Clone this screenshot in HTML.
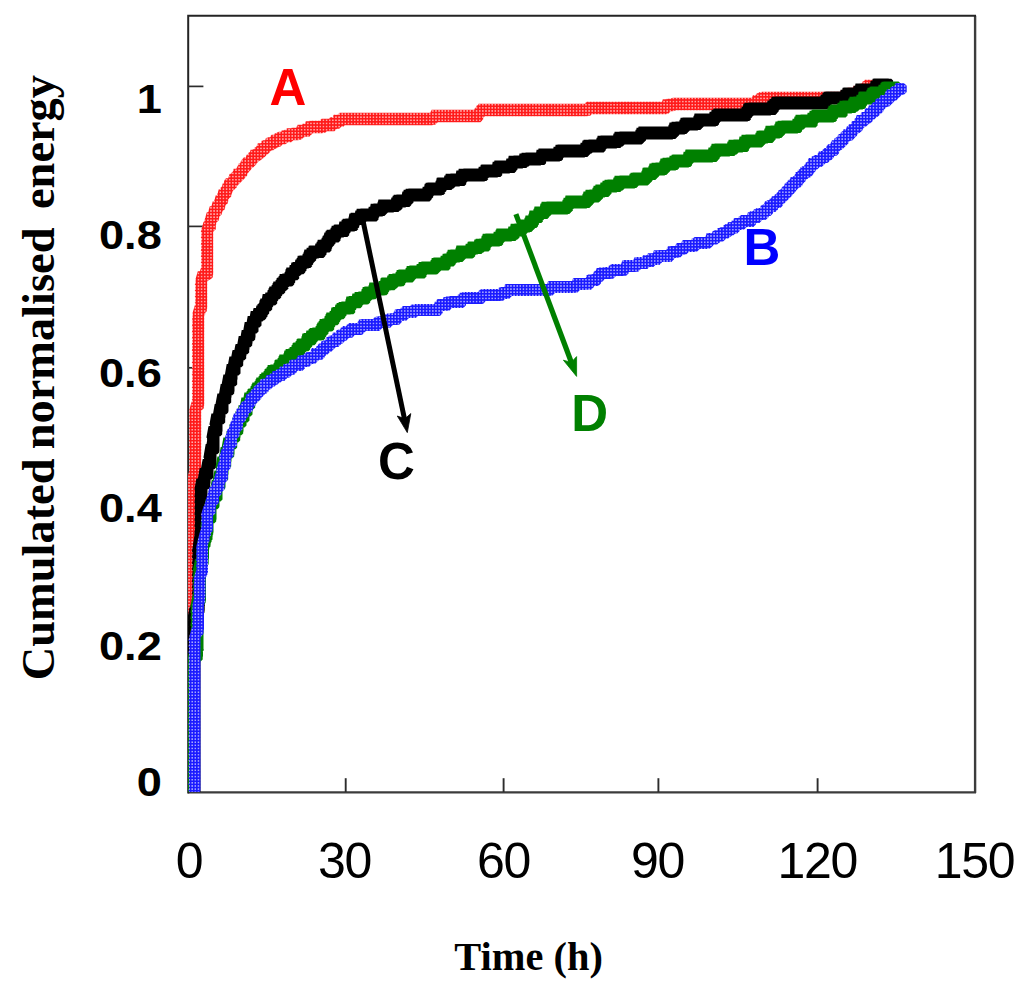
<!DOCTYPE html>
<html><head><meta charset="utf-8">
<style>
html,body{margin:0;padding:0;background:#fff;}
body{width:1024px;height:998px;overflow:hidden;position:relative;font-family:"Liberation Sans",sans-serif;}
svg{position:absolute;left:0;top:0;}
text{font-family:"Liberation Sans",sans-serif;}
.yl{font-weight:bold;font-size:40px;fill:#000;text-anchor:end;}
.xl{font-size:50px;fill:#000;text-anchor:middle;letter-spacing:-1.3px;}
.ser{font-weight:bold;font-size:51px;}
.ttl{font-family:"Liberation Serif",serif;font-weight:bold;fill:#000;}
</style></head>
<body>
<svg width="1024" height="998" viewBox="0 0 1024 998">
<defs>
<clipPath id="plot"><rect x="188" y="15" width="787" height="777"/></clipPath>
<pattern id="pr" width="3.125" height="3.125" patternUnits="userSpaceOnUse"><rect width="3.125" height="3.125" fill="#ff1a1a"/><rect x="0.85" y="0.85" width="1.5" height="1.5" fill="#ffb0b0"/></pattern>
<pattern id="pb" width="3.125" height="3.125" patternUnits="userSpaceOnUse"><rect width="3.125" height="3.125" fill="#1a1aff"/><rect x="0.85" y="0.85" width="1.5" height="1.5" fill="#acacff"/></pattern>
</defs>
<rect width="1024" height="998" fill="#fff"/>
<!-- frame -->
<path d="M975.1 15.7V792.4H188.2" fill="none" stroke="#3c3c3c" stroke-width="2.4" stroke-linejoin="round"/>
<path d="M188.2 793.5V15.7H976" fill="none" stroke="#242424" stroke-width="2"/>
<!-- ticks -->
<g stroke="#2c2c2c" stroke-width="1.7">
<line x1="188" y1="86.4" x2="203.4" y2="86.4"/>
<line x1="188" y1="226.4" x2="203.4" y2="226.4"/>
<line x1="188" y1="367.8" x2="203.4" y2="367.8"/>
<line x1="188" y1="509" x2="203.4" y2="509"/>
<line x1="188" y1="649.8" x2="203.4" y2="649.8"/>
</g>
<g stroke="#2c2c2c" stroke-width="1.9">
<line x1="345.7" y1="778.2" x2="345.7" y2="792"/>
<line x1="503.6" y1="778.2" x2="503.6" y2="792"/>
<line x1="658.4" y1="778.2" x2="658.4" y2="792"/>
<line x1="817.6" y1="778.2" x2="817.6" y2="792"/>
</g>
<!-- series -->
<g clip-path="url(#plot)">
<path fill="url(#pr)" d="M185.8 786.2h6.4l2.6 2.6v6.4l-2.6 2.6h-6.4l-2.6-2.6zM185.8 784.2h6.4l2.6 2.6v6.4l-2.6 2.6h-6.4l-2.6-2.6zM185.8 783.2h6.4l2.6 2.6v6.4l-2.6 2.6h-6.4l-2.6-2.6zM185.6 780.8h6.8l2.8 2.8v6.8l-2.8 2.8h-6.8l-2.8-2.8zM185.8 780.2h6.4l2.6 2.6v6.4l-2.6 2.6h-6.4l-2.6-2.6zM185.8 778.2h6.4l2.6 2.6v6.4l-2.6 2.6h-6.4l-2.6-2.6zM185.8 777.2h6.4l2.6 2.6v6.4l-2.6 2.6h-6.4l-2.6-2.6zM185.6 774.8h6.8l2.8 2.8v6.8l-2.8 2.8h-6.8l-2.8-2.8zM185.8 774.2h6.4l2.6 2.6v6.4l-2.6 2.6h-6.4l-2.6-2.6zM185.8 772.2h6.4l2.6 2.6v6.4l-2.6 2.6h-6.4l-2.6-2.6zM185.8 771.2h6.4l2.6 2.6v6.4l-2.6 2.6h-6.4l-2.6-2.6zM185.6 768.8h6.8l2.8 2.8v6.8l-2.8 2.8h-6.8l-2.8-2.8zM185.8 768.2h6.4l2.6 2.6v6.4l-2.6 2.6h-6.4l-2.6-2.6zM185.8 766.2h6.4l2.6 2.6v6.4l-2.6 2.6h-6.4l-2.6-2.6zM185.8 765.2h6.4l2.6 2.6v6.4l-2.6 2.6h-6.4l-2.6-2.6zM185.6 762.8h6.8l2.8 2.8v6.8l-2.8 2.8h-6.8l-2.8-2.8zM185.8 762.2h6.4l2.6 2.6v6.4l-2.6 2.6h-6.4l-2.6-2.6zM185.8 760.2h6.4l2.6 2.6v6.4l-2.6 2.6h-6.4l-2.6-2.6zM185.8 759.2h6.4l2.6 2.6v6.4l-2.6 2.6h-6.4l-2.6-2.6zM185.6 756.8h6.8l2.8 2.8v6.8l-2.8 2.8h-6.8l-2.8-2.8zM185.8 756.2h6.4l2.6 2.6v6.4l-2.6 2.6h-6.4l-2.6-2.6zM185.8 754.2h6.4l2.6 2.6v6.4l-2.6 2.6h-6.4l-2.6-2.6zM185.8 753.2h6.4l2.6 2.6v6.4l-2.6 2.6h-6.4l-2.6-2.6zM185.6 750.8h6.8l2.8 2.8v6.8l-2.8 2.8h-6.8l-2.8-2.8zM185.8 750.2h6.4l2.6 2.6v6.4l-2.6 2.6h-6.4l-2.6-2.6zM185.8 748.2h6.4l2.6 2.6v6.4l-2.6 2.6h-6.4l-2.6-2.6zM185.8 747.2h6.4l2.6 2.6v6.4l-2.6 2.6h-6.4l-2.6-2.6zM185.6 744.8h6.8l2.8 2.8v6.8l-2.8 2.8h-6.8l-2.8-2.8zM185.8 744.2h6.4l2.6 2.6v6.4l-2.6 2.6h-6.4l-2.6-2.6zM185.8 742.2h6.4l2.6 2.6v6.4l-2.6 2.6h-6.4l-2.6-2.6zM185.8 741.2h6.4l2.6 2.6v6.4l-2.6 2.6h-6.4l-2.6-2.6zM185.6 738.8h6.8l2.8 2.8v6.8l-2.8 2.8h-6.8l-2.8-2.8zM185.8 738.2h6.4l2.6 2.6v6.4l-2.6 2.6h-6.4l-2.6-2.6zM185.8 736.2h6.4l2.6 2.6v6.4l-2.6 2.6h-6.4l-2.6-2.6zM185.8 735.2h6.4l2.6 2.6v6.4l-2.6 2.6h-6.4l-2.6-2.6zM185.6 732.8h6.8l2.8 2.8v6.8l-2.8 2.8h-6.8l-2.8-2.8zM185.8 732.2h6.4l2.6 2.6v6.4l-2.6 2.6h-6.4l-2.6-2.6zM185.8 730.2h6.4l2.6 2.6v6.4l-2.6 2.6h-6.4l-2.6-2.6zM185.8 729.2h6.4l2.6 2.6v6.4l-2.6 2.6h-6.4l-2.6-2.6zM185.6 726.8h6.8l2.8 2.8v6.8l-2.8 2.8h-6.8l-2.8-2.8zM185.8 726.2h6.4l2.6 2.6v6.4l-2.6 2.6h-6.4l-2.6-2.6zM185.8 724.2h6.4l2.6 2.6v6.4l-2.6 2.6h-6.4l-2.6-2.6zM185.8 723.2h6.4l2.6 2.6v6.4l-2.6 2.6h-6.4l-2.6-2.6zM185.6 720.8h6.8l2.8 2.8v6.8l-2.8 2.8h-6.8l-2.8-2.8zM185.8 720.2h6.4l2.6 2.6v6.4l-2.6 2.6h-6.4l-2.6-2.6zM185.8 718.2h6.4l2.6 2.6v6.4l-2.6 2.6h-6.4l-2.6-2.6zM185.8 717.2h6.4l2.6 2.6v6.4l-2.6 2.6h-6.4l-2.6-2.6zM185.6 714.8h6.8l2.8 2.8v6.8l-2.8 2.8h-6.8l-2.8-2.8zM185.8 714.2h6.4l2.6 2.6v6.4l-2.6 2.6h-6.4l-2.6-2.6zM185.8 712.2h6.4l2.6 2.6v6.4l-2.6 2.6h-6.4l-2.6-2.6zM185.8 711.2h6.4l2.6 2.6v6.4l-2.6 2.6h-6.4l-2.6-2.6zM185.6 708.8h6.8l2.8 2.8v6.8l-2.8 2.8h-6.8l-2.8-2.8zM185.8 708.2h6.4l2.6 2.6v6.4l-2.6 2.6h-6.4l-2.6-2.6zM185.8 706.2h6.4l2.6 2.6v6.4l-2.6 2.6h-6.4l-2.6-2.6zM185.8 705.2h6.4l2.6 2.6v6.4l-2.6 2.6h-6.4l-2.6-2.6zM185.6 702.8h6.8l2.8 2.8v6.8l-2.8 2.8h-6.8l-2.8-2.8zM185.8 702.2h6.4l2.6 2.6v6.4l-2.6 2.6h-6.4l-2.6-2.6zM185.8 700.2h6.4l2.6 2.6v6.4l-2.6 2.6h-6.4l-2.6-2.6zM185.8 699.2h6.4l2.6 2.6v6.4l-2.6 2.6h-6.4l-2.6-2.6zM185.6 696.8h6.8l2.8 2.8v6.8l-2.8 2.8h-6.8l-2.8-2.8zM185.8 696.2h6.4l2.6 2.6v6.4l-2.6 2.6h-6.4l-2.6-2.6zM185.8 694.2h6.4l2.6 2.6v6.4l-2.6 2.6h-6.4l-2.6-2.6zM185.8 693.2h6.4l2.6 2.6v6.4l-2.6 2.6h-6.4l-2.6-2.6zM185.6 690.8h6.8l2.8 2.8v6.8l-2.8 2.8h-6.8l-2.8-2.8zM185.8 690.2h6.4l2.6 2.6v6.4l-2.6 2.6h-6.4l-2.6-2.6zM185.8 688.2h6.4l2.6 2.6v6.4l-2.6 2.6h-6.4l-2.6-2.6zM185.8 687.2h6.4l2.6 2.6v6.4l-2.6 2.6h-6.4l-2.6-2.6zM185.6 684.8h6.8l2.8 2.8v6.8l-2.8 2.8h-6.8l-2.8-2.8zM185.8 684.2h6.4l2.6 2.6v6.4l-2.6 2.6h-6.4l-2.6-2.6zM185.8 682.2h6.4l2.6 2.6v6.4l-2.6 2.6h-6.4l-2.6-2.6zM185.8 681.2h6.4l2.6 2.6v6.4l-2.6 2.6h-6.4l-2.6-2.6zM185.6 678.8h6.8l2.8 2.8v6.8l-2.8 2.8h-6.8l-2.8-2.8zM185.8 678.2h6.4l2.6 2.6v6.4l-2.6 2.6h-6.4l-2.6-2.6zM185.8 676.2h6.4l2.6 2.6v6.4l-2.6 2.6h-6.4l-2.6-2.6zM185.8 675.2h6.4l2.6 2.6v6.4l-2.6 2.6h-6.4l-2.6-2.6zM185.6 672.8h6.8l2.8 2.8v6.8l-2.8 2.8h-6.8l-2.8-2.8zM185.8 672.2h6.4l2.6 2.6v6.4l-2.6 2.6h-6.4l-2.6-2.6zM185.8 670.2h6.4l2.6 2.6v6.4l-2.6 2.6h-6.4l-2.6-2.6zM185.8 669.2h6.4l2.6 2.6v6.4l-2.6 2.6h-6.4l-2.6-2.6zM185.6 666.8h6.8l2.8 2.8v6.8l-2.8 2.8h-6.8l-2.8-2.8zM185.8 666.2h6.4l2.6 2.6v6.4l-2.6 2.6h-6.4l-2.6-2.6zM185.8 664.2h6.4l2.6 2.6v6.4l-2.6 2.6h-6.4l-2.6-2.6zM185.8 663.2h6.4l2.6 2.6v6.4l-2.6 2.6h-6.4l-2.6-2.6zM185.6 660.8h6.8l2.8 2.8v6.8l-2.8 2.8h-6.8l-2.8-2.8zM185.8 660.2h6.4l2.6 2.6v6.4l-2.6 2.6h-6.4l-2.6-2.6zM185.8 658.2h6.4l2.6 2.6v6.4l-2.6 2.6h-6.4l-2.6-2.6zM185.8 657.2h6.4l2.6 2.6v6.4l-2.6 2.6h-6.4l-2.6-2.6zM185.6 654.8h6.8l2.8 2.8v6.8l-2.8 2.8h-6.8l-2.8-2.8zM185.8 654.2h6.4l2.6 2.6v6.4l-2.6 2.6h-6.4l-2.6-2.6zM185.8 652.2h6.4l2.6 2.6v6.4l-2.6 2.6h-6.4l-2.6-2.6zM185.8 651.2h6.4l2.6 2.6v6.4l-2.6 2.6h-6.4l-2.6-2.6zM185.6 648.8h6.8l2.8 2.8v6.8l-2.8 2.8h-6.8l-2.8-2.8zM185.8 648.2h6.4l2.6 2.6v6.4l-2.6 2.6h-6.4l-2.6-2.6zM185.8 646.2h6.4l2.6 2.6v6.4l-2.6 2.6h-6.4l-2.6-2.6zM185.8 645.2h6.4l2.6 2.6v6.4l-2.6 2.6h-6.4l-2.6-2.6zM185.6 642.8h6.8l2.8 2.8v6.8l-2.8 2.8h-6.8l-2.8-2.8zM185.8 642.2h6.4l2.6 2.6v6.4l-2.6 2.6h-6.4l-2.6-2.6zM185.8 640.2h6.4l2.6 2.6v6.4l-2.6 2.6h-6.4l-2.6-2.6zM185.8 639.2h6.4l2.6 2.6v6.4l-2.6 2.6h-6.4l-2.6-2.6zM185.6 636.8h6.8l2.8 2.8v6.8l-2.8 2.8h-6.8l-2.8-2.8zM185.8 636.2h6.4l2.6 2.6v6.4l-2.6 2.6h-6.4l-2.6-2.6zM185.8 634.2h6.4l2.6 2.6v6.4l-2.6 2.6h-6.4l-2.6-2.6zM185.8 633.2h6.4l2.6 2.6v6.4l-2.6 2.6h-6.4l-2.6-2.6zM185.6 630.8h6.8l2.8 2.8v6.8l-2.8 2.8h-6.8l-2.8-2.8zM185.8 630.2h6.4l2.6 2.6v6.4l-2.6 2.6h-6.4l-2.6-2.6zM185.8 628.2h6.4l2.6 2.6v6.4l-2.6 2.6h-6.4l-2.6-2.6zM185.8 627.2h6.4l2.6 2.6v6.4l-2.6 2.6h-6.4l-2.6-2.6zM185.6 624.8h6.8l2.8 2.8v6.8l-2.8 2.8h-6.8l-2.8-2.8zM185.8 624.2h6.4l2.6 2.6v6.4l-2.6 2.6h-6.4l-2.6-2.6zM185.8 622.2h6.4l2.6 2.6v6.4l-2.6 2.6h-6.4l-2.6-2.6zM185.8 621.2h6.4l2.6 2.6v6.4l-2.6 2.6h-6.4l-2.6-2.6zM185.6 618.8h6.8l2.8 2.8v6.8l-2.8 2.8h-6.8l-2.8-2.8zM185.8 618.2h6.4l2.6 2.6v6.4l-2.6 2.6h-6.4l-2.6-2.6zM185.8 616.2h6.4l2.6 2.6v6.4l-2.6 2.6h-6.4l-2.6-2.6zM185.8 615.2h6.4l2.6 2.6v6.4l-2.6 2.6h-6.4l-2.6-2.6zM185.6 612.8h6.8l2.8 2.8v6.8l-2.8 2.8h-6.8l-2.8-2.8zM185.8 612.2h6.4l2.6 2.6v6.4l-2.6 2.6h-6.4l-2.6-2.6zM185.8 610.2h6.4l2.6 2.6v6.4l-2.6 2.6h-6.4l-2.6-2.6zM185.8 609.2h6.4l2.6 2.6v6.4l-2.6 2.6h-6.4l-2.6-2.6zM185.6 606.8h6.8l2.8 2.8v6.8l-2.8 2.8h-6.8l-2.8-2.8zM185.8 606.2h6.4l2.6 2.6v6.4l-2.6 2.6h-6.4l-2.6-2.6zM185.8 604.2h6.4l2.6 2.6v6.4l-2.6 2.6h-6.4l-2.6-2.6zM185.8 603.2h6.4l2.6 2.6v6.4l-2.6 2.6h-6.4l-2.6-2.6zM185.6 600.8h6.8l2.8 2.8v6.8l-2.8 2.8h-6.8l-2.8-2.8zM185.8 600.2h6.4l2.6 2.6v6.4l-2.6 2.6h-6.4l-2.6-2.6zM185.8 598.2h6.4l2.6 2.6v6.4l-2.6 2.6h-6.4l-2.6-2.6zM185.8 597.2h6.4l2.6 2.6v6.4l-2.6 2.6h-6.4l-2.6-2.6zM185.6 594.8h6.8l2.8 2.8v6.8l-2.8 2.8h-6.8l-2.8-2.8zM185.8 594.2h6.4l2.6 2.6v6.4l-2.6 2.6h-6.4l-2.6-2.6zM185.8 592.2h6.4l2.6 2.6v6.4l-2.6 2.6h-6.4l-2.6-2.6zM185.8 591.2h6.4l2.6 2.6v6.4l-2.6 2.6h-6.4l-2.6-2.6zM185.6 588.8h6.8l2.8 2.8v6.8l-2.8 2.8h-6.8l-2.8-2.8zM185.8 588.2h6.4l2.6 2.6v6.4l-2.6 2.6h-6.4l-2.6-2.6zM185.8 586.2h6.4l2.6 2.6v6.4l-2.6 2.6h-6.4l-2.6-2.6zM185.8 585.2h6.4l2.6 2.6v6.4l-2.6 2.6h-6.4l-2.6-2.6zM185.6 582.8h6.8l2.8 2.8v6.8l-2.8 2.8h-6.8l-2.8-2.8zM185.8 582.2h6.4l2.6 2.6v6.4l-2.6 2.6h-6.4l-2.6-2.6zM185.8 580.2h6.4l2.6 2.6v6.4l-2.6 2.6h-6.4l-2.6-2.6zM185.8 579.2h6.4l2.6 2.6v6.4l-2.6 2.6h-6.4l-2.6-2.6zM185.6 576.8h6.8l2.8 2.8v6.8l-2.8 2.8h-6.8l-2.8-2.8zM185.8 576.2h6.4l2.6 2.6v6.4l-2.6 2.6h-6.4l-2.6-2.6zM185.8 574.2h6.4l2.6 2.6v6.4l-2.6 2.6h-6.4l-2.6-2.6zM185.8 573.2h6.4l2.6 2.6v6.4l-2.6 2.6h-6.4l-2.6-2.6zM185.6 570.8h6.8l2.8 2.8v6.8l-2.8 2.8h-6.8l-2.8-2.8zM185.8 570.2h6.4l2.6 2.6v6.4l-2.6 2.6h-6.4l-2.6-2.6zM185.8 568.2h6.4l2.6 2.6v6.4l-2.6 2.6h-6.4l-2.6-2.6zM185.8 567.2h6.4l2.6 2.6v6.4l-2.6 2.6h-6.4l-2.6-2.6zM185.6 564.8h6.8l2.8 2.8v6.8l-2.8 2.8h-6.8l-2.8-2.8zM185.8 564.2h6.4l2.6 2.6v6.4l-2.6 2.6h-6.4l-2.6-2.6zM185.8 562.2h6.4l2.6 2.6v6.4l-2.6 2.6h-6.4l-2.6-2.6zM185.8 561.2h6.4l2.6 2.6v6.4l-2.6 2.6h-6.4l-2.6-2.6zM185.6 558.8h6.8l2.8 2.8v6.8l-2.8 2.8h-6.8l-2.8-2.8zM185.8 558.2h6.4l2.6 2.6v6.4l-2.6 2.6h-6.4l-2.6-2.6zM185.8 556.2h6.4l2.6 2.6v6.4l-2.6 2.6h-6.4l-2.6-2.6zM185.8 555.2h6.4l2.6 2.6v6.4l-2.6 2.6h-6.4l-2.6-2.6zM185.6 552.8h6.8l2.8 2.8v6.8l-2.8 2.8h-6.8l-2.8-2.8zM185.8 552.2h6.4l2.6 2.6v6.4l-2.6 2.6h-6.4l-2.6-2.6zM185.8 550.2h6.4l2.6 2.6v6.4l-2.6 2.6h-6.4l-2.6-2.6zM185.8 549.2h6.4l2.6 2.6v6.4l-2.6 2.6h-6.4l-2.6-2.6zM185.6 546.8h6.8l2.8 2.8v6.8l-2.8 2.8h-6.8l-2.8-2.8zM185.8 546.2h6.4l2.6 2.6v6.4l-2.6 2.6h-6.4l-2.6-2.6zM185.8 544.2h6.4l2.6 2.6v6.4l-2.6 2.6h-6.4l-2.6-2.6zM185.8 543.2h6.4l2.6 2.6v6.4l-2.6 2.6h-6.4l-2.6-2.6zM185.6 540.8h6.8l2.8 2.8v6.8l-2.8 2.8h-6.8l-2.8-2.8zM185.8 540.2h6.4l2.6 2.6v6.4l-2.6 2.6h-6.4l-2.6-2.6zM185.8 538.2h6.4l2.6 2.6v6.4l-2.6 2.6h-6.4l-2.6-2.6zM185.8 537.2h6.4l2.6 2.6v6.4l-2.6 2.6h-6.4l-2.6-2.6zM185.6 534.8h6.8l2.8 2.8v6.8l-2.8 2.8h-6.8l-2.8-2.8zM185.8 534.2h6.4l2.6 2.6v6.4l-2.6 2.6h-6.4l-2.6-2.6zM185.8 532.2h6.4l2.6 2.6v6.4l-2.6 2.6h-6.4l-2.6-2.6zM185.8 531.2h6.4l2.6 2.6v6.4l-2.6 2.6h-6.4l-2.6-2.6zM185.6 528.8h6.8l2.8 2.8v6.8l-2.8 2.8h-6.8l-2.8-2.8zM185.8 528.2h6.4l2.6 2.6v6.4l-2.6 2.6h-6.4l-2.6-2.6zM185.8 526.2h6.4l2.6 2.6v6.4l-2.6 2.6h-6.4l-2.6-2.6zM185.8 525.2h6.4l2.6 2.6v6.4l-2.6 2.6h-6.4l-2.6-2.6zM185.6 522.8h6.8l2.8 2.8v6.8l-2.8 2.8h-6.8l-2.8-2.8zM185.8 522.2h6.4l2.6 2.6v6.4l-2.6 2.6h-6.4l-2.6-2.6zM185.8 520.2h6.4l2.6 2.6v6.4l-2.6 2.6h-6.4l-2.6-2.6zM185.8 519.2h6.4l2.6 2.6v6.4l-2.6 2.6h-6.4l-2.6-2.6zM185.6 516.8h6.8l2.8 2.8v6.8l-2.8 2.8h-6.8l-2.8-2.8zM185.8 516.2h6.4l2.6 2.6v6.4l-2.6 2.6h-6.4l-2.6-2.6zM185.8 514.2h6.4l2.6 2.6v6.4l-2.6 2.6h-6.4l-2.6-2.6zM185.8 512.2h6.4l2.6 2.6v6.4l-2.6 2.6h-6.4l-2.6-2.6zM185.6 510.8h6.8l2.8 2.8v6.8l-2.8 2.8h-6.8l-2.8-2.8zM185.8 509.2h6.4l2.6 2.6v6.4l-2.6 2.6h-6.4l-2.6-2.6zM185.8 508.2h6.4l2.6 2.6v6.4l-2.6 2.6h-6.4l-2.6-2.6zM185.8 506.2h6.4l2.6 2.6v6.4l-2.6 2.6h-6.4l-2.6-2.6zM185.6 504.8h6.8l2.8 2.8v6.8l-2.8 2.8h-6.8l-2.8-2.8zM185.8 503.2h6.4l2.6 2.6v6.4l-2.6 2.6h-6.4l-2.6-2.6zM185.8 502.2h6.4l2.6 2.6v6.4l-2.6 2.6h-6.4l-2.6-2.6zM185.8 500.2h6.4l2.6 2.6v6.4l-2.6 2.6h-6.4l-2.6-2.6zM185.6 498.8h6.8l2.8 2.8v6.8l-2.8 2.8h-6.8l-2.8-2.8zM185.8 497.2h6.4l2.6 2.6v6.4l-2.6 2.6h-6.4l-2.6-2.6zM185.8 496.2h6.4l2.6 2.6v6.4l-2.6 2.6h-6.4l-2.6-2.6zM188.8 494.2h6.4l2.6 2.6v6.4l-2.6 2.6h-6.4l-2.6-2.6zM188.6 491.8h6.8l2.8 2.8v6.8l-2.8 2.8h-6.8l-2.8-2.8zM188.8 491.2h6.4l2.6 2.6v6.4l-2.6 2.6h-6.4l-2.6-2.6zM188.8 490.2h6.4l2.6 2.6v6.4l-2.6 2.6h-6.4l-2.6-2.6zM188.8 488.2h6.4l2.6 2.6v6.4l-2.6 2.6h-6.4l-2.6-2.6zM188.6 485.8h6.8l2.8 2.8v6.8l-2.8 2.8h-6.8l-2.8-2.8zM188.8 485.2h6.4l2.6 2.6v6.4l-2.6 2.6h-6.4l-2.6-2.6zM188.8 484.2h6.4l2.6 2.6v6.4l-2.6 2.6h-6.4l-2.6-2.6zM188.8 482.2h6.4l2.6 2.6v6.4l-2.6 2.6h-6.4l-2.6-2.6zM188.6 479.8h6.8l2.8 2.8v6.8l-2.8 2.8h-6.8l-2.8-2.8zM188.8 479.2h6.4l2.6 2.6v6.4l-2.6 2.6h-6.4l-2.6-2.6zM188.8 478.2h6.4l2.6 2.6v6.4l-2.6 2.6h-6.4l-2.6-2.6zM188.8 476.2h6.4l2.6 2.6v6.4l-2.6 2.6h-6.4l-2.6-2.6zM188.6 473.8h6.8l2.8 2.8v6.8l-2.8 2.8h-6.8l-2.8-2.8zM188.8 473.2h6.4l2.6 2.6v6.4l-2.6 2.6h-6.4l-2.6-2.6zM188.8 472.2h6.4l2.6 2.6v6.4l-2.6 2.6h-6.4l-2.6-2.6zM191.8 470.2h6.4l2.6 2.6v6.4l-2.6 2.6h-6.4l-2.6-2.6zM191.6 467.8h6.8l2.8 2.8v6.8l-2.8 2.8h-6.8l-2.8-2.8zM191.8 467.2h6.4l2.6 2.6v6.4l-2.6 2.6h-6.4l-2.6-2.6zM191.8 466.2h6.4l2.6 2.6v6.4l-2.6 2.6h-6.4l-2.6-2.6zM191.8 464.2h6.4l2.6 2.6v6.4l-2.6 2.6h-6.4l-2.6-2.6zM191.6 461.8h6.8l2.8 2.8v6.8l-2.8 2.8h-6.8l-2.8-2.8zM191.8 461.2h6.4l2.6 2.6v6.4l-2.6 2.6h-6.4l-2.6-2.6zM191.8 460.2h6.4l2.6 2.6v6.4l-2.6 2.6h-6.4l-2.6-2.6zM191.8 458.2h6.4l2.6 2.6v6.4l-2.6 2.6h-6.4l-2.6-2.6zM191.6 455.8h6.8l2.8 2.8v6.8l-2.8 2.8h-6.8l-2.8-2.8zM191.8 455.2h6.4l2.6 2.6v6.4l-2.6 2.6h-6.4l-2.6-2.6zM191.8 454.2h6.4l2.6 2.6v6.4l-2.6 2.6h-6.4l-2.6-2.6zM191.8 452.2h6.4l2.6 2.6v6.4l-2.6 2.6h-6.4l-2.6-2.6zM191.6 449.8h6.8l2.8 2.8v6.8l-2.8 2.8h-6.8l-2.8-2.8zM191.8 449.2h6.4l2.6 2.6v6.4l-2.6 2.6h-6.4l-2.6-2.6zM191.8 448.2h6.4l2.6 2.6v6.4l-2.6 2.6h-6.4l-2.6-2.6zM191.8 446.2h6.4l2.6 2.6v6.4l-2.6 2.6h-6.4l-2.6-2.6zM191.6 443.8h6.8l2.8 2.8v6.8l-2.8 2.8h-6.8l-2.8-2.8zM191.8 443.2h6.4l2.6 2.6v6.4l-2.6 2.6h-6.4l-2.6-2.6zM191.8 442.2h6.4l2.6 2.6v6.4l-2.6 2.6h-6.4l-2.6-2.6zM191.8 440.2h6.4l2.6 2.6v6.4l-2.6 2.6h-6.4l-2.6-2.6zM191.6 437.8h6.8l2.8 2.8v6.8l-2.8 2.8h-6.8l-2.8-2.8zM191.8 437.2h6.4l2.6 2.6v6.4l-2.6 2.6h-6.4l-2.6-2.6zM191.8 436.2h6.4l2.6 2.6v6.4l-2.6 2.6h-6.4l-2.6-2.6zM191.8 434.2h6.4l2.6 2.6v6.4l-2.6 2.6h-6.4l-2.6-2.6zM191.6 431.8h6.8l2.8 2.8v6.8l-2.8 2.8h-6.8l-2.8-2.8zM191.8 431.2h6.4l2.6 2.6v6.4l-2.6 2.6h-6.4l-2.6-2.6zM191.8 430.2h6.4l2.6 2.6v6.4l-2.6 2.6h-6.4l-2.6-2.6zM191.8 428.2h6.4l2.6 2.6v6.4l-2.6 2.6h-6.4l-2.6-2.6zM191.6 425.8h6.8l2.8 2.8v6.8l-2.8 2.8h-6.8l-2.8-2.8zM191.8 425.2h6.4l2.6 2.6v6.4l-2.6 2.6h-6.4l-2.6-2.6zM191.8 424.2h6.4l2.6 2.6v6.4l-2.6 2.6h-6.4l-2.6-2.6zM191.8 422.2h6.4l2.6 2.6v6.4l-2.6 2.6h-6.4l-2.6-2.6zM191.6 419.8h6.8l2.8 2.8v6.8l-2.8 2.8h-6.8l-2.8-2.8zM191.8 419.2h6.4l2.6 2.6v6.4l-2.6 2.6h-6.4l-2.6-2.6zM191.8 418.2h6.4l2.6 2.6v6.4l-2.6 2.6h-6.4l-2.6-2.6zM191.8 416.2h6.4l2.6 2.6v6.4l-2.6 2.6h-6.4l-2.6-2.6zM191.6 413.8h6.8l2.8 2.8v6.8l-2.8 2.8h-6.8l-2.8-2.8zM191.8 413.2h6.4l2.6 2.6v6.4l-2.6 2.6h-6.4l-2.6-2.6zM191.8 412.2h6.4l2.6 2.6v6.4l-2.6 2.6h-6.4l-2.6-2.6zM191.8 410.2h6.4l2.6 2.6v6.4l-2.6 2.6h-6.4l-2.6-2.6zM191.6 407.8h6.8l2.8 2.8v6.8l-2.8 2.8h-6.8l-2.8-2.8zM191.8 407.2h6.4l2.6 2.6v6.4l-2.6 2.6h-6.4l-2.6-2.6zM191.8 406.2h6.4l2.6 2.6v6.4l-2.6 2.6h-6.4l-2.6-2.6zM191.8 404.2h6.4l2.6 2.6v6.4l-2.6 2.6h-6.4l-2.6-2.6zM191.6 401.8h6.8l2.8 2.8v6.8l-2.8 2.8h-6.8l-2.8-2.8zM191.8 401.2h6.4l2.6 2.6v6.4l-2.6 2.6h-6.4l-2.6-2.6zM194.8 399.2h6.4l2.6 2.6v6.4l-2.6 2.6h-6.4l-2.6-2.6zM194.8 398.2h6.4l2.6 2.6v6.4l-2.6 2.6h-6.4l-2.6-2.6zM194.6 395.8h6.8l2.8 2.8v6.8l-2.8 2.8h-6.8l-2.8-2.8zM194.8 394.2h6.4l2.6 2.6v6.4l-2.6 2.6h-6.4l-2.6-2.6zM194.8 393.2h6.4l2.6 2.6v6.4l-2.6 2.6h-6.4l-2.6-2.6zM194.8 391.2h6.4l2.6 2.6v6.4l-2.6 2.6h-6.4l-2.6-2.6zM194.6 389.8h6.8l2.8 2.8v6.8l-2.8 2.8h-6.8l-2.8-2.8zM194.8 388.2h6.4l2.6 2.6v6.4l-2.6 2.6h-6.4l-2.6-2.6zM194.8 387.2h6.4l2.6 2.6v6.4l-2.6 2.6h-6.4l-2.6-2.6zM194.8 385.2h6.4l2.6 2.6v6.4l-2.6 2.6h-6.4l-2.6-2.6zM194.6 383.8h6.8l2.8 2.8v6.8l-2.8 2.8h-6.8l-2.8-2.8zM194.8 382.2h6.4l2.6 2.6v6.4l-2.6 2.6h-6.4l-2.6-2.6zM194.8 381.2h6.4l2.6 2.6v6.4l-2.6 2.6h-6.4l-2.6-2.6zM194.8 379.2h6.4l2.6 2.6v6.4l-2.6 2.6h-6.4l-2.6-2.6zM194.6 377.8h6.8l2.8 2.8v6.8l-2.8 2.8h-6.8l-2.8-2.8zM194.8 376.2h6.4l2.6 2.6v6.4l-2.6 2.6h-6.4l-2.6-2.6zM194.8 375.2h6.4l2.6 2.6v6.4l-2.6 2.6h-6.4l-2.6-2.6zM194.8 373.2h6.4l2.6 2.6v6.4l-2.6 2.6h-6.4l-2.6-2.6zM194.6 371.8h6.8l2.8 2.8v6.8l-2.8 2.8h-6.8l-2.8-2.8zM194.8 370.2h6.4l2.6 2.6v6.4l-2.6 2.6h-6.4l-2.6-2.6zM194.8 368.2h6.4l2.6 2.6v6.4l-2.6 2.6h-6.4l-2.6-2.6zM194.8 367.2h6.4l2.6 2.6v6.4l-2.6 2.6h-6.4l-2.6-2.6zM194.6 364.8h6.8l2.8 2.8v6.8l-2.8 2.8h-6.8l-2.8-2.8zM194.8 364.2h6.4l2.6 2.6v6.4l-2.6 2.6h-6.4l-2.6-2.6zM194.8 362.2h6.4l2.6 2.6v6.4l-2.6 2.6h-6.4l-2.6-2.6zM194.8 361.2h6.4l2.6 2.6v6.4l-2.6 2.6h-6.4l-2.6-2.6zM194.6 358.8h6.8l2.8 2.8v6.8l-2.8 2.8h-6.8l-2.8-2.8zM194.8 358.2h6.4l2.6 2.6v6.4l-2.6 2.6h-6.4l-2.6-2.6zM194.8 356.2h6.4l2.6 2.6v6.4l-2.6 2.6h-6.4l-2.6-2.6zM194.8 355.2h6.4l2.6 2.6v6.4l-2.6 2.6h-6.4l-2.6-2.6zM194.6 352.8h6.8l2.8 2.8v6.8l-2.8 2.8h-6.8l-2.8-2.8zM194.8 352.2h6.4l2.6 2.6v6.4l-2.6 2.6h-6.4l-2.6-2.6zM194.8 350.2h6.4l2.6 2.6v6.4l-2.6 2.6h-6.4l-2.6-2.6zM194.8 349.2h6.4l2.6 2.6v6.4l-2.6 2.6h-6.4l-2.6-2.6zM194.6 346.8h6.8l2.8 2.8v6.8l-2.8 2.8h-6.8l-2.8-2.8zM194.8 346.2h6.4l2.6 2.6v6.4l-2.6 2.6h-6.4l-2.6-2.6zM194.8 344.2h6.4l2.6 2.6v6.4l-2.6 2.6h-6.4l-2.6-2.6zM194.8 342.2h6.4l2.6 2.6v6.4l-2.6 2.6h-6.4l-2.6-2.6zM194.6 340.8h6.8l2.8 2.8v6.8l-2.8 2.8h-6.8l-2.8-2.8zM194.8 339.2h6.4l2.6 2.6v6.4l-2.6 2.6h-6.4l-2.6-2.6zM194.8 338.2h6.4l2.6 2.6v6.4l-2.6 2.6h-6.4l-2.6-2.6zM194.8 336.2h6.4l2.6 2.6v6.4l-2.6 2.6h-6.4l-2.6-2.6zM194.6 334.8h6.8l2.8 2.8v6.8l-2.8 2.8h-6.8l-2.8-2.8zM194.8 333.2h6.4l2.6 2.6v6.4l-2.6 2.6h-6.4l-2.6-2.6zM194.8 332.2h6.4l2.6 2.6v6.4l-2.6 2.6h-6.4l-2.6-2.6zM194.8 330.2h6.4l2.6 2.6v6.4l-2.6 2.6h-6.4l-2.6-2.6zM194.6 328.8h6.8l2.8 2.8v6.8l-2.8 2.8h-6.8l-2.8-2.8zM194.8 327.2h6.4l2.6 2.6v6.4l-2.6 2.6h-6.4l-2.6-2.6zM194.8 326.2h6.4l2.6 2.6v6.4l-2.6 2.6h-6.4l-2.6-2.6zM194.8 324.2h6.4l2.6 2.6v6.4l-2.6 2.6h-6.4l-2.6-2.6zM194.6 322.8h6.8l2.8 2.8v6.8l-2.8 2.8h-6.8l-2.8-2.8zM194.8 321.2h6.4l2.6 2.6v6.4l-2.6 2.6h-6.4l-2.6-2.6zM194.8 320.2h6.4l2.6 2.6v6.4l-2.6 2.6h-6.4l-2.6-2.6zM194.8 318.2h6.4l2.6 2.6v6.4l-2.6 2.6h-6.4l-2.6-2.6zM194.6 316.8h6.8l2.8 2.8v6.8l-2.8 2.8h-6.8l-2.8-2.8zM194.8 315.2h6.4l2.6 2.6v6.4l-2.6 2.6h-6.4l-2.6-2.6zM194.8 314.2h6.4l2.6 2.6v6.4l-2.6 2.6h-6.4l-2.6-2.6zM194.8 312.2h6.4l2.6 2.6v6.4l-2.6 2.6h-6.4l-2.6-2.6zM194.6 310.8h6.8l2.8 2.8v6.8l-2.8 2.8h-6.8l-2.8-2.8zM194.8 309.2h6.4l2.6 2.6v6.4l-2.6 2.6h-6.4l-2.6-2.6zM194.8 308.2h6.4l2.6 2.6v6.4l-2.6 2.6h-6.4l-2.6-2.6zM194.8 305.2h6.4l2.6 2.6v6.4l-2.6 2.6h-6.4l-2.6-2.6zM195.6 304.8h6.8l2.8 2.8v6.8l-2.8 2.8h-6.8l-2.8-2.8zM196.8 303.2h6.4l2.6 2.6v6.4l-2.6 2.6h-6.4l-2.6-2.6zM197.8 302.2h6.4l2.6 2.6v6.4l-2.6 2.6h-6.4l-2.6-2.6zM197.8 300.2h6.4l2.6 2.6v6.4l-2.6 2.6h-6.4l-2.6-2.6zM197.6 298.8h6.8l2.8 2.8v6.8l-2.8 2.8h-6.8l-2.8-2.8zM197.8 298.2h6.4l2.6 2.6v6.4l-2.6 2.6h-6.4l-2.6-2.6zM197.8 296.2h6.4l2.6 2.6v6.4l-2.6 2.6h-6.4l-2.6-2.6zM197.8 294.2h6.4l2.6 2.6v6.4l-2.6 2.6h-6.4l-2.6-2.6zM197.6 292.8h6.8l2.8 2.8v6.8l-2.8 2.8h-6.8l-2.8-2.8zM197.8 292.2h6.4l2.6 2.6v6.4l-2.6 2.6h-6.4l-2.6-2.6zM197.8 290.2h6.4l2.6 2.6v6.4l-2.6 2.6h-6.4l-2.6-2.6zM197.8 288.2h6.4l2.6 2.6v6.4l-2.6 2.6h-6.4l-2.6-2.6zM197.6 286.8h6.8l2.8 2.8v6.8l-2.8 2.8h-6.8l-2.8-2.8zM197.8 286.2h6.4l2.6 2.6v6.4l-2.6 2.6h-6.4l-2.6-2.6zM197.8 284.2h6.4l2.6 2.6v6.4l-2.6 2.6h-6.4l-2.6-2.6zM197.8 282.2h6.4l2.6 2.6v6.4l-2.6 2.6h-6.4l-2.6-2.6zM197.6 280.8h6.8l2.8 2.8v6.8l-2.8 2.8h-6.8l-2.8-2.8zM197.8 280.2h6.4l2.6 2.6v6.4l-2.6 2.6h-6.4l-2.6-2.6zM197.8 278.2h6.4l2.6 2.6v6.4l-2.6 2.6h-6.4l-2.6-2.6zM197.8 276.2h6.4l2.6 2.6v6.4l-2.6 2.6h-6.4l-2.6-2.6zM197.6 274.8h6.8l2.8 2.8v6.8l-2.8 2.8h-6.8l-2.8-2.8zM197.8 274.2h6.4l2.6 2.6v6.4l-2.6 2.6h-6.4l-2.6-2.6zM197.8 271.2h6.4l2.6 2.6v6.4l-2.6 2.6h-6.4l-2.6-2.6zM198.8 271.2h6.4l2.6 2.6v6.4l-2.6 2.6h-6.4l-2.6-2.6zM200.6 268.8h6.8l2.8 2.8v6.8l-2.8 2.8h-6.8l-2.8-2.8zM201.8 269.2h6.4l2.6 2.6v6.4l-2.6 2.6h-6.4l-2.6-2.6zM203.8 268.2h6.4l2.6 2.6v6.4l-2.6 2.6h-6.4l-2.6-2.6zM203.8 266.2h6.4l2.6 2.6v6.4l-2.6 2.6h-6.4l-2.6-2.6zM203.6 264.8h6.8l2.8 2.8v6.8l-2.8 2.8h-6.8l-2.8-2.8zM203.8 263.2h6.4l2.6 2.6v6.4l-2.6 2.6h-6.4l-2.6-2.6zM203.8 262.2h6.4l2.6 2.6v6.4l-2.6 2.6h-6.4l-2.6-2.6zM203.8 260.2h6.4l2.6 2.6v6.4l-2.6 2.6h-6.4l-2.6-2.6zM203.6 258.8h6.8l2.8 2.8v6.8l-2.8 2.8h-6.8l-2.8-2.8zM203.8 257.2h6.4l2.6 2.6v6.4l-2.6 2.6h-6.4l-2.6-2.6zM203.8 256.2h6.4l2.6 2.6v6.4l-2.6 2.6h-6.4l-2.6-2.6zM203.8 254.2h6.4l2.6 2.6v6.4l-2.6 2.6h-6.4l-2.6-2.6zM203.6 252.8h6.8l2.8 2.8v6.8l-2.8 2.8h-6.8l-2.8-2.8zM203.8 251.2h6.4l2.6 2.6v6.4l-2.6 2.6h-6.4l-2.6-2.6zM203.8 250.2h6.4l2.6 2.6v6.4l-2.6 2.6h-6.4l-2.6-2.6zM203.8 248.2h6.4l2.6 2.6v6.4l-2.6 2.6h-6.4l-2.6-2.6zM203.6 246.8h6.8l2.8 2.8v6.8l-2.8 2.8h-6.8l-2.8-2.8zM203.8 245.2h6.4l2.6 2.6v6.4l-2.6 2.6h-6.4l-2.6-2.6zM203.8 244.2h6.4l2.6 2.6v6.4l-2.6 2.6h-6.4l-2.6-2.6zM203.8 242.2h6.4l2.6 2.6v6.4l-2.6 2.6h-6.4l-2.6-2.6zM203.6 240.8h6.8l2.8 2.8v6.8l-2.8 2.8h-6.8l-2.8-2.8zM203.8 239.2h6.4l2.6 2.6v6.4l-2.6 2.6h-6.4l-2.6-2.6zM203.8 238.2h6.4l2.6 2.6v6.4l-2.6 2.6h-6.4l-2.6-2.6zM203.8 236.2h6.4l2.6 2.6v6.4l-2.6 2.6h-6.4l-2.6-2.6zM203.6 234.8h6.8l2.8 2.8v6.8l-2.8 2.8h-6.8l-2.8-2.8zM203.8 233.2h6.4l2.6 2.6v6.4l-2.6 2.6h-6.4l-2.6-2.6zM203.8 232.2h6.4l2.6 2.6v6.4l-2.6 2.6h-6.4l-2.6-2.6zM203.8 230.2h6.4l2.6 2.6v6.4l-2.6 2.6h-6.4l-2.6-2.6zM203.6 227.8h6.8l2.8 2.8v6.8l-2.8 2.8h-6.8l-2.8-2.8zM203.8 226.2h6.4l2.6 2.6v6.4l-2.6 2.6h-6.4l-2.6-2.6zM203.8 224.2h6.4l2.6 2.6v6.4l-2.6 2.6h-6.4l-2.6-2.6zM203.8 223.2h6.4l2.6 2.6v6.4l-2.6 2.6h-6.4l-2.6-2.6zM203.6 221.8h6.8l2.8 2.8v6.8l-2.8 2.8h-6.8l-2.8-2.8zM206.8 220.2h6.4l2.6 2.6v6.4l-2.6 2.6h-6.4l-2.6-2.6zM206.8 218.2h6.4l2.6 2.6v6.4l-2.6 2.6h-6.4l-2.6-2.6zM206.8 217.2h6.4l2.6 2.6v6.4l-2.6 2.6h-6.4l-2.6-2.6zM206.6 214.8h6.8l2.8 2.8v6.8l-2.8 2.8h-6.8l-2.8-2.8zM206.8 214.2h6.4l2.6 2.6v6.4l-2.6 2.6h-6.4l-2.6-2.6zM206.8 212.2h6.4l2.6 2.6v6.4l-2.6 2.6h-6.4l-2.6-2.6zM209.8 211.2h6.4l2.6 2.6v6.4l-2.6 2.6h-6.4l-2.6-2.6zM209.6 208.8h6.8l2.8 2.8v6.8l-2.8 2.8h-6.8l-2.8-2.8zM209.8 208.2h6.4l2.6 2.6v6.4l-2.6 2.6h-6.4l-2.6-2.6zM209.8 206.2h6.4l2.6 2.6v6.4l-2.6 2.6h-6.4l-2.6-2.6zM212.8 205.2h6.4l2.6 2.6v6.4l-2.6 2.6h-6.4l-2.6-2.6zM212.6 202.8h6.8l2.8 2.8v6.8l-2.8 2.8h-6.8l-2.8-2.8zM212.8 202.2h6.4l2.6 2.6v6.4l-2.6 2.6h-6.4l-2.6-2.6zM212.8 201.2h6.4l2.6 2.6v6.4l-2.6 2.6h-6.4l-2.6-2.6zM215.8 200.2h6.4l2.6 2.6v6.4l-2.6 2.6h-6.4l-2.6-2.6zM215.6 197.8h6.8l2.8 2.8v6.8l-2.8 2.8h-6.8l-2.8-2.8zM215.8 197.2h6.4l2.6 2.6v6.4l-2.6 2.6h-6.4l-2.6-2.6zM215.8 195.2h6.4l2.6 2.6v6.4l-2.6 2.6h-6.4l-2.6-2.6zM218.8 194.2h6.4l2.6 2.6v6.4l-2.6 2.6h-6.4l-2.6-2.6zM218.6 191.8h6.8l2.8 2.8v6.8l-2.8 2.8h-6.8l-2.8-2.8zM218.8 191.2h6.4l2.6 2.6v6.4l-2.6 2.6h-6.4l-2.6-2.6zM218.8 189.2h6.4l2.6 2.6v6.4l-2.6 2.6h-6.4l-2.6-2.6zM220.8 187.2h6.4l2.6 2.6v6.4l-2.6 2.6h-6.4l-2.6-2.6zM221.6 186.8h6.8l2.8 2.8v6.8l-2.8 2.8h-6.8l-2.8-2.8zM222.8 185.2h6.4l2.6 2.6v6.4l-2.6 2.6h-6.4l-2.6-2.6zM222.8 183.2h6.4l2.6 2.6v6.4l-2.6 2.6h-6.4l-2.6-2.6zM223.8 183.2h6.4l2.6 2.6v6.4l-2.6 2.6h-6.4l-2.6-2.6zM224.6 179.8h6.8l2.8 2.8v6.8l-2.8 2.8h-6.8l-2.8-2.8zM225.8 178.2h6.4l2.6 2.6v6.4l-2.6 2.6h-6.4l-2.6-2.6zM227.8 178.2h6.4l2.6 2.6v6.4l-2.6 2.6h-6.4l-2.6-2.6zM228.8 176.2h6.4l2.6 2.6v6.4l-2.6 2.6h-6.4l-2.6-2.6zM229.6 173.8h6.8l2.8 2.8v6.8l-2.8 2.8h-6.8l-2.8-2.8zM230.8 174.2h6.4l2.6 2.6v6.4l-2.6 2.6h-6.4l-2.6-2.6zM231.8 172.2h6.4l2.6 2.6v6.4l-2.6 2.6h-6.4l-2.6-2.6zM232.8 172.2h6.4l2.6 2.6v6.4l-2.6 2.6h-6.4l-2.6-2.6zM233.6 168.8h6.8l2.8 2.8v6.8l-2.8 2.8h-6.8l-2.8-2.8zM234.8 169.2h6.4l2.6 2.6v6.4l-2.6 2.6h-6.4l-2.6-2.6zM235.8 169.2h6.4l2.6 2.6v6.4l-2.6 2.6h-6.4l-2.6-2.6zM236.8 167.2h6.4l2.6 2.6v6.4l-2.6 2.6h-6.4l-2.6-2.6zM237.6 165.8h6.8l2.8 2.8v6.8l-2.8 2.8h-6.8l-2.8-2.8zM238.8 163.2h6.4l2.6 2.6v6.4l-2.6 2.6h-6.4l-2.6-2.6zM239.8 163.2h6.4l2.6 2.6v6.4l-2.6 2.6h-6.4l-2.6-2.6zM240.8 161.2h6.4l2.6 2.6v6.4l-2.6 2.6h-6.4l-2.6-2.6zM241.6 159.8h6.8l2.8 2.8v6.8l-2.8 2.8h-6.8l-2.8-2.8zM242.8 158.2h6.4l2.6 2.6v6.4l-2.6 2.6h-6.4l-2.6-2.6zM243.8 157.2h6.4l2.6 2.6v6.4l-2.6 2.6h-6.4l-2.6-2.6zM244.8 157.2h6.4l2.6 2.6v6.4l-2.6 2.6h-6.4l-2.6-2.6zM246.6 154.8h6.8l2.8 2.8v6.8l-2.8 2.8h-6.8l-2.8-2.8zM247.8 154.2h6.4l2.6 2.6v6.4l-2.6 2.6h-6.4l-2.6-2.6zM248.8 152.2h6.4l2.6 2.6v6.4l-2.6 2.6h-6.4l-2.6-2.6zM249.8 152.2h6.4l2.6 2.6v6.4l-2.6 2.6h-6.4l-2.6-2.6zM250.6 149.8h6.8l2.8 2.8v6.8l-2.8 2.8h-6.8l-2.8-2.8zM252.8 149.2h6.4l2.6 2.6v6.4l-2.6 2.6h-6.4l-2.6-2.6zM253.8 149.2h6.4l2.6 2.6v6.4l-2.6 2.6h-6.4l-2.6-2.6zM254.8 147.2h6.4l2.6 2.6v6.4l-2.6 2.6h-6.4l-2.6-2.6zM256.6 145.8h6.8l2.8 2.8v6.8l-2.8 2.8h-6.8l-2.8-2.8zM257.8 143.2h6.4l2.6 2.6v6.4l-2.6 2.6h-6.4l-2.6-2.6zM258.8 143.2h6.4l2.6 2.6v6.4l-2.6 2.6h-6.4l-2.6-2.6zM260.8 143.2h6.4l2.6 2.6v6.4l-2.6 2.6h-6.4l-2.6-2.6zM261.6 140.8h6.8l2.8 2.8v6.8l-2.8 2.8h-6.8l-2.8-2.8zM262.8 140.2h6.4l2.6 2.6v6.4l-2.6 2.6h-6.4l-2.6-2.6zM263.8 140.2h6.4l2.6 2.6v6.4l-2.6 2.6h-6.4l-2.6-2.6zM265.8 138.2h6.4l2.6 2.6v6.4l-2.6 2.6h-6.4l-2.6-2.6zM266.6 137.8h6.8l2.8 2.8v6.8l-2.8 2.8h-6.8l-2.8-2.8zM267.8 137.2h6.4l2.6 2.6v6.4l-2.6 2.6h-6.4l-2.6-2.6zM269.8 137.2h6.4l2.6 2.6v6.4l-2.6 2.6h-6.4l-2.6-2.6zM270.8 135.2h6.4l2.6 2.6v6.4l-2.6 2.6h-6.4l-2.6-2.6zM271.6 134.8h6.8l2.8 2.8v6.8l-2.8 2.8h-6.8l-2.8-2.8zM273.8 135.2h6.4l2.6 2.6v6.4l-2.6 2.6h-6.4l-2.6-2.6zM274.8 133.2h6.4l2.6 2.6v6.4l-2.6 2.6h-6.4l-2.6-2.6zM276.8 132.2h6.4l2.6 2.6v6.4l-2.6 2.6h-6.4l-2.6-2.6zM278.6 131.8h6.8l2.8 2.8v6.8l-2.8 2.8h-6.8l-2.8-2.8zM279.8 132.2h6.4l2.6 2.6v6.4l-2.6 2.6h-6.4l-2.6-2.6zM281.8 130.2h6.4l2.6 2.6v6.4l-2.6 2.6h-6.4l-2.6-2.6zM283.8 130.2h6.4l2.6 2.6v6.4l-2.6 2.6h-6.4l-2.6-2.6zM284.6 129.8h6.8l2.8 2.8v6.8l-2.8 2.8h-6.8l-2.8-2.8zM286.8 128.2h6.4l2.6 2.6v6.4l-2.6 2.6h-6.4l-2.6-2.6zM287.8 128.2h6.4l2.6 2.6v6.4l-2.6 2.6h-6.4l-2.6-2.6zM289.8 128.2h6.4l2.6 2.6v6.4l-2.6 2.6h-6.4l-2.6-2.6zM291.6 127.8h6.8l2.8 2.8v6.8l-2.8 2.8h-6.8l-2.8-2.8zM292.8 128.2h6.4l2.6 2.6v6.4l-2.6 2.6h-6.4l-2.6-2.6zM294.8 128.2h6.4l2.6 2.6v6.4l-2.6 2.6h-6.4l-2.6-2.6zM296.8 126.2h6.4l2.6 2.6v6.4l-2.6 2.6h-6.4l-2.6-2.6zM297.6 124.8h6.8l2.8 2.8v6.8l-2.8 2.8h-6.8l-2.8-2.8zM299.8 125.2h6.4l2.6 2.6v6.4l-2.6 2.6h-6.4l-2.6-2.6zM301.8 125.2h6.4l2.6 2.6v6.4l-2.6 2.6h-6.4l-2.6-2.6zM302.8 125.2h6.4l2.6 2.6v6.4l-2.6 2.6h-6.4l-2.6-2.6zM302.6 123.8h6.8l2.8 2.8v6.8l-2.8 2.8h-6.8l-2.8-2.8zM305.8 122.2h6.4l2.6 2.6v6.4l-2.6 2.6h-6.4l-2.6-2.6zM305.8 121.2h6.4l2.6 2.6v6.4l-2.6 2.6h-6.4l-2.6-2.6zM307.8 121.2h6.4l2.6 2.6v6.4l-2.6 2.6h-6.4l-2.6-2.6zM309.6 120.8h6.8l2.8 2.8v6.8l-2.8 2.8h-6.8l-2.8-2.8zM310.8 121.2h6.4l2.6 2.6v6.4l-2.6 2.6h-6.4l-2.6-2.6zM312.8 121.2h6.4l2.6 2.6v6.4l-2.6 2.6h-6.4l-2.6-2.6zM314.8 121.2h6.4l2.6 2.6v6.4l-2.6 2.6h-6.4l-2.6-2.6zM315.6 120.8h6.8l2.8 2.8v6.8l-2.8 2.8h-6.8l-2.8-2.8zM316.8 121.2h6.4l2.6 2.6v6.4l-2.6 2.6h-6.4l-2.6-2.6zM318.8 121.2h6.4l2.6 2.6v6.4l-2.6 2.6h-6.4l-2.6-2.6zM320.8 119.2h6.4l2.6 2.6v6.4l-2.6 2.6h-6.4l-2.6-2.6zM321.6 118.8h6.8l2.8 2.8v6.8l-2.8 2.8h-6.8l-2.8-2.8zM323.8 119.2h6.4l2.6 2.6v6.4l-2.6 2.6h-6.4l-2.6-2.6zM324.8 119.2h6.4l2.6 2.6v6.4l-2.6 2.6h-6.4l-2.6-2.6zM326.8 119.2h6.4l2.6 2.6v6.4l-2.6 2.6h-6.4l-2.6-2.6zM327.6 118.8h6.8l2.8 2.8v6.8l-2.8 2.8h-6.8l-2.8-2.8zM329.8 117.2h6.4l2.6 2.6v6.4l-2.6 2.6h-6.4l-2.6-2.6zM330.8 117.2h6.4l2.6 2.6v6.4l-2.6 2.6h-6.4l-2.6-2.6zM332.8 117.2h6.4l2.6 2.6v6.4l-2.6 2.6h-6.4l-2.6-2.6zM333.6 114.8h6.8l2.8 2.8v6.8l-2.8 2.8h-6.8l-2.8-2.8zM335.8 115.2h6.4l2.6 2.6v6.4l-2.6 2.6h-6.4l-2.6-2.6zM336.8 115.2h6.4l2.6 2.6v6.4l-2.6 2.6h-6.4l-2.6-2.6zM338.8 113.2h6.4l2.6 2.6v6.4l-2.6 2.6h-6.4l-2.6-2.6zM339.6 112.8h6.8l2.8 2.8v6.8l-2.8 2.8h-6.8l-2.8-2.8zM341.8 113.2h6.4l2.6 2.6v6.4l-2.6 2.6h-6.4l-2.6-2.6zM343.8 113.2h6.4l2.6 2.6v6.4l-2.6 2.6h-6.4l-2.6-2.6zM344.8 113.2h6.4l2.6 2.6v6.4l-2.6 2.6h-6.4l-2.6-2.6zM346.6 112.8h6.8l2.8 2.8v6.8l-2.8 2.8h-6.8l-2.8-2.8zM348.8 113.2h6.4l2.6 2.6v6.4l-2.6 2.6h-6.4l-2.6-2.6zM349.8 113.2h6.4l2.6 2.6v6.4l-2.6 2.6h-6.4l-2.6-2.6zM351.8 113.2h6.4l2.6 2.6v6.4l-2.6 2.6h-6.4l-2.6-2.6zM352.6 112.8h6.8l2.8 2.8v6.8l-2.8 2.8h-6.8l-2.8-2.8zM354.8 113.2h6.4l2.6 2.6v6.4l-2.6 2.6h-6.4l-2.6-2.6zM355.8 113.2h6.4l2.6 2.6v6.4l-2.6 2.6h-6.4l-2.6-2.6zM357.8 113.2h6.4l2.6 2.6v6.4l-2.6 2.6h-6.4l-2.6-2.6zM358.6 112.8h6.8l2.8 2.8v6.8l-2.8 2.8h-6.8l-2.8-2.8zM360.8 113.2h6.4l2.6 2.6v6.4l-2.6 2.6h-6.4l-2.6-2.6zM361.8 113.2h6.4l2.6 2.6v6.4l-2.6 2.6h-6.4l-2.6-2.6zM363.8 113.2h6.4l2.6 2.6v6.4l-2.6 2.6h-6.4l-2.6-2.6zM364.6 112.8h6.8l2.8 2.8v6.8l-2.8 2.8h-6.8l-2.8-2.8zM366.8 113.2h6.4l2.6 2.6v6.4l-2.6 2.6h-6.4l-2.6-2.6zM367.8 113.2h6.4l2.6 2.6v6.4l-2.6 2.6h-6.4l-2.6-2.6zM369.8 113.2h6.4l2.6 2.6v6.4l-2.6 2.6h-6.4l-2.6-2.6zM370.6 112.8h6.8l2.8 2.8v6.8l-2.8 2.8h-6.8l-2.8-2.8zM372.8 113.2h6.4l2.6 2.6v6.4l-2.6 2.6h-6.4l-2.6-2.6zM374.8 113.2h6.4l2.6 2.6v6.4l-2.6 2.6h-6.4l-2.6-2.6zM375.8 113.2h6.4l2.6 2.6v6.4l-2.6 2.6h-6.4l-2.6-2.6zM377.6 112.8h6.8l2.8 2.8v6.8l-2.8 2.8h-6.8l-2.8-2.8zM378.8 113.2h6.4l2.6 2.6v6.4l-2.6 2.6h-6.4l-2.6-2.6zM380.8 113.2h6.4l2.6 2.6v6.4l-2.6 2.6h-6.4l-2.6-2.6zM381.8 113.2h6.4l2.6 2.6v6.4l-2.6 2.6h-6.4l-2.6-2.6zM383.6 112.8h6.8l2.8 2.8v6.8l-2.8 2.8h-6.8l-2.8-2.8zM384.8 113.2h6.4l2.6 2.6v6.4l-2.6 2.6h-6.4l-2.6-2.6zM386.8 113.2h6.4l2.6 2.6v6.4l-2.6 2.6h-6.4l-2.6-2.6zM387.8 113.2h6.4l2.6 2.6v6.4l-2.6 2.6h-6.4l-2.6-2.6zM389.6 112.8h6.8l2.8 2.8v6.8l-2.8 2.8h-6.8l-2.8-2.8zM390.8 113.2h6.4l2.6 2.6v6.4l-2.6 2.6h-6.4l-2.6-2.6zM392.8 113.2h6.4l2.6 2.6v6.4l-2.6 2.6h-6.4l-2.6-2.6zM393.8 113.2h6.4l2.6 2.6v6.4l-2.6 2.6h-6.4l-2.6-2.6zM395.6 112.8h6.8l2.8 2.8v6.8l-2.8 2.8h-6.8l-2.8-2.8zM396.8 113.2h6.4l2.6 2.6v6.4l-2.6 2.6h-6.4l-2.6-2.6zM398.8 113.2h6.4l2.6 2.6v6.4l-2.6 2.6h-6.4l-2.6-2.6zM399.8 113.2h6.4l2.6 2.6v6.4l-2.6 2.6h-6.4l-2.6-2.6zM401.6 112.8h6.8l2.8 2.8v6.8l-2.8 2.8h-6.8l-2.8-2.8zM402.8 113.2h6.4l2.6 2.6v6.4l-2.6 2.6h-6.4l-2.6-2.6zM404.8 113.2h6.4l2.6 2.6v6.4l-2.6 2.6h-6.4l-2.6-2.6zM405.8 113.2h6.4l2.6 2.6v6.4l-2.6 2.6h-6.4l-2.6-2.6zM407.6 112.8h6.8l2.8 2.8v6.8l-2.8 2.8h-6.8l-2.8-2.8zM408.8 113.2h6.4l2.6 2.6v6.4l-2.6 2.6h-6.4l-2.6-2.6zM410.8 113.2h6.4l2.6 2.6v6.4l-2.6 2.6h-6.4l-2.6-2.6zM411.8 113.2h6.4l2.6 2.6v6.4l-2.6 2.6h-6.4l-2.6-2.6zM413.6 112.8h6.8l2.8 2.8v6.8l-2.8 2.8h-6.8l-2.8-2.8zM414.8 113.2h6.4l2.6 2.6v6.4l-2.6 2.6h-6.4l-2.6-2.6zM416.8 113.2h6.4l2.6 2.6v6.4l-2.6 2.6h-6.4l-2.6-2.6zM417.8 113.2h6.4l2.6 2.6v6.4l-2.6 2.6h-6.4l-2.6-2.6zM419.6 112.8h6.8l2.8 2.8v6.8l-2.8 2.8h-6.8l-2.8-2.8zM420.8 113.2h6.4l2.6 2.6v6.4l-2.6 2.6h-6.4l-2.6-2.6zM422.8 113.2h6.4l2.6 2.6v6.4l-2.6 2.6h-6.4l-2.6-2.6zM423.8 113.2h6.4l2.6 2.6v6.4l-2.6 2.6h-6.4l-2.6-2.6zM425.6 112.8h6.8l2.8 2.8v6.8l-2.8 2.8h-6.8l-2.8-2.8zM426.8 113.2h6.4l2.6 2.6v6.4l-2.6 2.6h-6.4l-2.6-2.6zM428.8 113.2h6.4l2.6 2.6v6.4l-2.6 2.6h-6.4l-2.6-2.6zM430.8 111.2h6.4l2.6 2.6v6.4l-2.6 2.6h-6.4l-2.6-2.6zM431.6 109.8h6.8l2.8 2.8v6.8l-2.8 2.8h-6.8l-2.8-2.8zM432.8 110.2h6.4l2.6 2.6v6.4l-2.6 2.6h-6.4l-2.6-2.6zM434.8 110.2h6.4l2.6 2.6v6.4l-2.6 2.6h-6.4l-2.6-2.6zM436.8 110.2h6.4l2.6 2.6v6.4l-2.6 2.6h-6.4l-2.6-2.6zM437.6 109.8h6.8l2.8 2.8v6.8l-2.8 2.8h-6.8l-2.8-2.8zM438.8 110.2h6.4l2.6 2.6v6.4l-2.6 2.6h-6.4l-2.6-2.6zM440.8 110.2h6.4l2.6 2.6v6.4l-2.6 2.6h-6.4l-2.6-2.6zM442.8 110.2h6.4l2.6 2.6v6.4l-2.6 2.6h-6.4l-2.6-2.6zM443.6 109.8h6.8l2.8 2.8v6.8l-2.8 2.8h-6.8l-2.8-2.8zM444.8 110.2h6.4l2.6 2.6v6.4l-2.6 2.6h-6.4l-2.6-2.6zM446.8 110.2h6.4l2.6 2.6v6.4l-2.6 2.6h-6.4l-2.6-2.6zM448.8 110.2h6.4l2.6 2.6v6.4l-2.6 2.6h-6.4l-2.6-2.6zM449.6 109.8h6.8l2.8 2.8v6.8l-2.8 2.8h-6.8l-2.8-2.8zM450.8 110.2h6.4l2.6 2.6v6.4l-2.6 2.6h-6.4l-2.6-2.6zM452.8 110.2h6.4l2.6 2.6v6.4l-2.6 2.6h-6.4l-2.6-2.6zM454.8 110.2h6.4l2.6 2.6v6.4l-2.6 2.6h-6.4l-2.6-2.6zM455.6 109.8h6.8l2.8 2.8v6.8l-2.8 2.8h-6.8l-2.8-2.8zM456.8 110.2h6.4l2.6 2.6v6.4l-2.6 2.6h-6.4l-2.6-2.6zM458.8 110.2h6.4l2.6 2.6v6.4l-2.6 2.6h-6.4l-2.6-2.6zM460.8 110.2h6.4l2.6 2.6v6.4l-2.6 2.6h-6.4l-2.6-2.6zM461.6 109.8h6.8l2.8 2.8v6.8l-2.8 2.8h-6.8l-2.8-2.8zM462.8 110.2h6.4l2.6 2.6v6.4l-2.6 2.6h-6.4l-2.6-2.6zM464.8 110.2h6.4l2.6 2.6v6.4l-2.6 2.6h-6.4l-2.6-2.6zM466.8 110.2h6.4l2.6 2.6v6.4l-2.6 2.6h-6.4l-2.6-2.6zM467.6 109.8h6.8l2.8 2.8v6.8l-2.8 2.8h-6.8l-2.8-2.8zM468.8 110.2h6.4l2.6 2.6v6.4l-2.6 2.6h-6.4l-2.6-2.6zM470.8 110.2h6.4l2.6 2.6v6.4l-2.6 2.6h-6.4l-2.6-2.6zM472.8 110.2h6.4l2.6 2.6v6.4l-2.6 2.6h-6.4l-2.6-2.6zM473.6 109.8h6.8l2.8 2.8v6.8l-2.8 2.8h-6.8l-2.8-2.8zM474.8 108.2h6.4l2.6 2.6v6.4l-2.6 2.6h-6.4l-2.6-2.6zM475.8 107.2h6.4l2.6 2.6v6.4l-2.6 2.6h-6.4l-2.6-2.6zM476.8 105.2h6.4l2.6 2.6v6.4l-2.6 2.6h-6.4l-2.6-2.6zM478.6 103.8h6.8l2.8 2.8v6.8l-2.8 2.8h-6.8l-2.8-2.8zM479.8 104.2h6.4l2.6 2.6v6.4l-2.6 2.6h-6.4l-2.6-2.6zM481.8 104.2h6.4l2.6 2.6v6.4l-2.6 2.6h-6.4l-2.6-2.6zM482.8 104.2h6.4l2.6 2.6v6.4l-2.6 2.6h-6.4l-2.6-2.6zM484.6 103.8h6.8l2.8 2.8v6.8l-2.8 2.8h-6.8l-2.8-2.8zM485.8 104.2h6.4l2.6 2.6v6.4l-2.6 2.6h-6.4l-2.6-2.6zM487.8 104.2h6.4l2.6 2.6v6.4l-2.6 2.6h-6.4l-2.6-2.6zM488.8 104.2h6.4l2.6 2.6v6.4l-2.6 2.6h-6.4l-2.6-2.6zM490.6 103.8h6.8l2.8 2.8v6.8l-2.8 2.8h-6.8l-2.8-2.8zM491.8 104.2h6.4l2.6 2.6v6.4l-2.6 2.6h-6.4l-2.6-2.6zM493.8 104.2h6.4l2.6 2.6v6.4l-2.6 2.6h-6.4l-2.6-2.6zM494.8 104.2h6.4l2.6 2.6v6.4l-2.6 2.6h-6.4l-2.6-2.6zM496.6 103.8h6.8l2.8 2.8v6.8l-2.8 2.8h-6.8l-2.8-2.8zM497.8 104.2h6.4l2.6 2.6v6.4l-2.6 2.6h-6.4l-2.6-2.6zM499.8 104.2h6.4l2.6 2.6v6.4l-2.6 2.6h-6.4l-2.6-2.6zM500.8 104.2h6.4l2.6 2.6v6.4l-2.6 2.6h-6.4l-2.6-2.6zM502.6 103.8h6.8l2.8 2.8v6.8l-2.8 2.8h-6.8l-2.8-2.8zM503.8 104.2h6.4l2.6 2.6v6.4l-2.6 2.6h-6.4l-2.6-2.6zM505.8 104.2h6.4l2.6 2.6v6.4l-2.6 2.6h-6.4l-2.6-2.6zM506.8 104.2h6.4l2.6 2.6v6.4l-2.6 2.6h-6.4l-2.6-2.6zM508.6 103.8h6.8l2.8 2.8v6.8l-2.8 2.8h-6.8l-2.8-2.8zM509.8 104.2h6.4l2.6 2.6v6.4l-2.6 2.6h-6.4l-2.6-2.6zM511.8 104.2h6.4l2.6 2.6v6.4l-2.6 2.6h-6.4l-2.6-2.6zM513.8 104.2h6.4l2.6 2.6v6.4l-2.6 2.6h-6.4l-2.6-2.6zM514.6 103.8h6.8l2.8 2.8v6.8l-2.8 2.8h-6.8l-2.8-2.8zM516.8 104.2h6.4l2.6 2.6v6.4l-2.6 2.6h-6.4l-2.6-2.6zM517.8 104.2h6.4l2.6 2.6v6.4l-2.6 2.6h-6.4l-2.6-2.6zM519.8 104.2h6.4l2.6 2.6v6.4l-2.6 2.6h-6.4l-2.6-2.6zM520.6 103.8h6.8l2.8 2.8v6.8l-2.8 2.8h-6.8l-2.8-2.8zM522.8 104.2h6.4l2.6 2.6v6.4l-2.6 2.6h-6.4l-2.6-2.6zM523.8 104.2h6.4l2.6 2.6v6.4l-2.6 2.6h-6.4l-2.6-2.6zM525.8 104.2h6.4l2.6 2.6v6.4l-2.6 2.6h-6.4l-2.6-2.6zM526.6 103.8h6.8l2.8 2.8v6.8l-2.8 2.8h-6.8l-2.8-2.8zM528.8 104.2h6.4l2.6 2.6v6.4l-2.6 2.6h-6.4l-2.6-2.6zM529.8 104.2h6.4l2.6 2.6v6.4l-2.6 2.6h-6.4l-2.6-2.6zM531.8 104.2h6.4l2.6 2.6v6.4l-2.6 2.6h-6.4l-2.6-2.6zM532.6 103.8h6.8l2.8 2.8v6.8l-2.8 2.8h-6.8l-2.8-2.8zM534.8 104.2h6.4l2.6 2.6v6.4l-2.6 2.6h-6.4l-2.6-2.6zM535.8 104.2h6.4l2.6 2.6v6.4l-2.6 2.6h-6.4l-2.6-2.6zM537.8 104.2h6.4l2.6 2.6v6.4l-2.6 2.6h-6.4l-2.6-2.6zM538.6 103.8h6.8l2.8 2.8v6.8l-2.8 2.8h-6.8l-2.8-2.8zM540.8 104.2h6.4l2.6 2.6v6.4l-2.6 2.6h-6.4l-2.6-2.6zM541.8 104.2h6.4l2.6 2.6v6.4l-2.6 2.6h-6.4l-2.6-2.6zM543.8 104.2h6.4l2.6 2.6v6.4l-2.6 2.6h-6.4l-2.6-2.6zM544.6 103.8h6.8l2.8 2.8v6.8l-2.8 2.8h-6.8l-2.8-2.8zM546.8 104.2h6.4l2.6 2.6v6.4l-2.6 2.6h-6.4l-2.6-2.6zM547.8 104.2h6.4l2.6 2.6v6.4l-2.6 2.6h-6.4l-2.6-2.6zM549.8 104.2h6.4l2.6 2.6v6.4l-2.6 2.6h-6.4l-2.6-2.6zM550.6 103.8h6.8l2.8 2.8v6.8l-2.8 2.8h-6.8l-2.8-2.8zM552.8 104.2h6.4l2.6 2.6v6.4l-2.6 2.6h-6.4l-2.6-2.6zM553.8 104.2h6.4l2.6 2.6v6.4l-2.6 2.6h-6.4l-2.6-2.6zM555.8 104.2h6.4l2.6 2.6v6.4l-2.6 2.6h-6.4l-2.6-2.6zM556.6 103.8h6.8l2.8 2.8v6.8l-2.8 2.8h-6.8l-2.8-2.8zM558.8 104.2h6.4l2.6 2.6v6.4l-2.6 2.6h-6.4l-2.6-2.6zM559.8 104.2h6.4l2.6 2.6v6.4l-2.6 2.6h-6.4l-2.6-2.6zM561.8 104.2h6.4l2.6 2.6v6.4l-2.6 2.6h-6.4l-2.6-2.6zM562.6 103.8h6.8l2.8 2.8v6.8l-2.8 2.8h-6.8l-2.8-2.8zM564.8 104.2h6.4l2.6 2.6v6.4l-2.6 2.6h-6.4l-2.6-2.6zM565.8 104.2h6.4l2.6 2.6v6.4l-2.6 2.6h-6.4l-2.6-2.6zM567.8 104.2h6.4l2.6 2.6v6.4l-2.6 2.6h-6.4l-2.6-2.6zM568.6 103.8h6.8l2.8 2.8v6.8l-2.8 2.8h-6.8l-2.8-2.8zM570.8 104.2h6.4l2.6 2.6v6.4l-2.6 2.6h-6.4l-2.6-2.6zM571.8 104.2h6.4l2.6 2.6v6.4l-2.6 2.6h-6.4l-2.6-2.6zM573.8 104.2h6.4l2.6 2.6v6.4l-2.6 2.6h-6.4l-2.6-2.6zM574.6 103.8h6.8l2.8 2.8v6.8l-2.8 2.8h-6.8l-2.8-2.8zM576.8 104.2h6.4l2.6 2.6v6.4l-2.6 2.6h-6.4l-2.6-2.6zM577.8 104.2h6.4l2.6 2.6v6.4l-2.6 2.6h-6.4l-2.6-2.6zM579.8 104.2h6.4l2.6 2.6v6.4l-2.6 2.6h-6.4l-2.6-2.6zM580.6 103.8h6.8l2.8 2.8v6.8l-2.8 2.8h-6.8l-2.8-2.8zM582.8 104.2h6.4l2.6 2.6v6.4l-2.6 2.6h-6.4l-2.6-2.6zM583.8 104.2h6.4l2.6 2.6v6.4l-2.6 2.6h-6.4l-2.6-2.6zM585.8 102.2h6.4l2.6 2.6v6.4l-2.6 2.6h-6.4l-2.6-2.6zM586.6 101.8h6.8l2.8 2.8v6.8l-2.8 2.8h-6.8l-2.8-2.8zM588.8 102.2h6.4l2.6 2.6v6.4l-2.6 2.6h-6.4l-2.6-2.6zM589.8 102.2h6.4l2.6 2.6v6.4l-2.6 2.6h-6.4l-2.6-2.6zM591.8 102.2h6.4l2.6 2.6v6.4l-2.6 2.6h-6.4l-2.6-2.6zM592.6 101.8h6.8l2.8 2.8v6.8l-2.8 2.8h-6.8l-2.8-2.8zM594.8 102.2h6.4l2.6 2.6v6.4l-2.6 2.6h-6.4l-2.6-2.6zM595.8 102.2h6.4l2.6 2.6v6.4l-2.6 2.6h-6.4l-2.6-2.6zM597.8 102.2h6.4l2.6 2.6v6.4l-2.6 2.6h-6.4l-2.6-2.6zM598.6 101.8h6.8l2.8 2.8v6.8l-2.8 2.8h-6.8l-2.8-2.8zM600.8 102.2h6.4l2.6 2.6v6.4l-2.6 2.6h-6.4l-2.6-2.6zM602.8 102.2h6.4l2.6 2.6v6.4l-2.6 2.6h-6.4l-2.6-2.6zM603.8 102.2h6.4l2.6 2.6v6.4l-2.6 2.6h-6.4l-2.6-2.6zM605.6 101.8h6.8l2.8 2.8v6.8l-2.8 2.8h-6.8l-2.8-2.8zM606.8 102.2h6.4l2.6 2.6v6.4l-2.6 2.6h-6.4l-2.6-2.6zM608.8 102.2h6.4l2.6 2.6v6.4l-2.6 2.6h-6.4l-2.6-2.6zM609.8 102.2h6.4l2.6 2.6v6.4l-2.6 2.6h-6.4l-2.6-2.6zM611.6 101.8h6.8l2.8 2.8v6.8l-2.8 2.8h-6.8l-2.8-2.8zM612.8 102.2h6.4l2.6 2.6v6.4l-2.6 2.6h-6.4l-2.6-2.6zM614.8 102.2h6.4l2.6 2.6v6.4l-2.6 2.6h-6.4l-2.6-2.6zM616.8 102.2h6.4l2.6 2.6v6.4l-2.6 2.6h-6.4l-2.6-2.6zM617.6 101.8h6.8l2.8 2.8v6.8l-2.8 2.8h-6.8l-2.8-2.8zM619.8 102.2h6.4l2.6 2.6v6.4l-2.6 2.6h-6.4l-2.6-2.6zM620.8 102.2h6.4l2.6 2.6v6.4l-2.6 2.6h-6.4l-2.6-2.6zM622.8 102.2h6.4l2.6 2.6v6.4l-2.6 2.6h-6.4l-2.6-2.6zM623.6 101.8h6.8l2.8 2.8v6.8l-2.8 2.8h-6.8l-2.8-2.8zM625.8 102.2h6.4l2.6 2.6v6.4l-2.6 2.6h-6.4l-2.6-2.6zM626.8 102.2h6.4l2.6 2.6v6.4l-2.6 2.6h-6.4l-2.6-2.6zM628.8 102.2h6.4l2.6 2.6v6.4l-2.6 2.6h-6.4l-2.6-2.6zM629.6 101.8h6.8l2.8 2.8v6.8l-2.8 2.8h-6.8l-2.8-2.8zM631.8 102.2h6.4l2.6 2.6v6.4l-2.6 2.6h-6.4l-2.6-2.6zM632.8 102.2h6.4l2.6 2.6v6.4l-2.6 2.6h-6.4l-2.6-2.6zM634.8 102.2h6.4l2.6 2.6v6.4l-2.6 2.6h-6.4l-2.6-2.6zM635.6 101.8h6.8l2.8 2.8v6.8l-2.8 2.8h-6.8l-2.8-2.8zM637.8 102.2h6.4l2.6 2.6v6.4l-2.6 2.6h-6.4l-2.6-2.6zM638.8 102.2h6.4l2.6 2.6v6.4l-2.6 2.6h-6.4l-2.6-2.6zM640.8 102.2h6.4l2.6 2.6v6.4l-2.6 2.6h-6.4l-2.6-2.6zM641.6 101.8h6.8l2.8 2.8v6.8l-2.8 2.8h-6.8l-2.8-2.8zM643.8 102.2h6.4l2.6 2.6v6.4l-2.6 2.6h-6.4l-2.6-2.6zM644.8 102.2h6.4l2.6 2.6v6.4l-2.6 2.6h-6.4l-2.6-2.6zM646.8 102.2h6.4l2.6 2.6v6.4l-2.6 2.6h-6.4l-2.6-2.6zM647.6 101.8h6.8l2.8 2.8v6.8l-2.8 2.8h-6.8l-2.8-2.8zM649.8 102.2h6.4l2.6 2.6v6.4l-2.6 2.6h-6.4l-2.6-2.6zM650.8 102.2h6.4l2.6 2.6v6.4l-2.6 2.6h-6.4l-2.6-2.6zM652.8 102.2h6.4l2.6 2.6v6.4l-2.6 2.6h-6.4l-2.6-2.6zM653.6 101.8h6.8l2.8 2.8v6.8l-2.8 2.8h-6.8l-2.8-2.8zM655.8 102.2h6.4l2.6 2.6v6.4l-2.6 2.6h-6.4l-2.6-2.6zM656.8 102.2h6.4l2.6 2.6v6.4l-2.6 2.6h-6.4l-2.6-2.6zM658.8 102.2h6.4l2.6 2.6v6.4l-2.6 2.6h-6.4l-2.6-2.6zM659.6 101.8h6.8l2.8 2.8v6.8l-2.8 2.8h-6.8l-2.8-2.8zM661.8 102.2h6.4l2.6 2.6v6.4l-2.6 2.6h-6.4l-2.6-2.6zM662.8 99.2h6.4l2.6 2.6v6.4l-2.6 2.6h-6.4l-2.6-2.6zM664.8 99.2h6.4l2.6 2.6v6.4l-2.6 2.6h-6.4l-2.6-2.6zM666.6 98.8h6.8l2.8 2.8v6.8l-2.8 2.8h-6.8l-2.8-2.8zM667.8 99.2h6.4l2.6 2.6v6.4l-2.6 2.6h-6.4l-2.6-2.6zM668.8 99.2h6.4l2.6 2.6v6.4l-2.6 2.6h-6.4l-2.6-2.6zM670.8 98.2h6.4l2.6 2.6v6.4l-2.6 2.6h-6.4l-2.6-2.6zM672.6 97.8h6.8l2.8 2.8v6.8l-2.8 2.8h-6.8l-2.8-2.8zM673.8 98.2h6.4l2.6 2.6v6.4l-2.6 2.6h-6.4l-2.6-2.6zM675.8 98.2h6.4l2.6 2.6v6.4l-2.6 2.6h-6.4l-2.6-2.6zM676.8 98.2h6.4l2.6 2.6v6.4l-2.6 2.6h-6.4l-2.6-2.6zM678.6 97.8h6.8l2.8 2.8v6.8l-2.8 2.8h-6.8l-2.8-2.8zM679.8 98.2h6.4l2.6 2.6v6.4l-2.6 2.6h-6.4l-2.6-2.6zM681.8 98.2h6.4l2.6 2.6v6.4l-2.6 2.6h-6.4l-2.6-2.6zM682.8 98.2h6.4l2.6 2.6v6.4l-2.6 2.6h-6.4l-2.6-2.6zM684.6 97.8h6.8l2.8 2.8v6.8l-2.8 2.8h-6.8l-2.8-2.8zM685.8 98.2h6.4l2.6 2.6v6.4l-2.6 2.6h-6.4l-2.6-2.6zM687.8 98.2h6.4l2.6 2.6v6.4l-2.6 2.6h-6.4l-2.6-2.6zM688.8 98.2h6.4l2.6 2.6v6.4l-2.6 2.6h-6.4l-2.6-2.6zM690.6 97.8h6.8l2.8 2.8v6.8l-2.8 2.8h-6.8l-2.8-2.8zM691.8 98.2h6.4l2.6 2.6v6.4l-2.6 2.6h-6.4l-2.6-2.6zM693.8 98.2h6.4l2.6 2.6v6.4l-2.6 2.6h-6.4l-2.6-2.6zM694.8 98.2h6.4l2.6 2.6v6.4l-2.6 2.6h-6.4l-2.6-2.6zM696.6 97.8h6.8l2.8 2.8v6.8l-2.8 2.8h-6.8l-2.8-2.8zM697.8 98.2h6.4l2.6 2.6v6.4l-2.6 2.6h-6.4l-2.6-2.6zM699.8 98.2h6.4l2.6 2.6v6.4l-2.6 2.6h-6.4l-2.6-2.6zM700.8 98.2h6.4l2.6 2.6v6.4l-2.6 2.6h-6.4l-2.6-2.6zM702.6 97.8h6.8l2.8 2.8v6.8l-2.8 2.8h-6.8l-2.8-2.8zM703.8 98.2h6.4l2.6 2.6v6.4l-2.6 2.6h-6.4l-2.6-2.6zM705.8 98.2h6.4l2.6 2.6v6.4l-2.6 2.6h-6.4l-2.6-2.6zM706.8 98.2h6.4l2.6 2.6v6.4l-2.6 2.6h-6.4l-2.6-2.6zM708.6 97.8h6.8l2.8 2.8v6.8l-2.8 2.8h-6.8l-2.8-2.8zM709.8 98.2h6.4l2.6 2.6v6.4l-2.6 2.6h-6.4l-2.6-2.6zM711.8 98.2h6.4l2.6 2.6v6.4l-2.6 2.6h-6.4l-2.6-2.6zM712.8 98.2h6.4l2.6 2.6v6.4l-2.6 2.6h-6.4l-2.6-2.6zM714.6 97.8h6.8l2.8 2.8v6.8l-2.8 2.8h-6.8l-2.8-2.8zM715.8 98.2h6.4l2.6 2.6v6.4l-2.6 2.6h-6.4l-2.6-2.6zM717.8 98.2h6.4l2.6 2.6v6.4l-2.6 2.6h-6.4l-2.6-2.6zM718.8 98.2h6.4l2.6 2.6v6.4l-2.6 2.6h-6.4l-2.6-2.6zM720.6 97.8h6.8l2.8 2.8v6.8l-2.8 2.8h-6.8l-2.8-2.8zM721.8 98.2h6.4l2.6 2.6v6.4l-2.6 2.6h-6.4l-2.6-2.6zM723.8 98.2h6.4l2.6 2.6v6.4l-2.6 2.6h-6.4l-2.6-2.6zM724.8 98.2h6.4l2.6 2.6v6.4l-2.6 2.6h-6.4l-2.6-2.6zM726.6 97.8h6.8l2.8 2.8v6.8l-2.8 2.8h-6.8l-2.8-2.8zM727.8 98.2h6.4l2.6 2.6v6.4l-2.6 2.6h-6.4l-2.6-2.6zM729.8 98.2h6.4l2.6 2.6v6.4l-2.6 2.6h-6.4l-2.6-2.6zM730.8 98.2h6.4l2.6 2.6v6.4l-2.6 2.6h-6.4l-2.6-2.6zM732.6 97.8h6.8l2.8 2.8v6.8l-2.8 2.8h-6.8l-2.8-2.8zM733.8 98.2h6.4l2.6 2.6v6.4l-2.6 2.6h-6.4l-2.6-2.6zM735.8 98.2h6.4l2.6 2.6v6.4l-2.6 2.6h-6.4l-2.6-2.6zM736.8 98.2h6.4l2.6 2.6v6.4l-2.6 2.6h-6.4l-2.6-2.6zM738.6 97.8h6.8l2.8 2.8v6.8l-2.8 2.8h-6.8l-2.8-2.8zM739.8 98.2h6.4l2.6 2.6v6.4l-2.6 2.6h-6.4l-2.6-2.6zM741.8 98.2h6.4l2.6 2.6v6.4l-2.6 2.6h-6.4l-2.6-2.6zM742.8 98.2h6.4l2.6 2.6v6.4l-2.6 2.6h-6.4l-2.6-2.6zM744.6 97.8h6.8l2.8 2.8v6.8l-2.8 2.8h-6.8l-2.8-2.8zM745.8 98.2h6.4l2.6 2.6v6.4l-2.6 2.6h-6.4l-2.6-2.6zM747.8 98.2h6.4l2.6 2.6v6.4l-2.6 2.6h-6.4l-2.6-2.6zM748.8 98.2h6.4l2.6 2.6v6.4l-2.6 2.6h-6.4l-2.6-2.6zM750.6 97.8h6.8l2.8 2.8v6.8l-2.8 2.8h-6.8l-2.8-2.8zM751.8 98.2h6.4l2.6 2.6v6.4l-2.6 2.6h-6.4l-2.6-2.6zM752.8 95.2h6.4l2.6 2.6v6.4l-2.6 2.6h-6.4l-2.6-2.6zM754.8 95.2h6.4l2.6 2.6v6.4l-2.6 2.6h-6.4l-2.6-2.6zM755.6 94.8h6.8l2.8 2.8v6.8l-2.8 2.8h-6.8l-2.8-2.8zM756.8 93.2h6.4l2.6 2.6v6.4l-2.6 2.6h-6.4l-2.6-2.6zM758.8 92.2h6.4l2.6 2.6v6.4l-2.6 2.6h-6.4l-2.6-2.6zM759.8 92.2h6.4l2.6 2.6v6.4l-2.6 2.6h-6.4l-2.6-2.6zM761.6 91.8h6.8l2.8 2.8v6.8l-2.8 2.8h-6.8l-2.8-2.8zM762.8 92.2h6.4l2.6 2.6v6.4l-2.6 2.6h-6.4l-2.6-2.6zM764.8 92.2h6.4l2.6 2.6v6.4l-2.6 2.6h-6.4l-2.6-2.6zM765.8 92.2h6.4l2.6 2.6v6.4l-2.6 2.6h-6.4l-2.6-2.6zM767.6 91.8h6.8l2.8 2.8v6.8l-2.8 2.8h-6.8l-2.8-2.8zM768.8 92.2h6.4l2.6 2.6v6.4l-2.6 2.6h-6.4l-2.6-2.6zM770.8 92.2h6.4l2.6 2.6v6.4l-2.6 2.6h-6.4l-2.6-2.6zM772.8 92.2h6.4l2.6 2.6v6.4l-2.6 2.6h-6.4l-2.6-2.6zM773.6 91.8h6.8l2.8 2.8v6.8l-2.8 2.8h-6.8l-2.8-2.8zM775.8 92.2h6.4l2.6 2.6v6.4l-2.6 2.6h-6.4l-2.6-2.6zM776.8 92.2h6.4l2.6 2.6v6.4l-2.6 2.6h-6.4l-2.6-2.6zM778.8 92.2h6.4l2.6 2.6v6.4l-2.6 2.6h-6.4l-2.6-2.6zM779.6 91.8h6.8l2.8 2.8v6.8l-2.8 2.8h-6.8l-2.8-2.8zM781.8 92.2h6.4l2.6 2.6v6.4l-2.6 2.6h-6.4l-2.6-2.6zM782.8 92.2h6.4l2.6 2.6v6.4l-2.6 2.6h-6.4l-2.6-2.6zM784.8 92.2h6.4l2.6 2.6v6.4l-2.6 2.6h-6.4l-2.6-2.6zM785.6 91.8h6.8l2.8 2.8v6.8l-2.8 2.8h-6.8l-2.8-2.8zM787.8 92.2h6.4l2.6 2.6v6.4l-2.6 2.6h-6.4l-2.6-2.6zM788.8 92.2h6.4l2.6 2.6v6.4l-2.6 2.6h-6.4l-2.6-2.6zM790.8 92.2h6.4l2.6 2.6v6.4l-2.6 2.6h-6.4l-2.6-2.6zM791.6 91.8h6.8l2.8 2.8v6.8l-2.8 2.8h-6.8l-2.8-2.8zM793.8 92.2h6.4l2.6 2.6v6.4l-2.6 2.6h-6.4l-2.6-2.6zM794.8 92.2h6.4l2.6 2.6v6.4l-2.6 2.6h-6.4l-2.6-2.6zM796.8 92.2h6.4l2.6 2.6v6.4l-2.6 2.6h-6.4l-2.6-2.6zM798.6 91.8h6.8l2.8 2.8v6.8l-2.8 2.8h-6.8l-2.8-2.8zM799.8 92.2h6.4l2.6 2.6v6.4l-2.6 2.6h-6.4l-2.6-2.6zM801.8 92.2h6.4l2.6 2.6v6.4l-2.6 2.6h-6.4l-2.6-2.6zM802.8 92.2h6.4l2.6 2.6v6.4l-2.6 2.6h-6.4l-2.6-2.6zM804.6 91.8h6.8l2.8 2.8v6.8l-2.8 2.8h-6.8l-2.8-2.8zM805.8 92.2h6.4l2.6 2.6v6.4l-2.6 2.6h-6.4l-2.6-2.6zM807.8 92.2h6.4l2.6 2.6v6.4l-2.6 2.6h-6.4l-2.6-2.6zM808.8 92.2h6.4l2.6 2.6v6.4l-2.6 2.6h-6.4l-2.6-2.6zM810.6 91.8h6.8l2.8 2.8v6.8l-2.8 2.8h-6.8l-2.8-2.8zM812.8 92.2h6.4l2.6 2.6v6.4l-2.6 2.6h-6.4l-2.6-2.6zM813.8 92.2h6.4l2.6 2.6v6.4l-2.6 2.6h-6.4l-2.6-2.6zM815.8 92.2h6.4l2.6 2.6v6.4l-2.6 2.6h-6.4l-2.6-2.6zM816.6 91.8h6.8l2.8 2.8v6.8l-2.8 2.8h-6.8l-2.8-2.8zM818.8 92.2h6.4l2.6 2.6v6.4l-2.6 2.6h-6.4l-2.6-2.6zM819.8 92.2h6.4l2.6 2.6v6.4l-2.6 2.6h-6.4l-2.6-2.6zM821.8 92.2h6.4l2.6 2.6v6.4l-2.6 2.6h-6.4l-2.6-2.6zM822.6 91.8h6.8l2.8 2.8v6.8l-2.8 2.8h-6.8l-2.8-2.8zM824.8 92.2h6.4l2.6 2.6v6.4l-2.6 2.6h-6.4l-2.6-2.6zM826.8 92.2h6.4l2.6 2.6v6.4l-2.6 2.6h-6.4l-2.6-2.6zM827.8 92.2h6.4l2.6 2.6v6.4l-2.6 2.6h-6.4l-2.6-2.6zM829.6 91.8h6.8l2.8 2.8v6.8l-2.8 2.8h-6.8l-2.8-2.8zM830.8 92.2h6.4l2.6 2.6v6.4l-2.6 2.6h-6.4l-2.6-2.6zM832.8 92.2h6.4l2.6 2.6v6.4l-2.6 2.6h-6.4l-2.6-2.6zM834.8 92.2h6.4l2.6 2.6v6.4l-2.6 2.6h-6.4l-2.6-2.6zM835.6 91.8h6.8l2.8 2.8v6.8l-2.8 2.8h-6.8l-2.8-2.8zM837.8 92.2h6.4l2.6 2.6v6.4l-2.6 2.6h-6.4l-2.6-2.6zM838.8 92.2h6.4l2.6 2.6v6.4l-2.6 2.6h-6.4l-2.6-2.6zM840.8 90.2h6.4l2.6 2.6v6.4l-2.6 2.6h-6.4l-2.6-2.6zM841.6 89.8h6.8l2.8 2.8v6.8l-2.8 2.8h-6.8l-2.8-2.8zM843.8 90.2h6.4l2.6 2.6v6.4l-2.6 2.6h-6.4l-2.6-2.6zM844.8 90.2h6.4l2.6 2.6v6.4l-2.6 2.6h-6.4l-2.6-2.6zM846.8 90.2h6.4l2.6 2.6v6.4l-2.6 2.6h-6.4l-2.6-2.6zM847.6 87.8h6.8l2.8 2.8v6.8l-2.8 2.8h-6.8l-2.8-2.8zM849.8 88.2h6.4l2.6 2.6v6.4l-2.6 2.6h-6.4l-2.6-2.6zM850.8 88.2h6.4l2.6 2.6v6.4l-2.6 2.6h-6.4l-2.6-2.6zM852.8 88.2h6.4l2.6 2.6v6.4l-2.6 2.6h-6.4l-2.6-2.6zM853.6 85.8h6.8l2.8 2.8v6.8l-2.8 2.8h-6.8l-2.8-2.8zM854.8 86.2h6.4l2.6 2.6v6.4l-2.6 2.6h-6.4l-2.6-2.6zM856.8 86.2h6.4l2.6 2.6v6.4l-2.6 2.6h-6.4l-2.6-2.6zM857.8 86.2h6.4l2.6 2.6v6.4l-2.6 2.6h-6.4l-2.6-2.6zM859.6 83.8h6.8l2.8 2.8v6.8l-2.8 2.8h-6.8l-2.8-2.8zM860.8 83.2h6.4l2.6 2.6v6.4l-2.6 2.6h-6.4l-2.6-2.6zM861.8 83.2h6.4l2.6 2.6v6.4l-2.6 2.6h-6.4l-2.6-2.6zM862.8 81.2h6.4l2.6 2.6v6.4l-2.6 2.6h-6.4l-2.6-2.6zM864.6 79.8h6.8l2.8 2.8v6.8l-2.8 2.8h-6.8l-2.8-2.8zM866.8 80.2h6.4l2.6 2.6v6.4l-2.6 2.6h-6.4l-2.6-2.6z"/>
<path fill="#000" d="M189.7 785.9h8.7l1.8 1.8v8.7l-1.8 1.8h-8.7l-1.8-1.8zM189.7 783.9h8.7l1.8 1.8v8.7l-1.8 1.8h-8.7l-1.8-1.8zM189.7 782.9h8.7l1.8 1.8v8.7l-1.8 1.8h-8.7l-1.8-1.8zM189.4 781.5h9.1l2 2v9.1l-2 2h-9.1l-2-2zM189.7 779.9h8.7l1.8 1.8v8.7l-1.8 1.8h-8.7l-1.8-1.8zM189.7 777.9h8.7l1.8 1.8v8.7l-1.8 1.8h-8.7l-1.8-1.8zM189.7 776.9h8.7l1.8 1.8v8.7l-1.8 1.8h-8.7l-1.8-1.8zM189.4 775.5h9.1l2 2v9.1l-2 2h-9.1l-2-2zM189.7 773.9h8.7l1.8 1.8v8.7l-1.8 1.8h-8.7l-1.8-1.8zM189.7 771.9h8.7l1.8 1.8v8.7l-1.8 1.8h-8.7l-1.8-1.8zM189.7 770.9h8.7l1.8 1.8v8.7l-1.8 1.8h-8.7l-1.8-1.8zM189.4 769.5h9.1l2 2v9.1l-2 2h-9.1l-2-2zM189.7 767.9h8.7l1.8 1.8v8.7l-1.8 1.8h-8.7l-1.8-1.8zM189.7 765.9h8.7l1.8 1.8v8.7l-1.8 1.8h-8.7l-1.8-1.8zM189.7 764.9h8.7l1.8 1.8v8.7l-1.8 1.8h-8.7l-1.8-1.8zM189.4 763.5h9.1l2 2v9.1l-2 2h-9.1l-2-2zM189.7 761.9h8.7l1.8 1.8v8.7l-1.8 1.8h-8.7l-1.8-1.8zM189.7 759.9h8.7l1.8 1.8v8.7l-1.8 1.8h-8.7l-1.8-1.8zM189.7 758.9h8.7l1.8 1.8v8.7l-1.8 1.8h-8.7l-1.8-1.8zM189.4 757.5h9.1l2 2v9.1l-2 2h-9.1l-2-2zM189.7 755.9h8.7l1.8 1.8v8.7l-1.8 1.8h-8.7l-1.8-1.8zM189.7 753.9h8.7l1.8 1.8v8.7l-1.8 1.8h-8.7l-1.8-1.8zM189.7 752.9h8.7l1.8 1.8v8.7l-1.8 1.8h-8.7l-1.8-1.8zM189.4 751.5h9.1l2 2v9.1l-2 2h-9.1l-2-2zM189.7 749.9h8.7l1.8 1.8v8.7l-1.8 1.8h-8.7l-1.8-1.8zM189.7 747.9h8.7l1.8 1.8v8.7l-1.8 1.8h-8.7l-1.8-1.8zM189.7 746.9h8.7l1.8 1.8v8.7l-1.8 1.8h-8.7l-1.8-1.8zM189.4 745.5h9.1l2 2v9.1l-2 2h-9.1l-2-2zM189.7 743.9h8.7l1.8 1.8v8.7l-1.8 1.8h-8.7l-1.8-1.8zM189.7 741.9h8.7l1.8 1.8v8.7l-1.8 1.8h-8.7l-1.8-1.8zM189.7 740.9h8.7l1.8 1.8v8.7l-1.8 1.8h-8.7l-1.8-1.8zM189.4 739.5h9.1l2 2v9.1l-2 2h-9.1l-2-2zM189.7 737.9h8.7l1.8 1.8v8.7l-1.8 1.8h-8.7l-1.8-1.8zM189.7 735.9h8.7l1.8 1.8v8.7l-1.8 1.8h-8.7l-1.8-1.8zM189.7 734.9h8.7l1.8 1.8v8.7l-1.8 1.8h-8.7l-1.8-1.8zM189.4 733.5h9.1l2 2v9.1l-2 2h-9.1l-2-2zM189.7 731.9h8.7l1.8 1.8v8.7l-1.8 1.8h-8.7l-1.8-1.8zM189.7 729.9h8.7l1.8 1.8v8.7l-1.8 1.8h-8.7l-1.8-1.8zM189.7 728.9h8.7l1.8 1.8v8.7l-1.8 1.8h-8.7l-1.8-1.8zM189.4 727.5h9.1l2 2v9.1l-2 2h-9.1l-2-2zM189.7 725.9h8.7l1.8 1.8v8.7l-1.8 1.8h-8.7l-1.8-1.8zM189.7 723.9h8.7l1.8 1.8v8.7l-1.8 1.8h-8.7l-1.8-1.8zM189.7 722.9h8.7l1.8 1.8v8.7l-1.8 1.8h-8.7l-1.8-1.8zM189.4 721.5h9.1l2 2v9.1l-2 2h-9.1l-2-2zM189.7 719.9h8.7l1.8 1.8v8.7l-1.8 1.8h-8.7l-1.8-1.8zM189.7 717.9h8.7l1.8 1.8v8.7l-1.8 1.8h-8.7l-1.8-1.8zM189.7 716.9h8.7l1.8 1.8v8.7l-1.8 1.8h-8.7l-1.8-1.8zM189.4 715.5h9.1l2 2v9.1l-2 2h-9.1l-2-2zM189.7 713.9h8.7l1.8 1.8v8.7l-1.8 1.8h-8.7l-1.8-1.8zM189.7 711.9h8.7l1.8 1.8v8.7l-1.8 1.8h-8.7l-1.8-1.8zM189.7 710.9h8.7l1.8 1.8v8.7l-1.8 1.8h-8.7l-1.8-1.8zM189.4 709.5h9.1l2 2v9.1l-2 2h-9.1l-2-2zM189.7 707.9h8.7l1.8 1.8v8.7l-1.8 1.8h-8.7l-1.8-1.8zM189.7 705.9h8.7l1.8 1.8v8.7l-1.8 1.8h-8.7l-1.8-1.8zM189.7 704.9h8.7l1.8 1.8v8.7l-1.8 1.8h-8.7l-1.8-1.8zM189.4 703.5h9.1l2 2v9.1l-2 2h-9.1l-2-2zM189.7 701.9h8.7l1.8 1.8v8.7l-1.8 1.8h-8.7l-1.8-1.8zM189.7 699.9h8.7l1.8 1.8v8.7l-1.8 1.8h-8.7l-1.8-1.8zM189.7 698.9h8.7l1.8 1.8v8.7l-1.8 1.8h-8.7l-1.8-1.8zM189.4 697.5h9.1l2 2v9.1l-2 2h-9.1l-2-2zM189.7 695.9h8.7l1.8 1.8v8.7l-1.8 1.8h-8.7l-1.8-1.8zM189.7 693.9h8.7l1.8 1.8v8.7l-1.8 1.8h-8.7l-1.8-1.8zM189.7 692.9h8.7l1.8 1.8v8.7l-1.8 1.8h-8.7l-1.8-1.8zM189.4 691.5h9.1l2 2v9.1l-2 2h-9.1l-2-2zM189.7 689.9h8.7l1.8 1.8v8.7l-1.8 1.8h-8.7l-1.8-1.8zM189.7 687.9h8.7l1.8 1.8v8.7l-1.8 1.8h-8.7l-1.8-1.8zM189.7 686.9h8.7l1.8 1.8v8.7l-1.8 1.8h-8.7l-1.8-1.8zM189.4 685.5h9.1l2 2v9.1l-2 2h-9.1l-2-2zM189.7 683.9h8.7l1.8 1.8v8.7l-1.8 1.8h-8.7l-1.8-1.8zM189.7 681.9h8.7l1.8 1.8v8.7l-1.8 1.8h-8.7l-1.8-1.8zM189.7 680.9h8.7l1.8 1.8v8.7l-1.8 1.8h-8.7l-1.8-1.8zM189.4 679.5h9.1l2 2v9.1l-2 2h-9.1l-2-2zM189.7 677.9h8.7l1.8 1.8v8.7l-1.8 1.8h-8.7l-1.8-1.8zM189.7 675.9h8.7l1.8 1.8v8.7l-1.8 1.8h-8.7l-1.8-1.8zM189.7 674.9h8.7l1.8 1.8v8.7l-1.8 1.8h-8.7l-1.8-1.8zM189.4 673.5h9.1l2 2v9.1l-2 2h-9.1l-2-2zM189.7 671.9h8.7l1.8 1.8v8.7l-1.8 1.8h-8.7l-1.8-1.8zM189.7 669.9h8.7l1.8 1.8v8.7l-1.8 1.8h-8.7l-1.8-1.8zM189.7 668.9h8.7l1.8 1.8v8.7l-1.8 1.8h-8.7l-1.8-1.8zM189.4 667.5h9.1l2 2v9.1l-2 2h-9.1l-2-2zM189.7 665.9h8.7l1.8 1.8v8.7l-1.8 1.8h-8.7l-1.8-1.8zM189.7 663.9h8.7l1.8 1.8v8.7l-1.8 1.8h-8.7l-1.8-1.8zM189.7 662.9h8.7l1.8 1.8v8.7l-1.8 1.8h-8.7l-1.8-1.8zM189.4 661.5h9.1l2 2v9.1l-2 2h-9.1l-2-2zM189.7 659.9h8.7l1.8 1.8v8.7l-1.8 1.8h-8.7l-1.8-1.8zM189.7 657.9h8.7l1.8 1.8v8.7l-1.8 1.8h-8.7l-1.8-1.8zM189.7 656.9h8.7l1.8 1.8v8.7l-1.8 1.8h-8.7l-1.8-1.8zM189.4 655.5h9.1l2 2v9.1l-2 2h-9.1l-2-2zM189.7 653.9h8.7l1.8 1.8v8.7l-1.8 1.8h-8.7l-1.8-1.8zM189.7 651.9h8.7l1.8 1.8v8.7l-1.8 1.8h-8.7l-1.8-1.8zM189.7 650.9h8.7l1.8 1.8v8.7l-1.8 1.8h-8.7l-1.8-1.8zM189.4 649.5h9.1l2 2v9.1l-2 2h-9.1l-2-2zM189.7 647.9h8.7l1.8 1.8v8.7l-1.8 1.8h-8.7l-1.8-1.8zM189.7 645.9h8.7l1.8 1.8v8.7l-1.8 1.8h-8.7l-1.8-1.8zM189.7 644.9h8.7l1.8 1.8v8.7l-1.8 1.8h-8.7l-1.8-1.8zM189.4 643.5h9.1l2 2v9.1l-2 2h-9.1l-2-2zM189.7 641.9h8.7l1.8 1.8v8.7l-1.8 1.8h-8.7l-1.8-1.8zM189.7 639.9h8.7l1.8 1.8v8.7l-1.8 1.8h-8.7l-1.8-1.8zM189.7 638.9h8.7l1.8 1.8v8.7l-1.8 1.8h-8.7l-1.8-1.8zM189.4 637.5h9.1l2 2v9.1l-2 2h-9.1l-2-2zM189.7 635.9h8.7l1.8 1.8v8.7l-1.8 1.8h-8.7l-1.8-1.8zM189.7 633.9h8.7l1.8 1.8v8.7l-1.8 1.8h-8.7l-1.8-1.8zM189.7 632.9h8.7l1.8 1.8v8.7l-1.8 1.8h-8.7l-1.8-1.8zM189.4 631.5h9.1l2 2v9.1l-2 2h-9.1l-2-2zM189.7 629.9h8.7l1.8 1.8v8.7l-1.8 1.8h-8.7l-1.8-1.8zM189.7 627.9h8.7l1.8 1.8v8.7l-1.8 1.8h-8.7l-1.8-1.8zM189.7 626.9h8.7l1.8 1.8v8.7l-1.8 1.8h-8.7l-1.8-1.8zM189.4 625.5h9.1l2 2v9.1l-2 2h-9.1l-2-2zM189.7 623.9h8.7l1.8 1.8v8.7l-1.8 1.8h-8.7l-1.8-1.8zM189.7 621.9h8.7l1.8 1.8v8.7l-1.8 1.8h-8.7l-1.8-1.8zM189.7 620.9h8.7l1.8 1.8v8.7l-1.8 1.8h-8.7l-1.8-1.8zM189.4 619.5h9.1l2 2v9.1l-2 2h-9.1l-2-2zM189.7 617.9h8.7l1.8 1.8v8.7l-1.8 1.8h-8.7l-1.8-1.8zM189.7 615.9h8.7l1.8 1.8v8.7l-1.8 1.8h-8.7l-1.8-1.8zM189.7 614.9h8.7l1.8 1.8v8.7l-1.8 1.8h-8.7l-1.8-1.8zM189.4 613.5h9.1l2 2v9.1l-2 2h-9.1l-2-2zM189.7 611.9h8.7l1.8 1.8v8.7l-1.8 1.8h-8.7l-1.8-1.8zM189.7 609.9h8.7l1.8 1.8v8.7l-1.8 1.8h-8.7l-1.8-1.8zM189.7 608.9h8.7l1.8 1.8v8.7l-1.8 1.8h-8.7l-1.8-1.8zM189.4 607.5h9.1l2 2v9.1l-2 2h-9.1l-2-2zM190.7 604.9h8.7l1.8 1.8v8.7l-1.8 1.8h-8.7l-1.8-1.8zM191.7 602.9h8.7l1.8 1.8v8.7l-1.8 1.8h-8.7l-1.8-1.8zM192.7 601.9h8.7l1.8 1.8v8.7l-1.8 1.8h-8.7l-1.8-1.8zM193.4 601.5h9.1l2 2v9.1l-2 2h-9.1l-2-2zM194.2 599.9h8.7l1.8 1.8v8.7l-1.8 1.8h-8.7l-1.8-1.8zM194.2 597.9h8.7l1.8 1.8v8.7l-1.8 1.8h-8.7l-1.8-1.8zM194.2 596.9h8.7l1.8 1.8v8.7l-1.8 1.8h-8.7l-1.8-1.8zM193.9 594.5h9.1l2 2v9.1l-2 2h-9.1l-2-2zM194.2 593.9h8.7l1.8 1.8v8.7l-1.8 1.8h-8.7l-1.8-1.8zM194.2 591.9h8.7l1.8 1.8v8.7l-1.8 1.8h-8.7l-1.8-1.8zM194.2 590.9h8.7l1.8 1.8v8.7l-1.8 1.8h-8.7l-1.8-1.8zM193.9 588.5h9.1l2 2v9.1l-2 2h-9.1l-2-2zM194.2 587.9h8.7l1.8 1.8v8.7l-1.8 1.8h-8.7l-1.8-1.8zM194.2 585.9h8.7l1.8 1.8v8.7l-1.8 1.8h-8.7l-1.8-1.8zM194.2 584.9h8.7l1.8 1.8v8.7l-1.8 1.8h-8.7l-1.8-1.8zM193.9 582.5h9.1l2 2v9.1l-2 2h-9.1l-2-2zM194.2 581.9h8.7l1.8 1.8v8.7l-1.8 1.8h-8.7l-1.8-1.8zM194.2 579.9h8.7l1.8 1.8v8.7l-1.8 1.8h-8.7l-1.8-1.8zM194.2 578.9h8.7l1.8 1.8v8.7l-1.8 1.8h-8.7l-1.8-1.8zM193.9 576.5h9.1l2 2v9.1l-2 2h-9.1l-2-2zM194.2 575.9h8.7l1.8 1.8v8.7l-1.8 1.8h-8.7l-1.8-1.8zM194.2 573.9h8.7l1.8 1.8v8.7l-1.8 1.8h-8.7l-1.8-1.8zM194.2 572.9h8.7l1.8 1.8v8.7l-1.8 1.8h-8.7l-1.8-1.8zM193.9 570.5h9.1l2 2v9.1l-2 2h-9.1l-2-2zM194.2 569.9h8.7l1.8 1.8v8.7l-1.8 1.8h-8.7l-1.8-1.8zM194.2 567.9h8.7l1.8 1.8v8.7l-1.8 1.8h-8.7l-1.8-1.8zM194.2 565.9h8.7l1.8 1.8v8.7l-1.8 1.8h-8.7l-1.8-1.8zM193.9 564.5h9.1l2 2v9.1l-2 2h-9.1l-2-2zM194.2 562.9h8.7l1.8 1.8v8.7l-1.8 1.8h-8.7l-1.8-1.8zM194.2 561.9h8.7l1.8 1.8v8.7l-1.8 1.8h-8.7l-1.8-1.8zM194.2 559.9h8.7l1.8 1.8v8.7l-1.8 1.8h-8.7l-1.8-1.8zM193.9 558.5h9.1l2 2v9.1l-2 2h-9.1l-2-2zM194.2 556.9h8.7l1.8 1.8v8.7l-1.8 1.8h-8.7l-1.8-1.8zM194.2 555.9h8.7l1.8 1.8v8.7l-1.8 1.8h-8.7l-1.8-1.8zM194.2 553.9h8.7l1.8 1.8v8.7l-1.8 1.8h-8.7l-1.8-1.8zM193.9 552.5h9.1l2 2v9.1l-2 2h-9.1l-2-2zM194.2 550.9h8.7l1.8 1.8v8.7l-1.8 1.8h-8.7l-1.8-1.8zM194.2 549.9h8.7l1.8 1.8v8.7l-1.8 1.8h-8.7l-1.8-1.8zM194.2 547.9h8.7l1.8 1.8v8.7l-1.8 1.8h-8.7l-1.8-1.8zM193.9 546.5h9.1l2 2v9.1l-2 2h-9.1l-2-2zM194.2 544.9h8.7l1.8 1.8v8.7l-1.8 1.8h-8.7l-1.8-1.8zM194.2 543.9h8.7l1.8 1.8v8.7l-1.8 1.8h-8.7l-1.8-1.8zM194.2 541.9h8.7l1.8 1.8v8.7l-1.8 1.8h-8.7l-1.8-1.8zM193.9 540.5h9.1l2 2v9.1l-2 2h-9.1l-2-2zM194.2 538.9h8.7l1.8 1.8v8.7l-1.8 1.8h-8.7l-1.8-1.8zM194.7 536.9h8.7l1.8 1.8v8.7l-1.8 1.8h-8.7l-1.8-1.8zM194.7 535.9h8.7l1.8 1.8v8.7l-1.8 1.8h-8.7l-1.8-1.8zM194.9 533.5h9.1l2 2v9.1l-2 2h-9.1l-2-2zM195.7 531.9h8.7l1.8 1.8v8.7l-1.8 1.8h-8.7l-1.8-1.8zM195.7 530.9h8.7l1.8 1.8v8.7l-1.8 1.8h-8.7l-1.8-1.8zM196.2 528.9h8.7l1.8 1.8v8.7l-1.8 1.8h-8.7l-1.8-1.8zM195.9 527.5h9.1l2 2v9.1l-2 2h-9.1l-2-2zM196.2 525.9h8.7l1.8 1.8v8.7l-1.8 1.8h-8.7l-1.8-1.8zM196.2 523.9h8.7l1.8 1.8v8.7l-1.8 1.8h-8.7l-1.8-1.8zM196.7 522.9h8.7l1.8 1.8v8.7l-1.8 1.8h-8.7l-1.8-1.8zM196.4 521.5h9.1l2 2v9.1l-2 2h-9.1l-2-2zM196.7 519.9h8.7l1.8 1.8v8.7l-1.8 1.8h-8.7l-1.8-1.8zM196.7 517.9h8.7l1.8 1.8v8.7l-1.8 1.8h-8.7l-1.8-1.8zM196.7 516.9h8.7l1.8 1.8v8.7l-1.8 1.8h-8.7l-1.8-1.8zM196.4 515.5h9.1l2 2v9.1l-2 2h-9.1l-2-2zM196.7 513.9h8.7l1.8 1.8v8.7l-1.8 1.8h-8.7l-1.8-1.8zM196.7 511.9h8.7l1.8 1.8v8.7l-1.8 1.8h-8.7l-1.8-1.8zM196.7 510.9h8.7l1.8 1.8v8.7l-1.8 1.8h-8.7l-1.8-1.8zM196.4 509.4h9.1l2 2v9.1l-2 2h-9.1l-2-2zM196.7 507.9h8.7l1.8 1.8v8.7l-1.8 1.8h-8.7l-1.8-1.8zM196.7 505.9h8.7l1.8 1.8v8.7l-1.8 1.8h-8.7l-1.8-1.8zM196.7 504.9h8.7l1.8 1.8v8.7l-1.8 1.8h-8.7l-1.8-1.8zM196.4 503.4h9.1l2 2v9.1l-2 2h-9.1l-2-2zM196.7 501.9h8.7l1.8 1.8v8.7l-1.8 1.8h-8.7l-1.8-1.8zM196.7 499.9h8.7l1.8 1.8v8.7l-1.8 1.8h-8.7l-1.8-1.8zM196.7 498.9h8.7l1.8 1.8v8.7l-1.8 1.8h-8.7l-1.8-1.8zM196.4 497.4h9.1l2 2v9.1l-2 2h-9.1l-2-2zM196.7 495.9h8.7l1.8 1.8v8.7l-1.8 1.8h-8.7l-1.8-1.8zM196.7 493.9h8.7l1.8 1.8v8.7l-1.8 1.8h-8.7l-1.8-1.8zM196.7 492.9h8.7l1.8 1.8v8.7l-1.8 1.8h-8.7l-1.8-1.8zM196.4 491.4h9.1l2 2v9.1l-2 2h-9.1l-2-2zM196.7 489.9h8.7l1.8 1.8v8.7l-1.8 1.8h-8.7l-1.8-1.8zM196.7 487.9h8.7l1.8 1.8v8.7l-1.8 1.8h-8.7l-1.8-1.8zM196.7 486.9h8.7l1.8 1.8v8.7l-1.8 1.8h-8.7l-1.8-1.8zM196.4 485.4h9.1l2 2v9.1l-2 2h-9.1l-2-2zM196.7 483.9h8.7l1.8 1.8v8.7l-1.8 1.8h-8.7l-1.8-1.8zM196.7 481.9h8.7l1.8 1.8v8.7l-1.8 1.8h-8.7l-1.8-1.8zM196.7 480.9h8.7l1.8 1.8v8.7l-1.8 1.8h-8.7l-1.8-1.8zM196.4 478.4h9.1l2 2v9.1l-2 2h-9.1l-2-2zM199.7 476.9h8.7l1.8 1.8v8.7l-1.8 1.8h-8.7l-1.8-1.8zM199.7 475.9h8.7l1.8 1.8v8.7l-1.8 1.8h-8.7l-1.8-1.8zM199.7 473.9h8.7l1.8 1.8v8.7l-1.8 1.8h-8.7l-1.8-1.8zM199.4 472.4h9.1l2 2v9.1l-2 2h-9.1l-2-2zM199.7 470.9h8.7l1.8 1.8v8.7l-1.8 1.8h-8.7l-1.8-1.8zM199.7 469.9h8.7l1.8 1.8v8.7l-1.8 1.8h-8.7l-1.8-1.8zM199.7 467.9h8.7l1.8 1.8v8.7l-1.8 1.8h-8.7l-1.8-1.8zM202.4 466.4h9.1l2 2v9.1l-2 2h-9.1l-2-2zM202.7 464.9h8.7l1.8 1.8v8.7l-1.8 1.8h-8.7l-1.8-1.8zM202.7 463.9h8.7l1.8 1.8v8.7l-1.8 1.8h-8.7l-1.8-1.8zM202.7 461.9h8.7l1.8 1.8v8.7l-1.8 1.8h-8.7l-1.8-1.8zM202.4 460.4h9.1l2 2v9.1l-2 2h-9.1l-2-2zM202.7 458.9h8.7l1.8 1.8v8.7l-1.8 1.8h-8.7l-1.8-1.8zM205.7 456.9h8.7l1.8 1.8v8.7l-1.8 1.8h-8.7l-1.8-1.8zM205.7 455.9h8.7l1.8 1.8v8.7l-1.8 1.8h-8.7l-1.8-1.8zM205.4 453.4h9.1l2 2v9.1l-2 2h-9.1l-2-2zM205.7 451.9h8.7l1.8 1.8v8.7l-1.8 1.8h-8.7l-1.8-1.8zM205.7 450.9h8.7l1.8 1.8v8.7l-1.8 1.8h-8.7l-1.8-1.8zM205.7 448.9h8.7l1.8 1.8v8.7l-1.8 1.8h-8.7l-1.8-1.8zM205.4 446.4h9.1l2 2v9.1l-2 2h-9.1l-2-2zM205.7 445.9h8.7l1.8 1.8v8.7l-1.8 1.8h-8.7l-1.8-1.8zM205.7 443.9h8.7l1.8 1.8v8.7l-1.8 1.8h-8.7l-1.8-1.8zM208.7 441.9h8.7l1.8 1.8v8.7l-1.8 1.8h-8.7l-1.8-1.8zM208.4 440.4h9.1l2 2v9.1l-2 2h-9.1l-2-2zM208.7 438.9h8.7l1.8 1.8v8.7l-1.8 1.8h-8.7l-1.8-1.8zM208.7 436.9h8.7l1.8 1.8v8.7l-1.8 1.8h-8.7l-1.8-1.8zM208.7 435.9h8.7l1.8 1.8v8.7l-1.8 1.8h-8.7l-1.8-1.8zM208.4 433.4h9.1l2 2v9.1l-2 2h-9.1l-2-2zM208.7 431.9h8.7l1.8 1.8v8.7l-1.8 1.8h-8.7l-1.8-1.8zM208.7 430.9h8.7l1.8 1.8v8.7l-1.8 1.8h-8.7l-1.8-1.8zM208.7 428.9h8.7l1.8 1.8v8.7l-1.8 1.8h-8.7l-1.8-1.8zM208.4 426.4h9.1l2 2v9.1l-2 2h-9.1l-2-2zM208.7 425.9h8.7l1.8 1.8v8.7l-1.8 1.8h-8.7l-1.8-1.8zM211.7 423.9h8.7l1.8 1.8v8.7l-1.8 1.8h-8.7l-1.8-1.8zM211.7 421.9h8.7l1.8 1.8v8.7l-1.8 1.8h-8.7l-1.8-1.8zM211.4 420.4h9.1l2 2v9.1l-2 2h-9.1l-2-2zM211.7 418.9h8.7l1.8 1.8v8.7l-1.8 1.8h-8.7l-1.8-1.8zM211.7 416.9h8.7l1.8 1.8v8.7l-1.8 1.8h-8.7l-1.8-1.8zM211.7 415.9h8.7l1.8 1.8v8.7l-1.8 1.8h-8.7l-1.8-1.8zM211.4 413.4h9.1l2 2v9.1l-2 2h-9.1l-2-2zM214.7 411.9h8.7l1.8 1.8v8.7l-1.8 1.8h-8.7l-1.8-1.8zM214.7 410.9h8.7l1.8 1.8v8.7l-1.8 1.8h-8.7l-1.8-1.8zM214.7 408.9h8.7l1.8 1.8v8.7l-1.8 1.8h-8.7l-1.8-1.8zM214.4 406.4h9.1l2 2v9.1l-2 2h-9.1l-2-2zM214.7 405.9h8.7l1.8 1.8v8.7l-1.8 1.8h-8.7l-1.8-1.8zM214.7 403.9h8.7l1.8 1.8v8.7l-1.8 1.8h-8.7l-1.8-1.8zM217.7 401.9h8.7l1.8 1.8v8.7l-1.8 1.8h-8.7l-1.8-1.8zM217.4 400.4h9.1l2 2v9.1l-2 2h-9.1l-2-2zM217.7 398.9h8.7l1.8 1.8v8.7l-1.8 1.8h-8.7l-1.8-1.8zM217.7 396.9h8.7l1.8 1.8v8.7l-1.8 1.8h-8.7l-1.8-1.8zM217.7 395.9h8.7l1.8 1.8v8.7l-1.8 1.8h-8.7l-1.8-1.8zM217.4 393.4h9.1l2 2v9.1l-2 2h-9.1l-2-2zM220.7 391.9h8.7l1.8 1.8v8.7l-1.8 1.8h-8.7l-1.8-1.8zM220.7 390.9h8.7l1.8 1.8v8.7l-1.8 1.8h-8.7l-1.8-1.8zM220.7 388.9h8.7l1.8 1.8v8.7l-1.8 1.8h-8.7l-1.8-1.8zM220.4 386.4h9.1l2 2v9.1l-2 2h-9.1l-2-2zM220.7 385.9h8.7l1.8 1.8v8.7l-1.8 1.8h-8.7l-1.8-1.8zM220.7 383.9h8.7l1.8 1.8v8.7l-1.8 1.8h-8.7l-1.8-1.8zM223.7 382.9h8.7l1.8 1.8v8.7l-1.8 1.8h-8.7l-1.8-1.8zM223.4 380.4h9.1l2 2v9.1l-2 2h-9.1l-2-2zM223.7 379.9h8.7l1.8 1.8v8.7l-1.8 1.8h-8.7l-1.8-1.8zM223.7 377.9h8.7l1.8 1.8v8.7l-1.8 1.8h-8.7l-1.8-1.8zM223.7 376.9h8.7l1.8 1.8v8.7l-1.8 1.8h-8.7l-1.8-1.8zM223.4 374.4h9.1l2 2v9.1l-2 2h-9.1l-2-2zM226.7 373.9h8.7l1.8 1.8v8.7l-1.8 1.8h-8.7l-1.8-1.8zM226.7 371.9h8.7l1.8 1.8v8.7l-1.8 1.8h-8.7l-1.8-1.8zM226.7 370.9h8.7l1.8 1.8v8.7l-1.8 1.8h-8.7l-1.8-1.8zM226.4 368.4h9.1l2 2v9.1l-2 2h-9.1l-2-2zM226.7 366.9h8.7l1.8 1.8v8.7l-1.8 1.8h-8.7l-1.8-1.8zM226.7 365.9h8.7l1.8 1.8v8.7l-1.8 1.8h-8.7l-1.8-1.8zM226.7 363.9h8.7l1.8 1.8v8.7l-1.8 1.8h-8.7l-1.8-1.8zM229.4 362.4h9.1l2 2v9.1l-2 2h-9.1l-2-2zM229.7 360.9h8.7l1.8 1.8v8.7l-1.8 1.8h-8.7l-1.8-1.8zM229.7 359.9h8.7l1.8 1.8v8.7l-1.8 1.8h-8.7l-1.8-1.8zM229.7 357.9h8.7l1.8 1.8v8.7l-1.8 1.8h-8.7l-1.8-1.8zM229.4 356.4h9.1l2 2v9.1l-2 2h-9.1l-2-2zM232.7 354.9h8.7l1.8 1.8v8.7l-1.8 1.8h-8.7l-1.8-1.8zM232.7 353.9h8.7l1.8 1.8v8.7l-1.8 1.8h-8.7l-1.8-1.8zM232.7 352.9h8.7l1.8 1.8v8.7l-1.8 1.8h-8.7l-1.8-1.8zM232.4 350.4h9.1l2 2v9.1l-2 2h-9.1l-2-2zM232.7 349.9h8.7l1.8 1.8v8.7l-1.8 1.8h-8.7l-1.8-1.8zM235.7 347.9h8.7l1.8 1.8v8.7l-1.8 1.8h-8.7l-1.8-1.8zM235.7 346.9h8.7l1.8 1.8v8.7l-1.8 1.8h-8.7l-1.8-1.8zM235.4 344.4h9.1l2 2v9.1l-2 2h-9.1l-2-2zM235.7 343.9h8.7l1.8 1.8v8.7l-1.8 1.8h-8.7l-1.8-1.8zM238.7 341.9h8.7l1.8 1.8v8.7l-1.8 1.8h-8.7l-1.8-1.8zM238.7 340.9h8.7l1.8 1.8v8.7l-1.8 1.8h-8.7l-1.8-1.8zM238.4 338.4h9.1l2 2v9.1l-2 2h-9.1l-2-2zM238.7 337.9h8.7l1.8 1.8v8.7l-1.8 1.8h-8.7l-1.8-1.8zM238.7 335.9h8.7l1.8 1.8v8.7l-1.8 1.8h-8.7l-1.8-1.8zM241.7 334.9h8.7l1.8 1.8v8.7l-1.8 1.8h-8.7l-1.8-1.8zM241.4 332.4h9.1l2 2v9.1l-2 2h-9.1l-2-2zM241.7 331.9h8.7l1.8 1.8v8.7l-1.8 1.8h-8.7l-1.8-1.8zM241.7 329.9h8.7l1.8 1.8v8.7l-1.8 1.8h-8.7l-1.8-1.8zM244.7 328.9h8.7l1.8 1.8v8.7l-1.8 1.8h-8.7l-1.8-1.8zM244.4 326.4h9.1l2 2v9.1l-2 2h-9.1l-2-2zM244.7 324.9h8.7l1.8 1.8v8.7l-1.8 1.8h-8.7l-1.8-1.8zM244.7 323.9h8.7l1.8 1.8v8.7l-1.8 1.8h-8.7l-1.8-1.8zM244.7 321.9h8.7l1.8 1.8v8.7l-1.8 1.8h-8.7l-1.8-1.8zM247.4 320.4h9.1l2 2v9.1l-2 2h-9.1l-2-2zM247.7 318.9h8.7l1.8 1.8v8.7l-1.8 1.8h-8.7l-1.8-1.8zM247.7 317.9h8.7l1.8 1.8v8.7l-1.8 1.8h-8.7l-1.8-1.8zM247.7 315.9h8.7l1.8 1.8v8.7l-1.8 1.8h-8.7l-1.8-1.8zM250.4 314.4h9.1l2 2v9.1l-2 2h-9.1l-2-2zM250.7 313.9h8.7l1.8 1.8v8.7l-1.8 1.8h-8.7l-1.8-1.8zM250.7 311.9h8.7l1.8 1.8v8.7l-1.8 1.8h-8.7l-1.8-1.8zM250.7 310.9h8.7l1.8 1.8v8.7l-1.8 1.8h-8.7l-1.8-1.8zM253.4 308.4h9.1l2 2v9.1l-2 2h-9.1l-2-2zM253.7 307.9h8.7l1.8 1.8v8.7l-1.8 1.8h-8.7l-1.8-1.8zM254.7 307.9h8.7l1.8 1.8v8.7l-1.8 1.8h-8.7l-1.8-1.8zM255.7 307.9h8.7l1.8 1.8v8.7l-1.8 1.8h-8.7l-1.8-1.8zM256.4 305.4h9.1l2 2v9.1l-2 2h-9.1l-2-2zM257.6 303.9h8.7l1.8 1.8v8.7l-1.8 1.8h-8.7l-1.8-1.8zM258.7 302.9h8.7l1.8 1.8v8.7l-1.8 1.8h-8.7l-1.8-1.8zM259.7 299.9h8.7l1.8 1.8v8.7l-1.8 1.8h-8.7l-1.8-1.8zM260.4 298.4h9.1l2 2v9.1l-2 2h-9.1l-2-2zM261.7 298.9h8.7l1.8 1.8v8.7l-1.8 1.8h-8.7l-1.8-1.8zM262.7 295.9h8.7l1.8 1.8v8.7l-1.8 1.8h-8.7l-1.8-1.8zM262.7 293.9h8.7l1.8 1.8v8.7l-1.8 1.8h-8.7l-1.8-1.8zM265.4 292.4h9.1l2 2v9.1l-2 2h-9.1l-2-2zM266.7 292.9h8.7l1.8 1.8v8.7l-1.8 1.8h-8.7l-1.8-1.8zM267.7 289.9h8.7l1.8 1.8v8.7l-1.8 1.8h-8.7l-1.8-1.8zM268.7 287.9h8.7l1.8 1.8v8.7l-1.8 1.8h-8.7l-1.8-1.8zM269.4 286.4h9.1l2 2v9.1l-2 2h-9.1l-2-2zM270.7 286.9h8.7l1.8 1.8v8.7l-1.8 1.8h-8.7l-1.8-1.8zM271.7 284.9h8.7l1.8 1.8v8.7l-1.8 1.8h-8.7l-1.8-1.8zM272.7 282.9h8.7l1.8 1.8v8.7l-1.8 1.8h-8.7l-1.8-1.8zM273.4 281.4h9.1l2 2v9.1l-2 2h-9.1l-2-2zM274.7 281.9h8.7l1.8 1.8v8.7l-1.8 1.8h-8.7l-1.8-1.8zM275.7 279.9h8.7l1.8 1.8v8.7l-1.8 1.8h-8.7l-1.8-1.8zM276.7 277.9h8.7l1.8 1.8v8.7l-1.8 1.8h-8.7l-1.8-1.8zM277.4 277.4h9.1l2 2v9.1l-2 2h-9.1l-2-2zM278.7 275.9h8.7l1.8 1.8v8.7l-1.8 1.8h-8.7l-1.8-1.8zM279.7 273.9h8.7l1.8 1.8v8.7l-1.8 1.8h-8.7l-1.8-1.8zM281.7 273.9h8.7l1.8 1.8v8.7l-1.8 1.8h-8.7l-1.8-1.8zM282.4 273.4h9.1l2 2v9.1l-2 2h-9.1l-2-2zM283.7 273.9h8.7l1.8 1.8v8.7l-1.8 1.8h-8.7l-1.8-1.8zM284.7 271.9h8.7l1.8 1.8v8.7l-1.8 1.8h-8.7l-1.8-1.8zM285.7 268.9h8.7l1.8 1.8v8.7l-1.8 1.8h-8.7l-1.8-1.8zM286.4 267.4h9.1l2 2v9.1l-2 2h-9.1l-2-2zM287.7 267.9h8.7l1.8 1.8v8.7l-1.8 1.8h-8.7l-1.8-1.8zM288.7 267.9h8.7l1.8 1.8v8.7l-1.8 1.8h-8.7l-1.8-1.8zM289.7 264.9h8.7l1.8 1.8v8.7l-1.8 1.8h-8.7l-1.8-1.8zM291.4 262.4h9.1l2 2v9.1l-2 2h-9.1l-2-2zM292.7 261.9h8.7l1.8 1.8v8.7l-1.8 1.8h-8.7l-1.8-1.8zM293.7 261.9h8.7l1.8 1.8v8.7l-1.8 1.8h-8.7l-1.8-1.8zM294.7 261.9h8.7l1.8 1.8v8.7l-1.8 1.8h-8.7l-1.8-1.8zM295.4 259.4h9.1l2 2v9.1l-2 2h-9.1l-2-2zM296.7 257.9h8.7l1.8 1.8v8.7l-1.8 1.8h-8.7l-1.8-1.8zM297.7 255.8h8.7l1.8 1.8v8.7l-1.8 1.8h-8.7l-1.8-1.8zM298.7 255.8h8.7l1.8 1.8v8.7l-1.8 1.8h-8.7l-1.8-1.8zM299.4 255.4h9.1l2 2v9.1l-2 2h-9.1l-2-2zM301.7 255.8h8.7l1.8 1.8v8.7l-1.8 1.8h-8.7l-1.8-1.8zM302.7 253.8h8.7l1.8 1.8v8.7l-1.8 1.8h-8.7l-1.8-1.8zM303.7 251.8h8.7l1.8 1.8v8.7l-1.8 1.8h-8.7l-1.8-1.8zM304.4 249.4h9.1l2 2v9.1l-2 2h-9.1l-2-2zM305.7 249.8h8.7l1.8 1.8v8.7l-1.8 1.8h-8.7l-1.8-1.8zM306.7 247.8h8.7l1.8 1.8v8.7l-1.8 1.8h-8.7l-1.8-1.8zM308.7 245.8h8.7l1.8 1.8v8.7l-1.8 1.8h-8.7l-1.8-1.8zM309.4 245.4h9.1l2 2v9.1l-2 2h-9.1l-2-2zM311.7 245.8h8.7l1.8 1.8v8.7l-1.8 1.8h-8.7l-1.8-1.8zM312.7 245.8h8.7l1.8 1.8v8.7l-1.8 1.8h-8.7l-1.8-1.8zM314.7 245.8h8.7l1.8 1.8v8.7l-1.8 1.8h-8.7l-1.8-1.8zM315.4 243.4h9.1l2 2v9.1l-2 2h-9.1l-2-2zM316.7 241.8h8.7l1.8 1.8v8.7l-1.8 1.8h-8.7l-1.8-1.8zM317.7 239.8h8.7l1.8 1.8v8.7l-1.8 1.8h-8.7l-1.8-1.8zM319.7 239.8h8.7l1.8 1.8v8.7l-1.8 1.8h-8.7l-1.8-1.8zM320.4 239.4h9.1l2 2v9.1l-2 2h-9.1l-2-2zM321.7 237.8h8.7l1.8 1.8v8.7l-1.8 1.8h-8.7l-1.8-1.8zM322.7 235.8h8.7l1.8 1.8v8.7l-1.8 1.8h-8.7l-1.8-1.8zM323.7 234.8h8.7l1.8 1.8v8.7l-1.8 1.8h-8.7l-1.8-1.8zM324.4 232.4h9.1l2 2v9.1l-2 2h-9.1l-2-2zM325.7 230.8h8.7l1.8 1.8v8.7l-1.8 1.8h-8.7l-1.8-1.8zM326.7 229.8h8.7l1.8 1.8v8.7l-1.8 1.8h-8.7l-1.8-1.8zM327.7 229.8h8.7l1.8 1.8v8.7l-1.8 1.8h-8.7l-1.8-1.8zM329.4 229.4h9.1l2 2v9.1l-2 2h-9.1l-2-2zM330.7 227.8h8.7l1.8 1.8v8.7l-1.8 1.8h-8.7l-1.8-1.8zM331.7 225.8h8.7l1.8 1.8v8.7l-1.8 1.8h-8.7l-1.8-1.8zM333.7 224.8h8.7l1.8 1.8v8.7l-1.8 1.8h-8.7l-1.8-1.8zM334.4 224.4h9.1l2 2v9.1l-2 2h-9.1l-2-2zM335.7 224.8h8.7l1.8 1.8v8.7l-1.8 1.8h-8.7l-1.8-1.8zM336.7 224.8h8.7l1.8 1.8v8.7l-1.8 1.8h-8.7l-1.8-1.8zM338.7 224.8h8.7l1.8 1.8v8.7l-1.8 1.8h-8.7l-1.8-1.8zM339.4 221.4h9.1l2 2v9.1l-2 2h-9.1l-2-2zM341.7 219.8h8.7l1.8 1.8v8.7l-1.8 1.8h-8.7l-1.8-1.8zM342.7 218.8h8.7l1.8 1.8v8.7l-1.8 1.8h-8.7l-1.8-1.8zM344.7 218.8h8.7l1.8 1.8v8.7l-1.8 1.8h-8.7l-1.8-1.8zM345.4 218.4h9.1l2 2v9.1l-2 2h-9.1l-2-2zM346.7 218.8h8.7l1.8 1.8v8.7l-1.8 1.8h-8.7l-1.8-1.8zM347.7 218.8h8.7l1.8 1.8v8.7l-1.8 1.8h-8.7l-1.8-1.8zM348.7 216.8h8.7l1.8 1.8v8.7l-1.8 1.8h-8.7l-1.8-1.8zM349.4 213.4h9.1l2 2v9.1l-2 2h-9.1l-2-2zM350.7 212.8h8.7l1.8 1.8v8.7l-1.8 1.8h-8.7l-1.8-1.8zM352.7 212.8h8.7l1.8 1.8v8.7l-1.8 1.8h-8.7l-1.8-1.8zM353.7 212.8h8.7l1.8 1.8v8.7l-1.8 1.8h-8.7l-1.8-1.8zM355.4 210.4h9.1l2 2v9.1l-2 2h-9.1l-2-2zM356.7 208.8h8.7l1.8 1.8v8.7l-1.8 1.8h-8.7l-1.8-1.8zM358.7 208.8h8.7l1.8 1.8v8.7l-1.8 1.8h-8.7l-1.8-1.8zM359.7 208.8h8.7l1.8 1.8v8.7l-1.8 1.8h-8.7l-1.8-1.8zM360.4 208.4h9.1l2 2v9.1l-2 2h-9.1l-2-2zM362.7 208.8h8.7l1.8 1.8v8.7l-1.8 1.8h-8.7l-1.8-1.8zM364.7 208.8h8.7l1.8 1.8v8.7l-1.8 1.8h-8.7l-1.8-1.8zM366.7 208.8h8.7l1.8 1.8v8.7l-1.8 1.8h-8.7l-1.8-1.8zM367.4 208.4h9.1l2 2v9.1l-2 2h-9.1l-2-2zM368.7 206.8h8.7l1.8 1.8v8.7l-1.8 1.8h-8.7l-1.8-1.8zM370.7 203.8h8.7l1.8 1.8v8.7l-1.8 1.8h-8.7l-1.8-1.8zM371.7 203.8h8.7l1.8 1.8v8.7l-1.8 1.8h-8.7l-1.8-1.8zM373.4 203.4h9.1l2 2v9.1l-2 2h-9.1l-2-2zM374.7 203.8h8.7l1.8 1.8v8.7l-1.8 1.8h-8.7l-1.8-1.8zM375.7 203.8h8.7l1.8 1.8v8.7l-1.8 1.8h-8.7l-1.8-1.8zM377.7 201.8h8.7l1.8 1.8v8.7l-1.8 1.8h-8.7l-1.8-1.8zM378.4 199.4h9.1l2 2v9.1l-2 2h-9.1l-2-2zM380.7 199.8h8.7l1.8 1.8v8.7l-1.8 1.8h-8.7l-1.8-1.8zM381.7 199.8h8.7l1.8 1.8v8.7l-1.8 1.8h-8.7l-1.8-1.8zM383.7 199.8h8.7l1.8 1.8v8.7l-1.8 1.8h-8.7l-1.8-1.8zM384.4 199.4h9.1l2 2v9.1l-2 2h-9.1l-2-2zM386.7 199.8h8.7l1.8 1.8v8.7l-1.8 1.8h-8.7l-1.8-1.8zM388.7 199.8h8.7l1.8 1.8v8.7l-1.8 1.8h-8.7l-1.8-1.8zM389.7 199.8h8.7l1.8 1.8v8.7l-1.8 1.8h-8.7l-1.8-1.8zM391.4 197.4h9.1l2 2v9.1l-2 2h-9.1l-2-2zM392.7 195.8h8.7l1.8 1.8v8.7l-1.8 1.8h-8.7l-1.8-1.8zM393.7 194.8h8.7l1.8 1.8v8.7l-1.8 1.8h-8.7l-1.8-1.8zM395.7 194.8h8.7l1.8 1.8v8.7l-1.8 1.8h-8.7l-1.8-1.8zM396.4 194.4h9.1l2 2v9.1l-2 2h-9.1l-2-2zM398.7 194.8h8.7l1.8 1.8v8.7l-1.8 1.8h-8.7l-1.8-1.8zM399.7 194.8h8.7l1.8 1.8v8.7l-1.8 1.8h-8.7l-1.8-1.8zM400.7 194.8h8.7l1.8 1.8v8.7l-1.8 1.8h-8.7l-1.8-1.8zM402.4 191.4h9.1l2 2v9.1l-2 2h-9.1l-2-2zM403.7 189.8h8.7l1.8 1.8v8.7l-1.8 1.8h-8.7l-1.8-1.8zM405.7 188.8h8.7l1.8 1.8v8.7l-1.8 1.8h-8.7l-1.8-1.8zM406.7 188.8h8.7l1.8 1.8v8.7l-1.8 1.8h-8.7l-1.8-1.8zM408.4 188.4h9.1l2 2v9.1l-2 2h-9.1l-2-2zM409.7 188.8h8.7l1.8 1.8v8.7l-1.8 1.8h-8.7l-1.8-1.8zM411.7 188.8h8.7l1.8 1.8v8.7l-1.8 1.8h-8.7l-1.8-1.8zM413.7 188.8h8.7l1.8 1.8v8.7l-1.8 1.8h-8.7l-1.8-1.8zM414.4 188.4h9.1l2 2v9.1l-2 2h-9.1l-2-2zM416.7 188.8h8.7l1.8 1.8v8.7l-1.8 1.8h-8.7l-1.8-1.8zM417.7 188.8h8.7l1.8 1.8v8.7l-1.8 1.8h-8.7l-1.8-1.8zM419.7 188.8h8.7l1.8 1.8v8.7l-1.8 1.8h-8.7l-1.8-1.8zM420.4 188.4h9.1l2 2v9.1l-2 2h-9.1l-2-2zM422.7 186.8h8.7l1.8 1.8v8.7l-1.8 1.8h-8.7l-1.8-1.8zM424.7 183.8h8.7l1.8 1.8v8.7l-1.8 1.8h-8.7l-1.8-1.8zM425.7 182.8h8.7l1.8 1.8v8.7l-1.8 1.8h-8.7l-1.8-1.8zM427.4 182.4h9.1l2 2v9.1l-2 2h-9.1l-2-2zM428.7 182.8h8.7l1.8 1.8v8.7l-1.8 1.8h-8.7l-1.8-1.8zM430.7 182.8h8.7l1.8 1.8v8.7l-1.8 1.8h-8.7l-1.8-1.8zM431.7 182.8h8.7l1.8 1.8v8.7l-1.8 1.8h-8.7l-1.8-1.8zM432.4 182.4h9.1l2 2v9.1l-2 2h-9.1l-2-2zM434.7 182.8h8.7l1.8 1.8v8.7l-1.8 1.8h-8.7l-1.8-1.8zM435.7 180.8h8.7l1.8 1.8v8.7l-1.8 1.8h-8.7l-1.8-1.8zM436.7 177.8h8.7l1.8 1.8v8.7l-1.8 1.8h-8.7l-1.8-1.8zM437.4 177.4h9.1l2 2v9.1l-2 2h-9.1l-2-2zM439.7 177.8h8.7l1.8 1.8v8.7l-1.8 1.8h-8.7l-1.8-1.8zM441.7 177.8h8.7l1.8 1.8v8.7l-1.8 1.8h-8.7l-1.8-1.8zM442.7 177.8h8.7l1.8 1.8v8.7l-1.8 1.8h-8.7l-1.8-1.8zM444.4 175.4h9.1l2 2v9.1l-2 2h-9.1l-2-2zM445.7 173.8h8.7l1.8 1.8v8.7l-1.8 1.8h-8.7l-1.8-1.8zM447.7 173.8h8.7l1.8 1.8v8.7l-1.8 1.8h-8.7l-1.8-1.8zM448.7 173.8h8.7l1.8 1.8v8.7l-1.8 1.8h-8.7l-1.8-1.8zM450.4 173.4h9.1l2 2v9.1l-2 2h-9.1l-2-2zM452.7 173.8h8.7l1.8 1.8v8.7l-1.8 1.8h-8.7l-1.8-1.8zM453.7 173.8h8.7l1.8 1.8v8.7l-1.8 1.8h-8.7l-1.8-1.8zM455.7 173.8h8.7l1.8 1.8v8.7l-1.8 1.8h-8.7l-1.8-1.8zM456.4 170.4h9.1l2 2v9.1l-2 2h-9.1l-2-2zM458.7 168.8h8.7l1.8 1.8v8.7l-1.8 1.8h-8.7l-1.8-1.8zM459.7 168.8h8.7l1.8 1.8v8.7l-1.8 1.8h-8.7l-1.8-1.8zM461.7 168.8h8.7l1.8 1.8v8.7l-1.8 1.8h-8.7l-1.8-1.8zM463.4 168.4h9.1l2 2v9.1l-2 2h-9.1l-2-2zM464.7 168.8h8.7l1.8 1.8v8.7l-1.8 1.8h-8.7l-1.8-1.8zM466.7 168.8h8.7l1.8 1.8v8.7l-1.8 1.8h-8.7l-1.8-1.8zM467.7 168.8h8.7l1.8 1.8v8.7l-1.8 1.8h-8.7l-1.8-1.8zM469.4 168.4h9.1l2 2v9.1l-2 2h-9.1l-2-2zM470.7 168.8h8.7l1.8 1.8v8.7l-1.8 1.8h-8.7l-1.8-1.8zM472.7 168.8h8.7l1.8 1.8v8.7l-1.8 1.8h-8.7l-1.8-1.8zM474.7 168.8h8.7l1.8 1.8v8.7l-1.8 1.8h-8.7l-1.8-1.8zM475.4 168.4h9.1l2 2v9.1l-2 2h-9.1l-2-2zM477.7 168.8h8.7l1.8 1.8v8.7l-1.8 1.8h-8.7l-1.8-1.8zM478.7 166.8h8.7l1.8 1.8v8.7l-1.8 1.8h-8.7l-1.8-1.8zM480.7 164.8h8.7l1.8 1.8v8.7l-1.8 1.8h-8.7l-1.8-1.8zM481.4 164.4h9.1l2 2v9.1l-2 2h-9.1l-2-2zM483.7 164.8h8.7l1.8 1.8v8.7l-1.8 1.8h-8.7l-1.8-1.8zM484.7 164.8h8.7l1.8 1.8v8.7l-1.8 1.8h-8.7l-1.8-1.8zM486.7 164.8h8.7l1.8 1.8v8.7l-1.8 1.8h-8.7l-1.8-1.8zM488.4 164.4h9.1l2 2v9.1l-2 2h-9.1l-2-2zM489.7 164.8h8.7l1.8 1.8v8.7l-1.8 1.8h-8.7l-1.8-1.8zM491.7 164.8h8.7l1.8 1.8v8.7l-1.8 1.8h-8.7l-1.8-1.8zM492.7 161.8h8.7l1.8 1.8v8.7l-1.8 1.8h-8.7l-1.8-1.8zM494.4 160.4h9.1l2 2v9.1l-2 2h-9.1l-2-2zM495.7 160.8h8.7l1.8 1.8v8.7l-1.8 1.8h-8.7l-1.8-1.8zM497.7 160.8h8.7l1.8 1.8v8.7l-1.8 1.8h-8.7l-1.8-1.8zM499.7 160.8h8.7l1.8 1.8v8.7l-1.8 1.8h-8.7l-1.8-1.8zM500.4 160.4h9.1l2 2v9.1l-2 2h-9.1l-2-2zM502.7 160.8h8.7l1.8 1.8v8.7l-1.8 1.8h-8.7l-1.8-1.8zM503.7 160.8h8.7l1.8 1.8v8.7l-1.8 1.8h-8.7l-1.8-1.8zM505.7 160.8h8.7l1.8 1.8v8.7l-1.8 1.8h-8.7l-1.8-1.8zM506.4 158.4h9.1l2 2v9.1l-2 2h-9.1l-2-2zM508.7 155.8h8.7l1.8 1.8v8.7l-1.8 1.8h-8.7l-1.8-1.8zM510.7 155.8h8.7l1.8 1.8v8.7l-1.8 1.8h-8.7l-1.8-1.8zM511.7 155.8h8.7l1.8 1.8v8.7l-1.8 1.8h-8.7l-1.8-1.8zM513.5 155.4h9.1l2 2v9.1l-2 2h-9.1l-2-2zM514.6 155.8h8.7l1.8 1.8v8.7l-1.8 1.8h-8.7l-1.8-1.8zM516.6 155.8h8.7l1.8 1.8v8.7l-1.8 1.8h-8.7l-1.8-1.8zM517.6 155.8h8.7l1.8 1.8v8.7l-1.8 1.8h-8.7l-1.8-1.8zM519.5 153.4h9.1l2 2v9.1l-2 2h-9.1l-2-2zM521.6 152.8h8.7l1.8 1.8v8.7l-1.8 1.8h-8.7l-1.8-1.8zM522.6 152.8h8.7l1.8 1.8v8.7l-1.8 1.8h-8.7l-1.8-1.8zM524.6 152.8h8.7l1.8 1.8v8.7l-1.8 1.8h-8.7l-1.8-1.8zM525.5 152.4h9.1l2 2v9.1l-2 2h-9.1l-2-2zM527.6 152.8h8.7l1.8 1.8v8.7l-1.8 1.8h-8.7l-1.8-1.8zM528.6 152.8h8.7l1.8 1.8v8.7l-1.8 1.8h-8.7l-1.8-1.8zM530.6 152.8h8.7l1.8 1.8v8.7l-1.8 1.8h-8.7l-1.8-1.8zM531.5 152.4h9.1l2 2v9.1l-2 2h-9.1l-2-2zM533.6 152.8h8.7l1.8 1.8v8.7l-1.8 1.8h-8.7l-1.8-1.8zM535.6 152.8h8.7l1.8 1.8v8.7l-1.8 1.8h-8.7l-1.8-1.8zM536.6 149.8h8.7l1.8 1.8v8.7l-1.8 1.8h-8.7l-1.8-1.8zM538.5 148.4h9.1l2 2v9.1l-2 2h-9.1l-2-2zM539.6 148.8h8.7l1.8 1.8v8.7l-1.8 1.8h-8.7l-1.8-1.8zM541.6 148.8h8.7l1.8 1.8v8.7l-1.8 1.8h-8.7l-1.8-1.8zM542.6 148.8h8.7l1.8 1.8v8.7l-1.8 1.8h-8.7l-1.8-1.8zM544.5 148.4h9.1l2 2v9.1l-2 2h-9.1l-2-2zM546.6 148.8h8.7l1.8 1.8v8.7l-1.8 1.8h-8.7l-1.8-1.8zM547.6 148.8h8.7l1.8 1.8v8.7l-1.8 1.8h-8.7l-1.8-1.8zM549.6 148.8h8.7l1.8 1.8v8.7l-1.8 1.8h-8.7l-1.8-1.8zM550.5 148.4h9.1l2 2v9.1l-2 2h-9.1l-2-2zM552.6 148.8h8.7l1.8 1.8v8.7l-1.8 1.8h-8.7l-1.8-1.8zM553.6 146.8h8.7l1.8 1.8v8.7l-1.8 1.8h-8.7l-1.8-1.8zM555.6 144.8h8.7l1.8 1.8v8.7l-1.8 1.8h-8.7l-1.8-1.8zM557.5 144.4h9.1l2 2v9.1l-2 2h-9.1l-2-2zM558.6 144.8h8.7l1.8 1.8v8.7l-1.8 1.8h-8.7l-1.8-1.8zM560.6 144.8h8.7l1.8 1.8v8.7l-1.8 1.8h-8.7l-1.8-1.8zM561.6 144.8h8.7l1.8 1.8v8.7l-1.8 1.8h-8.7l-1.8-1.8zM563.5 144.4h9.1l2 2v9.1l-2 2h-9.1l-2-2zM564.6 144.8h8.7l1.8 1.8v8.7l-1.8 1.8h-8.7l-1.8-1.8zM566.6 144.8h8.7l1.8 1.8v8.7l-1.8 1.8h-8.7l-1.8-1.8zM567.6 144.8h8.7l1.8 1.8v8.7l-1.8 1.8h-8.7l-1.8-1.8zM569.5 144.4h9.1l2 2v9.1l-2 2h-9.1l-2-2zM571.6 144.8h8.7l1.8 1.8v8.7l-1.8 1.8h-8.7l-1.8-1.8zM572.6 144.8h8.7l1.8 1.8v8.7l-1.8 1.8h-8.7l-1.8-1.8zM574.6 144.8h8.7l1.8 1.8v8.7l-1.8 1.8h-8.7l-1.8-1.8zM575.5 144.4h9.1l2 2v9.1l-2 2h-9.1l-2-2zM577.6 144.8h8.7l1.8 1.8v8.7l-1.8 1.8h-8.7l-1.8-1.8zM578.6 144.8h8.7l1.8 1.8v8.7l-1.8 1.8h-8.7l-1.8-1.8zM580.6 142.8h8.7l1.8 1.8v8.7l-1.8 1.8h-8.7l-1.8-1.8zM582.5 140.4h9.1l2 2v9.1l-2 2h-9.1l-2-2zM583.6 139.8h8.7l1.8 1.8v8.7l-1.8 1.8h-8.7l-1.8-1.8zM585.6 139.8h8.7l1.8 1.8v8.7l-1.8 1.8h-8.7l-1.8-1.8zM586.6 139.8h8.7l1.8 1.8v8.7l-1.8 1.8h-8.7l-1.8-1.8zM588.5 139.4h9.1l2 2v9.1l-2 2h-9.1l-2-2zM589.6 139.8h8.7l1.8 1.8v8.7l-1.8 1.8h-8.7l-1.8-1.8zM591.6 139.8h8.7l1.8 1.8v8.7l-1.8 1.8h-8.7l-1.8-1.8zM593.6 139.8h8.7l1.8 1.8v8.7l-1.8 1.8h-8.7l-1.8-1.8zM594.5 139.4h9.1l2 2v9.1l-2 2h-9.1l-2-2zM596.6 137.8h8.7l1.8 1.8v8.7l-1.8 1.8h-8.7l-1.8-1.8zM597.6 135.8h8.7l1.8 1.8v8.7l-1.8 1.8h-8.7l-1.8-1.8zM599.6 135.8h8.7l1.8 1.8v8.7l-1.8 1.8h-8.7l-1.8-1.8zM600.5 135.4h9.1l2 2v9.1l-2 2h-9.1l-2-2zM602.6 135.8h8.7l1.8 1.8v8.7l-1.8 1.8h-8.7l-1.8-1.8zM604.6 135.8h8.7l1.8 1.8v8.7l-1.8 1.8h-8.7l-1.8-1.8zM605.6 135.8h8.7l1.8 1.8v8.7l-1.8 1.8h-8.7l-1.8-1.8zM607.5 135.4h9.1l2 2v9.1l-2 2h-9.1l-2-2zM608.6 135.8h8.7l1.8 1.8v8.7l-1.8 1.8h-8.7l-1.8-1.8zM610.6 135.8h8.7l1.8 1.8v8.7l-1.8 1.8h-8.7l-1.8-1.8zM611.6 135.8h8.7l1.8 1.8v8.7l-1.8 1.8h-8.7l-1.8-1.8zM613.5 133.4h9.1l2 2v9.1l-2 2h-9.1l-2-2zM614.6 131.8h8.7l1.8 1.8v8.7l-1.8 1.8h-8.7l-1.8-1.8zM616.6 131.8h8.7l1.8 1.8v8.7l-1.8 1.8h-8.7l-1.8-1.8zM618.6 131.8h8.7l1.8 1.8v8.7l-1.8 1.8h-8.7l-1.8-1.8zM619.5 131.4h9.1l2 2v9.1l-2 2h-9.1l-2-2zM621.6 131.8h8.7l1.8 1.8v8.7l-1.8 1.8h-8.7l-1.8-1.8zM622.6 131.8h8.7l1.8 1.8v8.7l-1.8 1.8h-8.7l-1.8-1.8zM624.6 131.8h8.7l1.8 1.8v8.7l-1.8 1.8h-8.7l-1.8-1.8zM625.5 131.4h9.1l2 2v9.1l-2 2h-9.1l-2-2zM627.6 131.8h8.7l1.8 1.8v8.7l-1.8 1.8h-8.7l-1.8-1.8zM629.6 131.8h8.7l1.8 1.8v8.7l-1.8 1.8h-8.7l-1.8-1.8zM630.6 131.8h8.7l1.8 1.8v8.7l-1.8 1.8h-8.7l-1.8-1.8zM632.5 131.4h9.1l2 2v9.1l-2 2h-9.1l-2-2zM633.6 131.8h8.7l1.8 1.8v8.7l-1.8 1.8h-8.7l-1.8-1.8zM635.6 129.8h8.7l1.8 1.8v8.7l-1.8 1.8h-8.7l-1.8-1.8zM636.6 127.8h8.7l1.8 1.8v8.7l-1.8 1.8h-8.7l-1.8-1.8zM638.5 126.5h9.1l2 2v9.1l-2 2h-9.1l-2-2zM639.6 126.8h8.7l1.8 1.8v8.7l-1.8 1.8h-8.7l-1.8-1.8zM641.6 126.8h8.7l1.8 1.8v8.7l-1.8 1.8h-8.7l-1.8-1.8zM643.6 126.8h8.7l1.8 1.8v8.7l-1.8 1.8h-8.7l-1.8-1.8zM644.5 126.5h9.1l2 2v9.1l-2 2h-9.1l-2-2zM646.6 126.8h8.7l1.8 1.8v8.7l-1.8 1.8h-8.7l-1.8-1.8zM647.6 126.8h8.7l1.8 1.8v8.7l-1.8 1.8h-8.7l-1.8-1.8zM649.6 126.8h8.7l1.8 1.8v8.7l-1.8 1.8h-8.7l-1.8-1.8zM651.5 126.5h9.1l2 2v9.1l-2 2h-9.1l-2-2zM652.6 126.8h8.7l1.8 1.8v8.7l-1.8 1.8h-8.7l-1.8-1.8zM654.6 126.8h8.7l1.8 1.8v8.7l-1.8 1.8h-8.7l-1.8-1.8zM655.6 126.8h8.7l1.8 1.8v8.7l-1.8 1.8h-8.7l-1.8-1.8zM657.5 126.5h9.1l2 2v9.1l-2 2h-9.1l-2-2zM658.6 126.8h8.7l1.8 1.8v8.7l-1.8 1.8h-8.7l-1.8-1.8zM660.6 126.8h8.7l1.8 1.8v8.7l-1.8 1.8h-8.7l-1.8-1.8zM661.6 126.8h8.7l1.8 1.8v8.7l-1.8 1.8h-8.7l-1.8-1.8zM663.5 126.5h9.1l2 2v9.1l-2 2h-9.1l-2-2zM665.6 126.8h8.7l1.8 1.8v8.7l-1.8 1.8h-8.7l-1.8-1.8zM666.6 126.8h8.7l1.8 1.8v8.7l-1.8 1.8h-8.7l-1.8-1.8zM668.6 124.8h8.7l1.8 1.8v8.7l-1.8 1.8h-8.7l-1.8-1.8zM669.5 122.5h9.1l2 2v9.1l-2 2h-9.1l-2-2zM671.6 121.8h8.7l1.8 1.8v8.7l-1.8 1.8h-8.7l-1.8-1.8zM672.6 121.8h8.7l1.8 1.8v8.7l-1.8 1.8h-8.7l-1.8-1.8zM674.6 121.8h8.7l1.8 1.8v8.7l-1.8 1.8h-8.7l-1.8-1.8zM675.5 121.5h9.1l2 2v9.1l-2 2h-9.1l-2-2zM677.6 121.8h8.7l1.8 1.8v8.7l-1.8 1.8h-8.7l-1.8-1.8zM679.6 119.8h8.7l1.8 1.8v8.7l-1.8 1.8h-8.7l-1.8-1.8zM680.6 117.8h8.7l1.8 1.8v8.7l-1.8 1.8h-8.7l-1.8-1.8zM682.5 117.5h9.1l2 2v9.1l-2 2h-9.1l-2-2zM683.6 117.8h8.7l1.8 1.8v8.7l-1.8 1.8h-8.7l-1.8-1.8zM685.6 117.8h8.7l1.8 1.8v8.7l-1.8 1.8h-8.7l-1.8-1.8zM687.6 117.8h8.7l1.8 1.8v8.7l-1.8 1.8h-8.7l-1.8-1.8zM688.5 117.5h9.1l2 2v9.1l-2 2h-9.1l-2-2zM689.6 117.8h8.7l1.8 1.8v8.7l-1.8 1.8h-8.7l-1.8-1.8zM691.6 117.8h8.7l1.8 1.8v8.7l-1.8 1.8h-8.7l-1.8-1.8zM693.6 115.8h8.7l1.8 1.8v8.7l-1.8 1.8h-8.7l-1.8-1.8zM694.5 113.5h9.1l2 2v9.1l-2 2h-9.1l-2-2zM695.6 113.8h8.7l1.8 1.8v8.7l-1.8 1.8h-8.7l-1.8-1.8zM697.6 113.8h8.7l1.8 1.8v8.7l-1.8 1.8h-8.7l-1.8-1.8zM699.6 113.8h8.7l1.8 1.8v8.7l-1.8 1.8h-8.7l-1.8-1.8zM700.5 113.5h9.1l2 2v9.1l-2 2h-9.1l-2-2zM702.6 113.8h8.7l1.8 1.8v8.7l-1.8 1.8h-8.7l-1.8-1.8zM703.6 113.8h8.7l1.8 1.8v8.7l-1.8 1.8h-8.7l-1.8-1.8zM705.6 113.8h8.7l1.8 1.8v8.7l-1.8 1.8h-8.7l-1.8-1.8zM706.5 113.5h9.1l2 2v9.1l-2 2h-9.1l-2-2zM708.6 113.8h8.7l1.8 1.8v8.7l-1.8 1.8h-8.7l-1.8-1.8zM709.6 111.8h8.7l1.8 1.8v8.7l-1.8 1.8h-8.7l-1.8-1.8zM711.6 109.8h8.7l1.8 1.8v8.7l-1.8 1.8h-8.7l-1.8-1.8zM713.5 108.5h9.1l2 2v9.1l-2 2h-9.1l-2-2zM714.6 108.8h8.7l1.8 1.8v8.7l-1.8 1.8h-8.7l-1.8-1.8zM716.6 108.8h8.7l1.8 1.8v8.7l-1.8 1.8h-8.7l-1.8-1.8zM717.6 108.8h8.7l1.8 1.8v8.7l-1.8 1.8h-8.7l-1.8-1.8zM719.5 108.5h9.1l2 2v9.1l-2 2h-9.1l-2-2zM720.6 108.8h8.7l1.8 1.8v8.7l-1.8 1.8h-8.7l-1.8-1.8zM722.6 108.8h8.7l1.8 1.8v8.7l-1.8 1.8h-8.7l-1.8-1.8zM724.6 108.8h8.7l1.8 1.8v8.7l-1.8 1.8h-8.7l-1.8-1.8zM725.5 108.5h9.1l2 2v9.1l-2 2h-9.1l-2-2zM727.6 108.8h8.7l1.8 1.8v8.7l-1.8 1.8h-8.7l-1.8-1.8zM728.6 108.8h8.7l1.8 1.8v8.7l-1.8 1.8h-8.7l-1.8-1.8zM730.6 108.8h8.7l1.8 1.8v8.7l-1.8 1.8h-8.7l-1.8-1.8zM731.5 108.5h9.1l2 2v9.1l-2 2h-9.1l-2-2zM733.6 108.8h8.7l1.8 1.8v8.7l-1.8 1.8h-8.7l-1.8-1.8zM734.6 108.8h8.7l1.8 1.8v8.7l-1.8 1.8h-8.7l-1.8-1.8zM736.6 108.8h8.7l1.8 1.8v8.7l-1.8 1.8h-8.7l-1.8-1.8zM738.5 108.5h9.1l2 2v9.1l-2 2h-9.1l-2-2zM739.6 108.8h8.7l1.8 1.8v8.7l-1.8 1.8h-8.7l-1.8-1.8zM740.6 108.8h8.7l1.8 1.8v8.7l-1.8 1.8h-8.7l-1.8-1.8zM741.6 106.8h8.7l1.8 1.8v8.7l-1.8 1.8h-8.7l-1.8-1.8zM743.5 103.5h9.1l2 2v9.1l-2 2h-9.1l-2-2zM744.6 102.8h8.7l1.8 1.8v8.7l-1.8 1.8h-8.7l-1.8-1.8zM745.6 102.8h8.7l1.8 1.8v8.7l-1.8 1.8h-8.7l-1.8-1.8zM747.6 102.8h8.7l1.8 1.8v8.7l-1.8 1.8h-8.7l-1.8-1.8zM748.5 102.5h9.1l2 2v9.1l-2 2h-9.1l-2-2zM750.6 102.8h8.7l1.8 1.8v8.7l-1.8 1.8h-8.7l-1.8-1.8zM751.6 102.8h8.7l1.8 1.8v8.7l-1.8 1.8h-8.7l-1.8-1.8zM753.6 102.8h8.7l1.8 1.8v8.7l-1.8 1.8h-8.7l-1.8-1.8zM755.5 102.5h9.1l2 2v9.1l-2 2h-9.1l-2-2zM756.6 102.8h8.7l1.8 1.8v8.7l-1.8 1.8h-8.7l-1.8-1.8zM758.6 102.8h8.7l1.8 1.8v8.7l-1.8 1.8h-8.7l-1.8-1.8zM759.6 102.8h8.7l1.8 1.8v8.7l-1.8 1.8h-8.7l-1.8-1.8zM761.5 102.5h9.1l2 2v9.1l-2 2h-9.1l-2-2zM763.6 102.8h8.7l1.8 1.8v8.7l-1.8 1.8h-8.7l-1.8-1.8zM764.6 102.8h8.7l1.8 1.8v8.7l-1.8 1.8h-8.7l-1.8-1.8zM766.6 102.8h8.7l1.8 1.8v8.7l-1.8 1.8h-8.7l-1.8-1.8zM767.5 100.5h9.1l2 2v9.1l-2 2h-9.1l-2-2zM769.6 98.8h8.7l1.8 1.8v8.7l-1.8 1.8h-8.7l-1.8-1.8zM771.6 96.8h8.7l1.8 1.8v8.7l-1.8 1.8h-8.7l-1.8-1.8zM772.6 96.8h8.7l1.8 1.8v8.7l-1.8 1.8h-8.7l-1.8-1.8zM774.5 96.5h9.1l2 2v9.1l-2 2h-9.1l-2-2zM775.6 96.8h8.7l1.8 1.8v8.7l-1.8 1.8h-8.7l-1.8-1.8zM777.6 96.8h8.7l1.8 1.8v8.7l-1.8 1.8h-8.7l-1.8-1.8zM778.6 96.8h8.7l1.8 1.8v8.7l-1.8 1.8h-8.7l-1.8-1.8zM780.5 96.5h9.1l2 2v9.1l-2 2h-9.1l-2-2zM781.6 96.8h8.7l1.8 1.8v8.7l-1.8 1.8h-8.7l-1.8-1.8zM783.6 96.8h8.7l1.8 1.8v8.7l-1.8 1.8h-8.7l-1.8-1.8zM785.6 96.8h8.7l1.8 1.8v8.7l-1.8 1.8h-8.7l-1.8-1.8zM786.5 96.5h9.1l2 2v9.1l-2 2h-9.1l-2-2zM788.6 96.8h8.7l1.8 1.8v8.7l-1.8 1.8h-8.7l-1.8-1.8zM790.6 96.8h8.7l1.8 1.8v8.7l-1.8 1.8h-8.7l-1.8-1.8zM791.6 96.8h8.7l1.8 1.8v8.7l-1.8 1.8h-8.7l-1.8-1.8zM793.5 96.5h9.1l2 2v9.1l-2 2h-9.1l-2-2zM795.6 96.8h8.7l1.8 1.8v8.7l-1.8 1.8h-8.7l-1.8-1.8zM797.6 96.8h8.7l1.8 1.8v8.7l-1.8 1.8h-8.7l-1.8-1.8zM798.6 96.8h8.7l1.8 1.8v8.7l-1.8 1.8h-8.7l-1.8-1.8zM800.5 96.5h9.1l2 2v9.1l-2 2h-9.1l-2-2zM801.6 96.8h8.7l1.8 1.8v8.7l-1.8 1.8h-8.7l-1.8-1.8zM803.6 96.8h8.7l1.8 1.8v8.7l-1.8 1.8h-8.7l-1.8-1.8zM804.6 96.8h8.7l1.8 1.8v8.7l-1.8 1.8h-8.7l-1.8-1.8zM806.5 96.5h9.1l2 2v9.1l-2 2h-9.1l-2-2zM807.6 96.8h8.7l1.8 1.8v8.7l-1.8 1.8h-8.7l-1.8-1.8zM809.6 96.8h8.7l1.8 1.8v8.7l-1.8 1.8h-8.7l-1.8-1.8zM811.6 96.8h8.7l1.8 1.8v8.7l-1.8 1.8h-8.7l-1.8-1.8zM812.5 96.5h9.1l2 2v9.1l-2 2h-9.1l-2-2zM814.6 96.8h8.7l1.8 1.8v8.7l-1.8 1.8h-8.7l-1.8-1.8zM815.6 96.8h8.7l1.8 1.8v8.7l-1.8 1.8h-8.7l-1.8-1.8zM817.6 96.8h8.7l1.8 1.8v8.7l-1.8 1.8h-8.7l-1.8-1.8zM818.5 96.5h9.1l2 2v9.1l-2 2h-9.1l-2-2zM820.6 94.8h8.7l1.8 1.8v8.7l-1.8 1.8h-8.7l-1.8-1.8zM822.6 92.8h8.7l1.8 1.8v8.7l-1.8 1.8h-8.7l-1.8-1.8zM823.6 91.8h8.7l1.8 1.8v8.7l-1.8 1.8h-8.7l-1.8-1.8zM825.5 91.5h9.1l2 2v9.1l-2 2h-9.1l-2-2zM826.6 91.8h8.7l1.8 1.8v8.7l-1.8 1.8h-8.7l-1.8-1.8zM828.6 91.8h8.7l1.8 1.8v8.7l-1.8 1.8h-8.7l-1.8-1.8zM829.6 91.8h8.7l1.8 1.8v8.7l-1.8 1.8h-8.7l-1.8-1.8zM831.5 91.5h9.1l2 2v9.1l-2 2h-9.1l-2-2zM833.6 91.8h8.7l1.8 1.8v8.7l-1.8 1.8h-8.7l-1.8-1.8zM834.6 91.8h8.7l1.8 1.8v8.7l-1.8 1.8h-8.7l-1.8-1.8zM836.6 91.8h8.7l1.8 1.8v8.7l-1.8 1.8h-8.7l-1.8-1.8zM837.5 91.5h9.1l2 2v9.1l-2 2h-9.1l-2-2zM839.6 91.8h8.7l1.8 1.8v8.7l-1.8 1.8h-8.7l-1.8-1.8zM840.6 89.8h8.7l1.8 1.8v8.7l-1.8 1.8h-8.7l-1.8-1.8zM842.6 87.8h8.7l1.8 1.8v8.7l-1.8 1.8h-8.7l-1.8-1.8zM843.5 87.5h9.1l2 2v9.1l-2 2h-9.1l-2-2zM845.6 87.8h8.7l1.8 1.8v8.7l-1.8 1.8h-8.7l-1.8-1.8zM846.6 87.8h8.7l1.8 1.8v8.7l-1.8 1.8h-8.7l-1.8-1.8zM848.6 87.8h8.7l1.8 1.8v8.7l-1.8 1.8h-8.7l-1.8-1.8zM849.5 87.5h9.1l2 2v9.1l-2 2h-9.1l-2-2zM851.6 87.8h8.7l1.8 1.8v8.7l-1.8 1.8h-8.7l-1.8-1.8zM852.6 87.8h8.7l1.8 1.8v8.7l-1.8 1.8h-8.7l-1.8-1.8zM853.6 85.8h8.7l1.8 1.8v8.7l-1.8 1.8h-8.7l-1.8-1.8zM855.5 83.5h9.1l2 2v9.1l-2 2h-9.1l-2-2zM856.6 83.8h8.7l1.8 1.8v8.7l-1.8 1.8h-8.7l-1.8-1.8zM858.6 83.8h8.7l1.8 1.8v8.7l-1.8 1.8h-8.7l-1.8-1.8zM859.6 83.8h8.7l1.8 1.8v8.7l-1.8 1.8h-8.7l-1.8-1.8zM861.5 83.5h9.1l2 2v9.1l-2 2h-9.1l-2-2zM862.6 83.8h8.7l1.8 1.8v8.7l-1.8 1.8h-8.7l-1.8-1.8zM864.6 83.8h8.7l1.8 1.8v8.7l-1.8 1.8h-8.7l-1.8-1.8zM865.6 83.8h8.7l1.8 1.8v8.7l-1.8 1.8h-8.7l-1.8-1.8zM867.5 83.5h9.1l2 2v9.1l-2 2h-9.1l-2-2zM869.6 83.8h8.7l1.8 1.8v8.7l-1.8 1.8h-8.7l-1.8-1.8zM870.6 80.8h8.7l1.8 1.8v8.7l-1.8 1.8h-8.7l-1.8-1.8zM872.6 78.8h8.7l1.8 1.8v8.7l-1.8 1.8h-8.7l-1.8-1.8zM873.5 78.5h9.1l2 2v9.1l-2 2h-9.1l-2-2zM875.6 78.8h8.7l1.8 1.8v8.7l-1.8 1.8h-8.7l-1.8-1.8zM876.6 78.8h8.7l1.8 1.8v8.7l-1.8 1.8h-8.7l-1.8-1.8zM878.6 78.8h8.7l1.8 1.8v8.7l-1.8 1.8h-8.7l-1.8-1.8zM879.5 78.5h9.1l2 2v9.1l-2 2h-9.1l-2-2zM881.6 78.8h8.7l1.8 1.8v8.7l-1.8 1.8h-8.7l-1.8-1.8zM882.6 78.8h8.7l1.8 1.8v8.7l-1.8 1.8h-8.7l-1.8-1.8z"/>
<path fill="#008000" d="M184.2 785.9h8.7l1.8 1.8v8.7l-1.8 1.8h-8.7l-1.8-1.8zM184.2 783.9h8.7l1.8 1.8v8.7l-1.8 1.8h-8.7l-1.8-1.8zM184.2 782.9h8.7l1.8 1.8v8.7l-1.8 1.8h-8.7l-1.8-1.8zM183.9 781.5h9.1l2 2v9.1l-2 2h-9.1l-2-2zM184.2 779.9h8.7l1.8 1.8v8.7l-1.8 1.8h-8.7l-1.8-1.8zM184.2 777.9h8.7l1.8 1.8v8.7l-1.8 1.8h-8.7l-1.8-1.8zM184.2 776.9h8.7l1.8 1.8v8.7l-1.8 1.8h-8.7l-1.8-1.8zM183.9 775.5h9.1l2 2v9.1l-2 2h-9.1l-2-2zM184.2 773.9h8.7l1.8 1.8v8.7l-1.8 1.8h-8.7l-1.8-1.8zM184.2 771.9h8.7l1.8 1.8v8.7l-1.8 1.8h-8.7l-1.8-1.8zM184.2 770.9h8.7l1.8 1.8v8.7l-1.8 1.8h-8.7l-1.8-1.8zM183.9 769.5h9.1l2 2v9.1l-2 2h-9.1l-2-2zM184.2 767.9h8.7l1.8 1.8v8.7l-1.8 1.8h-8.7l-1.8-1.8zM184.2 765.9h8.7l1.8 1.8v8.7l-1.8 1.8h-8.7l-1.8-1.8zM184.2 764.9h8.7l1.8 1.8v8.7l-1.8 1.8h-8.7l-1.8-1.8zM183.9 763.5h9.1l2 2v9.1l-2 2h-9.1l-2-2zM184.2 761.9h8.7l1.8 1.8v8.7l-1.8 1.8h-8.7l-1.8-1.8zM184.2 759.9h8.7l1.8 1.8v8.7l-1.8 1.8h-8.7l-1.8-1.8zM184.2 758.9h8.7l1.8 1.8v8.7l-1.8 1.8h-8.7l-1.8-1.8zM183.9 757.5h9.1l2 2v9.1l-2 2h-9.1l-2-2zM184.2 755.9h8.7l1.8 1.8v8.7l-1.8 1.8h-8.7l-1.8-1.8zM184.2 753.9h8.7l1.8 1.8v8.7l-1.8 1.8h-8.7l-1.8-1.8zM184.2 752.9h8.7l1.8 1.8v8.7l-1.8 1.8h-8.7l-1.8-1.8zM183.9 751.5h9.1l2 2v9.1l-2 2h-9.1l-2-2zM184.2 749.9h8.7l1.8 1.8v8.7l-1.8 1.8h-8.7l-1.8-1.8zM184.2 747.9h8.7l1.8 1.8v8.7l-1.8 1.8h-8.7l-1.8-1.8zM184.2 746.9h8.7l1.8 1.8v8.7l-1.8 1.8h-8.7l-1.8-1.8zM183.9 745.5h9.1l2 2v9.1l-2 2h-9.1l-2-2zM184.2 743.9h8.7l1.8 1.8v8.7l-1.8 1.8h-8.7l-1.8-1.8zM184.2 741.9h8.7l1.8 1.8v8.7l-1.8 1.8h-8.7l-1.8-1.8zM184.2 740.9h8.7l1.8 1.8v8.7l-1.8 1.8h-8.7l-1.8-1.8zM183.9 739.5h9.1l2 2v9.1l-2 2h-9.1l-2-2zM184.2 737.9h8.7l1.8 1.8v8.7l-1.8 1.8h-8.7l-1.8-1.8zM184.2 735.9h8.7l1.8 1.8v8.7l-1.8 1.8h-8.7l-1.8-1.8zM184.2 734.9h8.7l1.8 1.8v8.7l-1.8 1.8h-8.7l-1.8-1.8zM183.9 733.5h9.1l2 2v9.1l-2 2h-9.1l-2-2zM184.2 731.9h8.7l1.8 1.8v8.7l-1.8 1.8h-8.7l-1.8-1.8zM184.2 729.9h8.7l1.8 1.8v8.7l-1.8 1.8h-8.7l-1.8-1.8zM184.2 728.9h8.7l1.8 1.8v8.7l-1.8 1.8h-8.7l-1.8-1.8zM183.9 727.5h9.1l2 2v9.1l-2 2h-9.1l-2-2zM184.2 725.9h8.7l1.8 1.8v8.7l-1.8 1.8h-8.7l-1.8-1.8zM184.2 723.9h8.7l1.8 1.8v8.7l-1.8 1.8h-8.7l-1.8-1.8zM184.2 722.9h8.7l1.8 1.8v8.7l-1.8 1.8h-8.7l-1.8-1.8zM183.9 721.5h9.1l2 2v9.1l-2 2h-9.1l-2-2zM184.2 719.9h8.7l1.8 1.8v8.7l-1.8 1.8h-8.7l-1.8-1.8zM184.2 717.9h8.7l1.8 1.8v8.7l-1.8 1.8h-8.7l-1.8-1.8zM184.2 716.9h8.7l1.8 1.8v8.7l-1.8 1.8h-8.7l-1.8-1.8zM183.9 715.5h9.1l2 2v9.1l-2 2h-9.1l-2-2zM184.2 713.9h8.7l1.8 1.8v8.7l-1.8 1.8h-8.7l-1.8-1.8zM184.2 711.9h8.7l1.8 1.8v8.7l-1.8 1.8h-8.7l-1.8-1.8zM184.2 710.9h8.7l1.8 1.8v8.7l-1.8 1.8h-8.7l-1.8-1.8zM183.9 709.5h9.1l2 2v9.1l-2 2h-9.1l-2-2zM184.2 707.9h8.7l1.8 1.8v8.7l-1.8 1.8h-8.7l-1.8-1.8zM184.2 705.9h8.7l1.8 1.8v8.7l-1.8 1.8h-8.7l-1.8-1.8zM184.2 704.9h8.7l1.8 1.8v8.7l-1.8 1.8h-8.7l-1.8-1.8zM183.9 703.5h9.1l2 2v9.1l-2 2h-9.1l-2-2zM184.2 701.9h8.7l1.8 1.8v8.7l-1.8 1.8h-8.7l-1.8-1.8zM184.2 699.9h8.7l1.8 1.8v8.7l-1.8 1.8h-8.7l-1.8-1.8zM184.2 698.9h8.7l1.8 1.8v8.7l-1.8 1.8h-8.7l-1.8-1.8zM183.9 697.5h9.1l2 2v9.1l-2 2h-9.1l-2-2zM184.2 695.9h8.7l1.8 1.8v8.7l-1.8 1.8h-8.7l-1.8-1.8zM184.2 693.9h8.7l1.8 1.8v8.7l-1.8 1.8h-8.7l-1.8-1.8zM184.2 692.9h8.7l1.8 1.8v8.7l-1.8 1.8h-8.7l-1.8-1.8zM183.9 691.5h9.1l2 2v9.1l-2 2h-9.1l-2-2zM184.2 689.9h8.7l1.8 1.8v8.7l-1.8 1.8h-8.7l-1.8-1.8zM184.2 687.9h8.7l1.8 1.8v8.7l-1.8 1.8h-8.7l-1.8-1.8zM184.2 686.9h8.7l1.8 1.8v8.7l-1.8 1.8h-8.7l-1.8-1.8zM183.9 685.5h9.1l2 2v9.1l-2 2h-9.1l-2-2zM184.2 683.9h8.7l1.8 1.8v8.7l-1.8 1.8h-8.7l-1.8-1.8zM184.2 681.9h8.7l1.8 1.8v8.7l-1.8 1.8h-8.7l-1.8-1.8zM184.2 680.9h8.7l1.8 1.8v8.7l-1.8 1.8h-8.7l-1.8-1.8zM183.9 679.5h9.1l2 2v9.1l-2 2h-9.1l-2-2zM184.2 677.9h8.7l1.8 1.8v8.7l-1.8 1.8h-8.7l-1.8-1.8zM184.2 675.9h8.7l1.8 1.8v8.7l-1.8 1.8h-8.7l-1.8-1.8zM184.7 674.9h8.7l1.8 1.8v8.7l-1.8 1.8h-8.7l-1.8-1.8zM184.4 673.5h9.1l2 2v9.1l-2 2h-9.1l-2-2zM184.7 671.9h8.7l1.8 1.8v8.7l-1.8 1.8h-8.7l-1.8-1.8zM184.7 669.9h8.7l1.8 1.8v8.7l-1.8 1.8h-8.7l-1.8-1.8zM184.7 668.9h8.7l1.8 1.8v8.7l-1.8 1.8h-8.7l-1.8-1.8zM184.4 667.5h9.1l2 2v9.1l-2 2h-9.1l-2-2zM184.7 665.9h8.7l1.8 1.8v8.7l-1.8 1.8h-8.7l-1.8-1.8zM184.7 663.9h8.7l1.8 1.8v8.7l-1.8 1.8h-8.7l-1.8-1.8zM184.7 662.9h8.7l1.8 1.8v8.7l-1.8 1.8h-8.7l-1.8-1.8zM184.4 661.5h9.1l2 2v9.1l-2 2h-9.1l-2-2zM184.7 659.9h8.7l1.8 1.8v8.7l-1.8 1.8h-8.7l-1.8-1.8zM184.7 657.9h8.7l1.8 1.8v8.7l-1.8 1.8h-8.7l-1.8-1.8zM184.7 656.9h8.7l1.8 1.8v8.7l-1.8 1.8h-8.7l-1.8-1.8zM184.4 655.5h9.1l2 2v9.1l-2 2h-9.1l-2-2zM185.7 655.9h8.7l1.8 1.8v8.7l-1.8 1.8h-8.7l-1.8-1.8zM186.7 655.9h8.7l1.8 1.8v8.7l-1.8 1.8h-8.7l-1.8-1.8zM188.7 652.9h8.7l1.8 1.8v8.7l-1.8 1.8h-8.7l-1.8-1.8zM189.4 650.5h9.1l2 2v9.1l-2 2h-9.1l-2-2zM190.7 649.9h8.7l1.8 1.8v8.7l-1.8 1.8h-8.7l-1.8-1.8zM192.2 648.9h8.7l1.8 1.8v8.7l-1.8 1.8h-8.7l-1.8-1.8zM192.2 646.9h8.7l1.8 1.8v8.7l-1.8 1.8h-8.7l-1.8-1.8zM191.9 645.5h9.1l2 2v9.1l-2 2h-9.1l-2-2zM192.2 643.9h8.7l1.8 1.8v8.7l-1.8 1.8h-8.7l-1.8-1.8zM192.2 642.9h8.7l1.8 1.8v8.7l-1.8 1.8h-8.7l-1.8-1.8zM192.2 640.9h8.7l1.8 1.8v8.7l-1.8 1.8h-8.7l-1.8-1.8zM192.4 639.5h9.1l2 2v9.1l-2 2h-9.1l-2-2zM192.7 637.9h8.7l1.8 1.8v8.7l-1.8 1.8h-8.7l-1.8-1.8zM192.7 635.9h8.7l1.8 1.8v8.7l-1.8 1.8h-8.7l-1.8-1.8zM192.7 634.9h8.7l1.8 1.8v8.7l-1.8 1.8h-8.7l-1.8-1.8zM192.4 632.5h9.1l2 2v9.1l-2 2h-9.1l-2-2zM192.7 631.9h8.7l1.8 1.8v8.7l-1.8 1.8h-8.7l-1.8-1.8zM192.7 629.9h8.7l1.8 1.8v8.7l-1.8 1.8h-8.7l-1.8-1.8zM192.7 628.9h8.7l1.8 1.8v8.7l-1.8 1.8h-8.7l-1.8-1.8zM192.4 626.5h9.1l2 2v9.1l-2 2h-9.1l-2-2zM192.7 625.9h8.7l1.8 1.8v8.7l-1.8 1.8h-8.7l-1.8-1.8zM192.7 623.9h8.7l1.8 1.8v8.7l-1.8 1.8h-8.7l-1.8-1.8zM192.7 621.9h8.7l1.8 1.8v8.7l-1.8 1.8h-8.7l-1.8-1.8zM192.4 620.5h9.1l2 2v9.1l-2 2h-9.1l-2-2zM192.7 618.9h8.7l1.8 1.8v8.7l-1.8 1.8h-8.7l-1.8-1.8zM192.7 617.9h8.7l1.8 1.8v8.7l-1.8 1.8h-8.7l-1.8-1.8zM192.7 615.9h8.7l1.8 1.8v8.7l-1.8 1.8h-8.7l-1.8-1.8zM192.4 614.5h9.1l2 2v9.1l-2 2h-9.1l-2-2zM192.7 612.9h8.7l1.8 1.8v8.7l-1.8 1.8h-8.7l-1.8-1.8zM192.7 611.9h8.7l1.8 1.8v8.7l-1.8 1.8h-8.7l-1.8-1.8zM192.7 609.9h8.7l1.8 1.8v8.7l-1.8 1.8h-8.7l-1.8-1.8zM192.4 607.5h9.1l2 2v9.1l-2 2h-9.1l-2-2zM192.7 606.9h8.7l1.8 1.8v8.7l-1.8 1.8h-8.7l-1.8-1.8zM192.7 604.9h8.7l1.8 1.8v8.7l-1.8 1.8h-8.7l-1.8-1.8zM192.7 603.9h8.7l1.8 1.8v8.7l-1.8 1.8h-8.7l-1.8-1.8zM192.4 601.5h9.1l2 2v9.1l-2 2h-9.1l-2-2zM192.7 600.9h8.7l1.8 1.8v8.7l-1.8 1.8h-8.7l-1.8-1.8zM192.7 598.9h8.7l1.8 1.8v8.7l-1.8 1.8h-8.7l-1.8-1.8zM192.7 597.9h8.7l1.8 1.8v8.7l-1.8 1.8h-8.7l-1.8-1.8zM192.4 595.5h9.1l2 2v9.1l-2 2h-9.1l-2-2zM193.7 594.9h8.7l1.8 1.8v8.7l-1.8 1.8h-8.7l-1.8-1.8zM194.7 592.9h8.7l1.8 1.8v8.7l-1.8 1.8h-8.7l-1.8-1.8zM195.2 591.9h8.7l1.8 1.8v8.7l-1.8 1.8h-8.7l-1.8-1.8zM194.9 589.5h9.1l2 2v9.1l-2 2h-9.1l-2-2zM195.2 588.9h8.7l1.8 1.8v8.7l-1.8 1.8h-8.7l-1.8-1.8zM195.2 586.9h8.7l1.8 1.8v8.7l-1.8 1.8h-8.7l-1.8-1.8zM195.2 585.9h8.7l1.8 1.8v8.7l-1.8 1.8h-8.7l-1.8-1.8zM194.9 583.5h9.1l2 2v9.1l-2 2h-9.1l-2-2zM195.2 582.9h8.7l1.8 1.8v8.7l-1.8 1.8h-8.7l-1.8-1.8zM195.2 580.9h8.7l1.8 1.8v8.7l-1.8 1.8h-8.7l-1.8-1.8zM195.2 579.9h8.7l1.8 1.8v8.7l-1.8 1.8h-8.7l-1.8-1.8zM194.9 577.5h9.1l2 2v9.1l-2 2h-9.1l-2-2zM195.2 576.9h8.7l1.8 1.8v8.7l-1.8 1.8h-8.7l-1.8-1.8zM195.2 574.9h8.7l1.8 1.8v8.7l-1.8 1.8h-8.7l-1.8-1.8zM195.2 573.9h8.7l1.8 1.8v8.7l-1.8 1.8h-8.7l-1.8-1.8zM194.9 571.5h9.1l2 2v9.1l-2 2h-9.1l-2-2zM195.2 570.9h8.7l1.8 1.8v8.7l-1.8 1.8h-8.7l-1.8-1.8zM195.2 568.9h8.7l1.8 1.8v8.7l-1.8 1.8h-8.7l-1.8-1.8zM195.2 567.9h8.7l1.8 1.8v8.7l-1.8 1.8h-8.7l-1.8-1.8zM194.9 565.5h9.1l2 2v9.1l-2 2h-9.1l-2-2zM195.2 564.9h8.7l1.8 1.8v8.7l-1.8 1.8h-8.7l-1.8-1.8zM195.2 562.9h8.7l1.8 1.8v8.7l-1.8 1.8h-8.7l-1.8-1.8zM195.2 561.9h8.7l1.8 1.8v8.7l-1.8 1.8h-8.7l-1.8-1.8zM194.9 559.5h9.1l2 2v9.1l-2 2h-9.1l-2-2zM195.2 558.9h8.7l1.8 1.8v8.7l-1.8 1.8h-8.7l-1.8-1.8zM195.7 558.9h8.7l1.8 1.8v8.7l-1.8 1.8h-8.7l-1.8-1.8zM196.7 555.9h8.7l1.8 1.8v8.7l-1.8 1.8h-8.7l-1.8-1.8zM197.4 553.5h9.1l2 2v9.1l-2 2h-9.1l-2-2zM198.2 552.9h8.7l1.8 1.8v8.7l-1.8 1.8h-8.7l-1.8-1.8zM198.2 550.9h8.7l1.8 1.8v8.7l-1.8 1.8h-8.7l-1.8-1.8zM198.2 549.9h8.7l1.8 1.8v8.7l-1.8 1.8h-8.7l-1.8-1.8zM197.9 547.5h9.1l2 2v9.1l-2 2h-9.1l-2-2zM198.2 546.9h8.7l1.8 1.8v8.7l-1.8 1.8h-8.7l-1.8-1.8zM198.2 544.9h8.7l1.8 1.8v8.7l-1.8 1.8h-8.7l-1.8-1.8zM198.2 542.9h8.7l1.8 1.8v8.7l-1.8 1.8h-8.7l-1.8-1.8zM197.9 541.5h9.1l2 2v9.1l-2 2h-9.1l-2-2zM198.2 539.9h8.7l1.8 1.8v8.7l-1.8 1.8h-8.7l-1.8-1.8zM198.2 538.9h8.7l1.8 1.8v8.7l-1.8 1.8h-8.7l-1.8-1.8zM198.7 538.9h8.7l1.8 1.8v8.7l-1.8 1.8h-8.7l-1.8-1.8zM199.4 535.5h9.1l2 2v9.1l-2 2h-9.1l-2-2zM200.2 533.9h8.7l1.8 1.8v8.7l-1.8 1.8h-8.7l-1.8-1.8zM200.7 531.9h8.7l1.8 1.8v8.7l-1.8 1.8h-8.7l-1.8-1.8zM201.2 530.9h8.7l1.8 1.8v8.7l-1.8 1.8h-8.7l-1.8-1.8zM201.4 528.5h9.1l2 2v9.1l-2 2h-9.1l-2-2zM201.7 526.9h8.7l1.8 1.8v8.7l-1.8 1.8h-8.7l-1.8-1.8zM202.2 525.9h8.7l1.8 1.8v8.7l-1.8 1.8h-8.7l-1.8-1.8zM202.7 523.9h8.7l1.8 1.8v8.7l-1.8 1.8h-8.7l-1.8-1.8zM202.4 521.5h9.1l2 2v9.1l-2 2h-9.1l-2-2zM202.7 520.9h8.7l1.8 1.8v8.7l-1.8 1.8h-8.7l-1.8-1.8zM202.7 518.9h8.7l1.8 1.8v8.7l-1.8 1.8h-8.7l-1.8-1.8zM202.7 516.9h8.7l1.8 1.8v8.7l-1.8 1.8h-8.7l-1.8-1.8zM202.4 515.5h9.1l2 2v9.1l-2 2h-9.1l-2-2zM202.7 513.9h8.7l1.8 1.8v8.7l-1.8 1.8h-8.7l-1.8-1.8zM202.7 511.9h8.7l1.8 1.8v8.7l-1.8 1.8h-8.7l-1.8-1.8zM205.7 510.9h8.7l1.8 1.8v8.7l-1.8 1.8h-8.7l-1.8-1.8zM205.4 508.4h9.1l2 2v9.1l-2 2h-9.1l-2-2zM205.7 506.9h8.7l1.8 1.8v8.7l-1.8 1.8h-8.7l-1.8-1.8zM205.7 505.9h8.7l1.8 1.8v8.7l-1.8 1.8h-8.7l-1.8-1.8zM205.7 503.9h8.7l1.8 1.8v8.7l-1.8 1.8h-8.7l-1.8-1.8zM205.4 501.4h9.1l2 2v9.1l-2 2h-9.1l-2-2zM205.7 500.9h8.7l1.8 1.8v8.7l-1.8 1.8h-8.7l-1.8-1.8zM205.7 498.9h8.7l1.8 1.8v8.7l-1.8 1.8h-8.7l-1.8-1.8zM208.7 496.9h8.7l1.8 1.8v8.7l-1.8 1.8h-8.7l-1.8-1.8zM208.4 495.4h9.1l2 2v9.1l-2 2h-9.1l-2-2zM208.7 493.9h8.7l1.8 1.8v8.7l-1.8 1.8h-8.7l-1.8-1.8zM208.7 491.9h8.7l1.8 1.8v8.7l-1.8 1.8h-8.7l-1.8-1.8zM208.7 490.9h8.7l1.8 1.8v8.7l-1.8 1.8h-8.7l-1.8-1.8zM211.4 488.4h9.1l2 2v9.1l-2 2h-9.1l-2-2zM211.7 486.9h8.7l1.8 1.8v8.7l-1.8 1.8h-8.7l-1.8-1.8zM211.7 485.9h8.7l1.8 1.8v8.7l-1.8 1.8h-8.7l-1.8-1.8zM211.7 483.9h8.7l1.8 1.8v8.7l-1.8 1.8h-8.7l-1.8-1.8zM211.4 482.4h9.1l2 2v9.1l-2 2h-9.1l-2-2zM211.7 480.9h8.7l1.8 1.8v8.7l-1.8 1.8h-8.7l-1.8-1.8zM211.7 479.9h8.7l1.8 1.8v8.7l-1.8 1.8h-8.7l-1.8-1.8zM214.7 477.9h8.7l1.8 1.8v8.7l-1.8 1.8h-8.7l-1.8-1.8zM214.4 476.4h9.1l2 2v9.1l-2 2h-9.1l-2-2zM214.7 474.9h8.7l1.8 1.8v8.7l-1.8 1.8h-8.7l-1.8-1.8zM214.7 473.9h8.7l1.8 1.8v8.7l-1.8 1.8h-8.7l-1.8-1.8zM214.7 471.9h8.7l1.8 1.8v8.7l-1.8 1.8h-8.7l-1.8-1.8zM214.4 470.4h9.1l2 2v9.1l-2 2h-9.1l-2-2zM217.7 468.9h8.7l1.8 1.8v8.7l-1.8 1.8h-8.7l-1.8-1.8zM217.7 466.9h8.7l1.8 1.8v8.7l-1.8 1.8h-8.7l-1.8-1.8zM217.7 465.9h8.7l1.8 1.8v8.7l-1.8 1.8h-8.7l-1.8-1.8zM217.4 463.4h9.1l2 2v9.1l-2 2h-9.1l-2-2zM217.7 461.9h8.7l1.8 1.8v8.7l-1.8 1.8h-8.7l-1.8-1.8zM217.7 460.9h8.7l1.8 1.8v8.7l-1.8 1.8h-8.7l-1.8-1.8zM217.7 458.9h8.7l1.8 1.8v8.7l-1.8 1.8h-8.7l-1.8-1.8zM217.4 456.4h9.1l2 2v9.1l-2 2h-9.1l-2-2zM220.7 455.9h8.7l1.8 1.8v8.7l-1.8 1.8h-8.7l-1.8-1.8zM220.7 453.9h8.7l1.8 1.8v8.7l-1.8 1.8h-8.7l-1.8-1.8zM220.7 451.9h8.7l1.8 1.8v8.7l-1.8 1.8h-8.7l-1.8-1.8zM220.4 450.4h9.1l2 2v9.1l-2 2h-9.1l-2-2zM220.7 448.9h8.7l1.8 1.8v8.7l-1.8 1.8h-8.7l-1.8-1.8zM220.7 446.9h8.7l1.8 1.8v8.7l-1.8 1.8h-8.7l-1.8-1.8zM223.7 445.9h8.7l1.8 1.8v8.7l-1.8 1.8h-8.7l-1.8-1.8zM223.4 443.4h9.1l2 2v9.1l-2 2h-9.1l-2-2zM223.7 442.9h8.7l1.8 1.8v8.7l-1.8 1.8h-8.7l-1.8-1.8zM223.7 440.9h8.7l1.8 1.8v8.7l-1.8 1.8h-8.7l-1.8-1.8zM223.7 439.9h8.7l1.8 1.8v8.7l-1.8 1.8h-8.7l-1.8-1.8zM223.4 437.4h9.1l2 2v9.1l-2 2h-9.1l-2-2zM226.7 436.9h8.7l1.8 1.8v8.7l-1.8 1.8h-8.7l-1.8-1.8zM226.7 434.9h8.7l1.8 1.8v8.7l-1.8 1.8h-8.7l-1.8-1.8zM226.7 433.9h8.7l1.8 1.8v8.7l-1.8 1.8h-8.7l-1.8-1.8zM226.4 432.4h9.1l2 2v9.1l-2 2h-9.1l-2-2zM226.7 430.9h8.7l1.8 1.8v8.7l-1.8 1.8h-8.7l-1.8-1.8zM229.7 429.9h8.7l1.8 1.8v8.7l-1.8 1.8h-8.7l-1.8-1.8zM229.7 427.9h8.7l1.8 1.8v8.7l-1.8 1.8h-8.7l-1.8-1.8zM229.4 426.4h9.1l2 2v9.1l-2 2h-9.1l-2-2zM229.7 424.9h8.7l1.8 1.8v8.7l-1.8 1.8h-8.7l-1.8-1.8zM229.7 423.9h8.7l1.8 1.8v8.7l-1.8 1.8h-8.7l-1.8-1.8zM232.7 422.9h8.7l1.8 1.8v8.7l-1.8 1.8h-8.7l-1.8-1.8zM232.4 420.4h9.1l2 2v9.1l-2 2h-9.1l-2-2zM232.7 419.9h8.7l1.8 1.8v8.7l-1.8 1.8h-8.7l-1.8-1.8zM232.7 417.9h8.7l1.8 1.8v8.7l-1.8 1.8h-8.7l-1.8-1.8zM232.7 416.9h8.7l1.8 1.8v8.7l-1.8 1.8h-8.7l-1.8-1.8zM235.4 414.4h9.1l2 2v9.1l-2 2h-9.1l-2-2zM235.7 413.9h8.7l1.8 1.8v8.7l-1.8 1.8h-8.7l-1.8-1.8zM235.7 412.9h8.7l1.8 1.8v8.7l-1.8 1.8h-8.7l-1.8-1.8zM235.7 410.9h8.7l1.8 1.8v8.7l-1.8 1.8h-8.7l-1.8-1.8zM238.4 409.4h9.1l2 2v9.1l-2 2h-9.1l-2-2zM238.7 407.9h8.7l1.8 1.8v8.7l-1.8 1.8h-8.7l-1.8-1.8zM238.7 406.9h8.7l1.8 1.8v8.7l-1.8 1.8h-8.7l-1.8-1.8zM238.7 404.9h8.7l1.8 1.8v8.7l-1.8 1.8h-8.7l-1.8-1.8zM241.4 403.4h9.1l2 2v9.1l-2 2h-9.1l-2-2zM241.7 402.9h8.7l1.8 1.8v8.7l-1.8 1.8h-8.7l-1.8-1.8zM241.7 400.9h8.7l1.8 1.8v8.7l-1.8 1.8h-8.7l-1.8-1.8zM241.7 399.9h8.7l1.8 1.8v8.7l-1.8 1.8h-8.7l-1.8-1.8zM241.4 397.4h9.1l2 2v9.1l-2 2h-9.1l-2-2zM244.7 396.9h8.7l1.8 1.8v8.7l-1.8 1.8h-8.7l-1.8-1.8zM244.7 395.9h8.7l1.8 1.8v8.7l-1.8 1.8h-8.7l-1.8-1.8zM244.7 393.9h8.7l1.8 1.8v8.7l-1.8 1.8h-8.7l-1.8-1.8zM244.4 392.4h9.1l2 2v9.1l-2 2h-9.1l-2-2zM245.7 392.9h8.7l1.8 1.8v8.7l-1.8 1.8h-8.7l-1.8-1.8zM246.7 390.9h8.7l1.8 1.8v8.7l-1.8 1.8h-8.7l-1.8-1.8zM247.7 388.9h8.7l1.8 1.8v8.7l-1.8 1.8h-8.7l-1.8-1.8zM248.4 388.4h9.1l2 2v9.1l-2 2h-9.1l-2-2zM249.7 388.9h8.7l1.8 1.8v8.7l-1.8 1.8h-8.7l-1.8-1.8zM250.7 385.9h8.7l1.8 1.8v8.7l-1.8 1.8h-8.7l-1.8-1.8zM251.7 383.9h8.7l1.8 1.8v8.7l-1.8 1.8h-8.7l-1.8-1.8zM252.4 382.4h9.1l2 2v9.1l-2 2h-9.1l-2-2zM253.7 382.9h8.7l1.8 1.8v8.7l-1.8 1.8h-8.7l-1.8-1.8zM254.7 380.9h8.7l1.8 1.8v8.7l-1.8 1.8h-8.7l-1.8-1.8zM255.7 378.9h8.7l1.8 1.8v8.7l-1.8 1.8h-8.7l-1.8-1.8zM256.4 377.4h9.1l2 2v9.1l-2 2h-9.1l-2-2zM257.6 377.9h8.7l1.8 1.8v8.7l-1.8 1.8h-8.7l-1.8-1.8zM258.7 375.9h8.7l1.8 1.8v8.7l-1.8 1.8h-8.7l-1.8-1.8zM259.7 373.9h8.7l1.8 1.8v8.7l-1.8 1.8h-8.7l-1.8-1.8zM261.4 372.4h9.1l2 2v9.1l-2 2h-9.1l-2-2zM262.7 372.9h8.7l1.8 1.8v8.7l-1.8 1.8h-8.7l-1.8-1.8zM263.7 370.9h8.7l1.8 1.8v8.7l-1.8 1.8h-8.7l-1.8-1.8zM264.7 368.9h8.7l1.8 1.8v8.7l-1.8 1.8h-8.7l-1.8-1.8zM265.4 368.4h9.1l2 2v9.1l-2 2h-9.1l-2-2zM266.7 366.9h8.7l1.8 1.8v8.7l-1.8 1.8h-8.7l-1.8-1.8zM267.7 364.9h8.7l1.8 1.8v8.7l-1.8 1.8h-8.7l-1.8-1.8zM269.7 364.9h8.7l1.8 1.8v8.7l-1.8 1.8h-8.7l-1.8-1.8zM270.4 364.4h9.1l2 2v9.1l-2 2h-9.1l-2-2zM271.7 364.9h8.7l1.8 1.8v8.7l-1.8 1.8h-8.7l-1.8-1.8zM273.7 362.9h8.7l1.8 1.8v8.7l-1.8 1.8h-8.7l-1.8-1.8zM274.7 359.9h8.7l1.8 1.8v8.7l-1.8 1.8h-8.7l-1.8-1.8zM275.4 359.4h9.1l2 2v9.1l-2 2h-9.1l-2-2zM276.7 359.9h8.7l1.8 1.8v8.7l-1.8 1.8h-8.7l-1.8-1.8zM277.7 357.9h8.7l1.8 1.8v8.7l-1.8 1.8h-8.7l-1.8-1.8zM278.7 355.9h8.7l1.8 1.8v8.7l-1.8 1.8h-8.7l-1.8-1.8zM279.4 354.4h9.1l2 2v9.1l-2 2h-9.1l-2-2zM281.7 354.9h8.7l1.8 1.8v8.7l-1.8 1.8h-8.7l-1.8-1.8zM282.7 354.9h8.7l1.8 1.8v8.7l-1.8 1.8h-8.7l-1.8-1.8zM283.7 352.9h8.7l1.8 1.8v8.7l-1.8 1.8h-8.7l-1.8-1.8zM284.4 350.4h9.1l2 2v9.1l-2 2h-9.1l-2-2zM285.7 348.9h8.7l1.8 1.8v8.7l-1.8 1.8h-8.7l-1.8-1.8zM286.7 348.9h8.7l1.8 1.8v8.7l-1.8 1.8h-8.7l-1.8-1.8zM287.7 348.9h8.7l1.8 1.8v8.7l-1.8 1.8h-8.7l-1.8-1.8zM288.4 348.4h9.1l2 2v9.1l-2 2h-9.1l-2-2zM289.7 346.9h8.7l1.8 1.8v8.7l-1.8 1.8h-8.7l-1.8-1.8zM291.7 344.9h8.7l1.8 1.8v8.7l-1.8 1.8h-8.7l-1.8-1.8zM292.7 342.9h8.7l1.8 1.8v8.7l-1.8 1.8h-8.7l-1.8-1.8zM293.4 342.4h9.1l2 2v9.1l-2 2h-9.1l-2-2zM294.7 342.9h8.7l1.8 1.8v8.7l-1.8 1.8h-8.7l-1.8-1.8zM295.7 340.9h8.7l1.8 1.8v8.7l-1.8 1.8h-8.7l-1.8-1.8zM296.7 338.9h8.7l1.8 1.8v8.7l-1.8 1.8h-8.7l-1.8-1.8zM297.4 338.4h9.1l2 2v9.1l-2 2h-9.1l-2-2zM298.7 338.9h8.7l1.8 1.8v8.7l-1.8 1.8h-8.7l-1.8-1.8zM299.7 338.9h8.7l1.8 1.8v8.7l-1.8 1.8h-8.7l-1.8-1.8zM301.7 335.9h8.7l1.8 1.8v8.7l-1.8 1.8h-8.7l-1.8-1.8zM302.4 333.4h9.1l2 2v9.1l-2 2h-9.1l-2-2zM303.7 332.9h8.7l1.8 1.8v8.7l-1.8 1.8h-8.7l-1.8-1.8zM304.7 332.9h8.7l1.8 1.8v8.7l-1.8 1.8h-8.7l-1.8-1.8zM305.7 332.9h8.7l1.8 1.8v8.7l-1.8 1.8h-8.7l-1.8-1.8zM306.4 330.4h9.1l2 2v9.1l-2 2h-9.1l-2-2zM308.7 328.9h8.7l1.8 1.8v8.7l-1.8 1.8h-8.7l-1.8-1.8zM309.7 327.9h8.7l1.8 1.8v8.7l-1.8 1.8h-8.7l-1.8-1.8zM311.7 327.9h8.7l1.8 1.8v8.7l-1.8 1.8h-8.7l-1.8-1.8zM312.4 327.4h9.1l2 2v9.1l-2 2h-9.1l-2-2zM314.7 327.9h8.7l1.8 1.8v8.7l-1.8 1.8h-8.7l-1.8-1.8zM315.7 325.9h8.7l1.8 1.8v8.7l-1.8 1.8h-8.7l-1.8-1.8zM316.7 323.9h8.7l1.8 1.8v8.7l-1.8 1.8h-8.7l-1.8-1.8zM317.4 322.4h9.1l2 2v9.1l-2 2h-9.1l-2-2zM318.7 320.9h8.7l1.8 1.8v8.7l-1.8 1.8h-8.7l-1.8-1.8zM319.7 318.9h8.7l1.8 1.8v8.7l-1.8 1.8h-8.7l-1.8-1.8zM321.7 318.9h8.7l1.8 1.8v8.7l-1.8 1.8h-8.7l-1.8-1.8zM322.4 318.4h9.1l2 2v9.1l-2 2h-9.1l-2-2zM323.7 318.9h8.7l1.8 1.8v8.7l-1.8 1.8h-8.7l-1.8-1.8zM324.7 315.9h8.7l1.8 1.8v8.7l-1.8 1.8h-8.7l-1.8-1.8zM325.7 313.9h8.7l1.8 1.8v8.7l-1.8 1.8h-8.7l-1.8-1.8zM326.4 312.4h9.1l2 2v9.1l-2 2h-9.1l-2-2zM327.7 312.9h8.7l1.8 1.8v8.7l-1.8 1.8h-8.7l-1.8-1.8zM328.7 312.9h8.7l1.8 1.8v8.7l-1.8 1.8h-8.7l-1.8-1.8zM329.7 310.9h8.7l1.8 1.8v8.7l-1.8 1.8h-8.7l-1.8-1.8zM331.4 307.4h9.1l2 2v9.1l-2 2h-9.1l-2-2zM332.7 306.9h8.7l1.8 1.8v8.7l-1.8 1.8h-8.7l-1.8-1.8zM333.7 306.9h8.7l1.8 1.8v8.7l-1.8 1.8h-8.7l-1.8-1.8zM334.7 306.9h8.7l1.8 1.8v8.7l-1.8 1.8h-8.7l-1.8-1.8zM335.4 304.4h9.1l2 2v9.1l-2 2h-9.1l-2-2zM336.7 302.9h8.7l1.8 1.8v8.7l-1.8 1.8h-8.7l-1.8-1.8zM338.7 301.9h8.7l1.8 1.8v8.7l-1.8 1.8h-8.7l-1.8-1.8zM339.7 301.9h8.7l1.8 1.8v8.7l-1.8 1.8h-8.7l-1.8-1.8zM341.4 301.4h9.1l2 2v9.1l-2 2h-9.1l-2-2zM342.7 301.9h8.7l1.8 1.8v8.7l-1.8 1.8h-8.7l-1.8-1.8zM344.7 301.9h8.7l1.8 1.8v8.7l-1.8 1.8h-8.7l-1.8-1.8zM345.7 298.9h8.7l1.8 1.8v8.7l-1.8 1.8h-8.7l-1.8-1.8zM346.4 296.4h9.1l2 2v9.1l-2 2h-9.1l-2-2zM348.7 295.9h8.7l1.8 1.8v8.7l-1.8 1.8h-8.7l-1.8-1.8zM349.7 295.9h8.7l1.8 1.8v8.7l-1.8 1.8h-8.7l-1.8-1.8zM351.7 295.9h8.7l1.8 1.8v8.7l-1.8 1.8h-8.7l-1.8-1.8zM352.4 293.4h9.1l2 2v9.1l-2 2h-9.1l-2-2zM354.7 291.9h8.7l1.8 1.8v8.7l-1.8 1.8h-8.7l-1.8-1.8zM355.7 291.9h8.7l1.8 1.8v8.7l-1.8 1.8h-8.7l-1.8-1.8zM356.7 291.9h8.7l1.8 1.8v8.7l-1.8 1.8h-8.7l-1.8-1.8zM358.4 291.4h9.1l2 2v9.1l-2 2h-9.1l-2-2zM359.7 291.9h8.7l1.8 1.8v8.7l-1.8 1.8h-8.7l-1.8-1.8zM361.7 288.9h8.7l1.8 1.8v8.7l-1.8 1.8h-8.7l-1.8-1.8zM362.7 286.9h8.7l1.8 1.8v8.7l-1.8 1.8h-8.7l-1.8-1.8zM364.4 286.4h9.1l2 2v9.1l-2 2h-9.1l-2-2zM365.7 286.9h8.7l1.8 1.8v8.7l-1.8 1.8h-8.7l-1.8-1.8zM366.7 286.9h8.7l1.8 1.8v8.7l-1.8 1.8h-8.7l-1.8-1.8zM368.7 284.9h8.7l1.8 1.8v8.7l-1.8 1.8h-8.7l-1.8-1.8zM369.4 282.4h9.1l2 2v9.1l-2 2h-9.1l-2-2zM371.7 282.9h8.7l1.8 1.8v8.7l-1.8 1.8h-8.7l-1.8-1.8zM372.7 282.9h8.7l1.8 1.8v8.7l-1.8 1.8h-8.7l-1.8-1.8zM374.7 282.9h8.7l1.8 1.8v8.7l-1.8 1.8h-8.7l-1.8-1.8zM375.4 282.4h9.1l2 2v9.1l-2 2h-9.1l-2-2zM377.7 282.9h8.7l1.8 1.8v8.7l-1.8 1.8h-8.7l-1.8-1.8zM378.7 280.9h8.7l1.8 1.8v8.7l-1.8 1.8h-8.7l-1.8-1.8zM380.7 277.9h8.7l1.8 1.8v8.7l-1.8 1.8h-8.7l-1.8-1.8zM381.4 277.4h9.1l2 2v9.1l-2 2h-9.1l-2-2zM382.7 277.9h8.7l1.8 1.8v8.7l-1.8 1.8h-8.7l-1.8-1.8zM384.7 277.9h8.7l1.8 1.8v8.7l-1.8 1.8h-8.7l-1.8-1.8zM385.7 277.9h8.7l1.8 1.8v8.7l-1.8 1.8h-8.7l-1.8-1.8zM387.4 275.4h9.1l2 2v9.1l-2 2h-9.1l-2-2zM388.7 273.9h8.7l1.8 1.8v8.7l-1.8 1.8h-8.7l-1.8-1.8zM389.7 273.9h8.7l1.8 1.8v8.7l-1.8 1.8h-8.7l-1.8-1.8zM391.7 273.9h8.7l1.8 1.8v8.7l-1.8 1.8h-8.7l-1.8-1.8zM392.4 273.4h9.1l2 2v9.1l-2 2h-9.1l-2-2zM394.7 273.9h8.7l1.8 1.8v8.7l-1.8 1.8h-8.7l-1.8-1.8zM395.7 271.9h8.7l1.8 1.8v8.7l-1.8 1.8h-8.7l-1.8-1.8zM396.7 269.9h8.7l1.8 1.8v8.7l-1.8 1.8h-8.7l-1.8-1.8zM398.4 269.4h9.1l2 2v9.1l-2 2h-9.1l-2-2zM399.7 269.9h8.7l1.8 1.8v8.7l-1.8 1.8h-8.7l-1.8-1.8zM401.7 269.9h8.7l1.8 1.8v8.7l-1.8 1.8h-8.7l-1.8-1.8zM402.7 269.9h8.7l1.8 1.8v8.7l-1.8 1.8h-8.7l-1.8-1.8zM403.4 269.4h9.1l2 2v9.1l-2 2h-9.1l-2-2zM405.7 267.9h8.7l1.8 1.8v8.7l-1.8 1.8h-8.7l-1.8-1.8zM406.7 265.9h8.7l1.8 1.8v8.7l-1.8 1.8h-8.7l-1.8-1.8zM408.7 265.9h8.7l1.8 1.8v8.7l-1.8 1.8h-8.7l-1.8-1.8zM409.4 265.4h9.1l2 2v9.1l-2 2h-9.1l-2-2zM411.7 265.9h8.7l1.8 1.8v8.7l-1.8 1.8h-8.7l-1.8-1.8zM412.7 265.9h8.7l1.8 1.8v8.7l-1.8 1.8h-8.7l-1.8-1.8zM413.7 265.9h8.7l1.8 1.8v8.7l-1.8 1.8h-8.7l-1.8-1.8zM415.4 265.4h9.1l2 2v9.1l-2 2h-9.1l-2-2zM416.7 263.9h8.7l1.8 1.8v8.7l-1.8 1.8h-8.7l-1.8-1.8zM418.7 261.9h8.7l1.8 1.8v8.7l-1.8 1.8h-8.7l-1.8-1.8zM419.7 261.9h8.7l1.8 1.8v8.7l-1.8 1.8h-8.7l-1.8-1.8zM421.4 261.4h9.1l2 2v9.1l-2 2h-9.1l-2-2zM422.7 261.9h8.7l1.8 1.8v8.7l-1.8 1.8h-8.7l-1.8-1.8zM424.7 261.9h8.7l1.8 1.8v8.7l-1.8 1.8h-8.7l-1.8-1.8zM425.7 261.9h8.7l1.8 1.8v8.7l-1.8 1.8h-8.7l-1.8-1.8zM427.4 261.4h9.1l2 2v9.1l-2 2h-9.1l-2-2zM428.7 261.9h8.7l1.8 1.8v8.7l-1.8 1.8h-8.7l-1.8-1.8zM430.7 259.9h8.7l1.8 1.8v8.7l-1.8 1.8h-8.7l-1.8-1.8zM431.7 257.9h8.7l1.8 1.8v8.7l-1.8 1.8h-8.7l-1.8-1.8zM433.4 257.4h9.1l2 2v9.1l-2 2h-9.1l-2-2zM434.7 257.9h8.7l1.8 1.8v8.7l-1.8 1.8h-8.7l-1.8-1.8zM436.7 257.9h8.7l1.8 1.8v8.7l-1.8 1.8h-8.7l-1.8-1.8zM437.7 257.9h8.7l1.8 1.8v8.7l-1.8 1.8h-8.7l-1.8-1.8zM439.4 257.4h9.1l2 2v9.1l-2 2h-9.1l-2-2zM440.7 255.8h8.7l1.8 1.8v8.7l-1.8 1.8h-8.7l-1.8-1.8zM442.7 253.8h8.7l1.8 1.8v8.7l-1.8 1.8h-8.7l-1.8-1.8zM443.7 253.8h8.7l1.8 1.8v8.7l-1.8 1.8h-8.7l-1.8-1.8zM444.4 253.4h9.1l2 2v9.1l-2 2h-9.1l-2-2zM446.7 251.8h8.7l1.8 1.8v8.7l-1.8 1.8h-8.7l-1.8-1.8zM447.7 249.8h8.7l1.8 1.8v8.7l-1.8 1.8h-8.7l-1.8-1.8zM449.7 249.8h8.7l1.8 1.8v8.7l-1.8 1.8h-8.7l-1.8-1.8zM450.4 249.4h9.1l2 2v9.1l-2 2h-9.1l-2-2zM452.7 249.8h8.7l1.8 1.8v8.7l-1.8 1.8h-8.7l-1.8-1.8zM453.7 249.8h8.7l1.8 1.8v8.7l-1.8 1.8h-8.7l-1.8-1.8zM455.7 247.8h8.7l1.8 1.8v8.7l-1.8 1.8h-8.7l-1.8-1.8zM456.4 245.4h9.1l2 2v9.1l-2 2h-9.1l-2-2zM458.7 245.8h8.7l1.8 1.8v8.7l-1.8 1.8h-8.7l-1.8-1.8zM459.7 245.8h8.7l1.8 1.8v8.7l-1.8 1.8h-8.7l-1.8-1.8zM461.7 245.8h8.7l1.8 1.8v8.7l-1.8 1.8h-8.7l-1.8-1.8zM463.4 245.4h9.1l2 2v9.1l-2 2h-9.1l-2-2zM464.7 245.8h8.7l1.8 1.8v8.7l-1.8 1.8h-8.7l-1.8-1.8zM465.7 243.8h8.7l1.8 1.8v8.7l-1.8 1.8h-8.7l-1.8-1.8zM467.7 241.8h8.7l1.8 1.8v8.7l-1.8 1.8h-8.7l-1.8-1.8zM468.4 241.4h9.1l2 2v9.1l-2 2h-9.1l-2-2zM470.7 241.8h8.7l1.8 1.8v8.7l-1.8 1.8h-8.7l-1.8-1.8zM471.7 241.8h8.7l1.8 1.8v8.7l-1.8 1.8h-8.7l-1.8-1.8zM472.7 241.8h8.7l1.8 1.8v8.7l-1.8 1.8h-8.7l-1.8-1.8zM474.4 239.4h9.1l2 2v9.1l-2 2h-9.1l-2-2zM475.7 238.8h8.7l1.8 1.8v8.7l-1.8 1.8h-8.7l-1.8-1.8zM476.7 238.8h8.7l1.8 1.8v8.7l-1.8 1.8h-8.7l-1.8-1.8zM478.7 238.8h8.7l1.8 1.8v8.7l-1.8 1.8h-8.7l-1.8-1.8zM479.4 238.4h9.1l2 2v9.1l-2 2h-9.1l-2-2zM481.7 235.8h8.7l1.8 1.8v8.7l-1.8 1.8h-8.7l-1.8-1.8zM482.7 233.8h8.7l1.8 1.8v8.7l-1.8 1.8h-8.7l-1.8-1.8zM483.7 233.8h8.7l1.8 1.8v8.7l-1.8 1.8h-8.7l-1.8-1.8zM485.4 233.4h9.1l2 2v9.1l-2 2h-9.1l-2-2zM486.7 233.8h8.7l1.8 1.8v8.7l-1.8 1.8h-8.7l-1.8-1.8zM488.7 233.8h8.7l1.8 1.8v8.7l-1.8 1.8h-8.7l-1.8-1.8zM489.7 233.8h8.7l1.8 1.8v8.7l-1.8 1.8h-8.7l-1.8-1.8zM490.4 233.4h9.1l2 2v9.1l-2 2h-9.1l-2-2zM492.7 233.8h8.7l1.8 1.8v8.7l-1.8 1.8h-8.7l-1.8-1.8zM493.7 231.8h8.7l1.8 1.8v8.7l-1.8 1.8h-8.7l-1.8-1.8zM495.7 229.8h8.7l1.8 1.8v8.7l-1.8 1.8h-8.7l-1.8-1.8zM496.4 228.4h9.1l2 2v9.1l-2 2h-9.1l-2-2zM497.7 228.8h8.7l1.8 1.8v8.7l-1.8 1.8h-8.7l-1.8-1.8zM499.7 228.8h8.7l1.8 1.8v8.7l-1.8 1.8h-8.7l-1.8-1.8zM500.7 228.8h8.7l1.8 1.8v8.7l-1.8 1.8h-8.7l-1.8-1.8zM502.4 228.4h9.1l2 2v9.1l-2 2h-9.1l-2-2zM503.7 228.8h8.7l1.8 1.8v8.7l-1.8 1.8h-8.7l-1.8-1.8zM505.7 228.8h8.7l1.8 1.8v8.7l-1.8 1.8h-8.7l-1.8-1.8zM506.7 228.8h8.7l1.8 1.8v8.7l-1.8 1.8h-8.7l-1.8-1.8zM508.4 226.4h9.1l2 2v9.1l-2 2h-9.1l-2-2zM510.7 223.8h8.7l1.8 1.8v8.7l-1.8 1.8h-8.7l-1.8-1.8zM511.7 223.8h8.7l1.8 1.8v8.7l-1.8 1.8h-8.7l-1.8-1.8zM513.6 223.8h8.7l1.8 1.8v8.7l-1.8 1.8h-8.7l-1.8-1.8zM514.5 223.4h9.1l2 2v9.1l-2 2h-9.1l-2-2zM515.6 223.8h8.7l1.8 1.8v8.7l-1.8 1.8h-8.7l-1.8-1.8zM517.6 221.8h8.7l1.8 1.8v8.7l-1.8 1.8h-8.7l-1.8-1.8zM518.6 219.8h8.7l1.8 1.8v8.7l-1.8 1.8h-8.7l-1.8-1.8zM520.5 219.4h9.1l2 2v9.1l-2 2h-9.1l-2-2zM521.6 219.8h8.7l1.8 1.8v8.7l-1.8 1.8h-8.7l-1.8-1.8zM522.6 219.8h8.7l1.8 1.8v8.7l-1.8 1.8h-8.7l-1.8-1.8zM524.6 217.8h8.7l1.8 1.8v8.7l-1.8 1.8h-8.7l-1.8-1.8zM525.5 215.4h9.1l2 2v9.1l-2 2h-9.1l-2-2zM526.6 215.8h8.7l1.8 1.8v8.7l-1.8 1.8h-8.7l-1.8-1.8zM527.6 215.8h8.7l1.8 1.8v8.7l-1.8 1.8h-8.7l-1.8-1.8zM528.6 213.8h8.7l1.8 1.8v8.7l-1.8 1.8h-8.7l-1.8-1.8zM529.5 210.4h9.1l2 2v9.1l-2 2h-9.1l-2-2zM531.6 210.8h8.7l1.8 1.8v8.7l-1.8 1.8h-8.7l-1.8-1.8zM532.6 210.8h8.7l1.8 1.8v8.7l-1.8 1.8h-8.7l-1.8-1.8zM533.6 208.8h8.7l1.8 1.8v8.7l-1.8 1.8h-8.7l-1.8-1.8zM534.5 206.4h9.1l2 2v9.1l-2 2h-9.1l-2-2zM536.6 206.8h8.7l1.8 1.8v8.7l-1.8 1.8h-8.7l-1.8-1.8zM537.6 206.8h8.7l1.8 1.8v8.7l-1.8 1.8h-8.7l-1.8-1.8zM538.6 206.8h8.7l1.8 1.8v8.7l-1.8 1.8h-8.7l-1.8-1.8zM540.5 203.4h9.1l2 2v9.1l-2 2h-9.1l-2-2zM541.6 201.8h8.7l1.8 1.8v8.7l-1.8 1.8h-8.7l-1.8-1.8zM543.6 201.8h8.7l1.8 1.8v8.7l-1.8 1.8h-8.7l-1.8-1.8zM544.6 201.8h8.7l1.8 1.8v8.7l-1.8 1.8h-8.7l-1.8-1.8zM546.5 201.4h9.1l2 2v9.1l-2 2h-9.1l-2-2zM547.6 201.8h8.7l1.8 1.8v8.7l-1.8 1.8h-8.7l-1.8-1.8zM549.6 201.8h8.7l1.8 1.8v8.7l-1.8 1.8h-8.7l-1.8-1.8zM551.6 201.8h8.7l1.8 1.8v8.7l-1.8 1.8h-8.7l-1.8-1.8zM552.5 201.4h9.1l2 2v9.1l-2 2h-9.1l-2-2zM554.6 201.8h8.7l1.8 1.8v8.7l-1.8 1.8h-8.7l-1.8-1.8zM555.6 201.8h8.7l1.8 1.8v8.7l-1.8 1.8h-8.7l-1.8-1.8zM557.6 201.8h8.7l1.8 1.8v8.7l-1.8 1.8h-8.7l-1.8-1.8zM558.5 201.4h9.1l2 2v9.1l-2 2h-9.1l-2-2zM560.6 201.8h8.7l1.8 1.8v8.7l-1.8 1.8h-8.7l-1.8-1.8zM562.6 199.8h8.7l1.8 1.8v8.7l-1.8 1.8h-8.7l-1.8-1.8zM563.6 197.8h8.7l1.8 1.8v8.7l-1.8 1.8h-8.7l-1.8-1.8zM565.5 195.4h9.1l2 2v9.1l-2 2h-9.1l-2-2zM566.6 195.8h8.7l1.8 1.8v8.7l-1.8 1.8h-8.7l-1.8-1.8zM568.6 195.8h8.7l1.8 1.8v8.7l-1.8 1.8h-8.7l-1.8-1.8zM569.6 195.8h8.7l1.8 1.8v8.7l-1.8 1.8h-8.7l-1.8-1.8zM571.5 195.4h9.1l2 2v9.1l-2 2h-9.1l-2-2zM572.6 195.8h8.7l1.8 1.8v8.7l-1.8 1.8h-8.7l-1.8-1.8zM574.6 195.8h8.7l1.8 1.8v8.7l-1.8 1.8h-8.7l-1.8-1.8zM576.6 195.8h8.7l1.8 1.8v8.7l-1.8 1.8h-8.7l-1.8-1.8zM577.5 195.4h9.1l2 2v9.1l-2 2h-9.1l-2-2zM579.6 195.8h8.7l1.8 1.8v8.7l-1.8 1.8h-8.7l-1.8-1.8zM580.6 195.8h8.7l1.8 1.8v8.7l-1.8 1.8h-8.7l-1.8-1.8zM582.6 193.8h8.7l1.8 1.8v8.7l-1.8 1.8h-8.7l-1.8-1.8zM583.5 191.4h9.1l2 2v9.1l-2 2h-9.1l-2-2zM585.6 189.8h8.7l1.8 1.8v8.7l-1.8 1.8h-8.7l-1.8-1.8zM586.6 189.8h8.7l1.8 1.8v8.7l-1.8 1.8h-8.7l-1.8-1.8zM587.6 189.8h8.7l1.8 1.8v8.7l-1.8 1.8h-8.7l-1.8-1.8zM589.5 189.4h9.1l2 2v9.1l-2 2h-9.1l-2-2zM590.6 189.8h8.7l1.8 1.8v8.7l-1.8 1.8h-8.7l-1.8-1.8zM592.6 187.8h8.7l1.8 1.8v8.7l-1.8 1.8h-8.7l-1.8-1.8zM593.6 185.8h8.7l1.8 1.8v8.7l-1.8 1.8h-8.7l-1.8-1.8zM595.5 184.4h9.1l2 2v9.1l-2 2h-9.1l-2-2zM596.6 184.8h8.7l1.8 1.8v8.7l-1.8 1.8h-8.7l-1.8-1.8zM598.6 184.8h8.7l1.8 1.8v8.7l-1.8 1.8h-8.7l-1.8-1.8zM599.6 184.8h8.7l1.8 1.8v8.7l-1.8 1.8h-8.7l-1.8-1.8zM600.5 182.4h9.1l2 2v9.1l-2 2h-9.1l-2-2zM602.6 180.8h8.7l1.8 1.8v8.7l-1.8 1.8h-8.7l-1.8-1.8zM604.6 179.8h8.7l1.8 1.8v8.7l-1.8 1.8h-8.7l-1.8-1.8zM605.6 179.8h8.7l1.8 1.8v8.7l-1.8 1.8h-8.7l-1.8-1.8zM607.5 179.4h9.1l2 2v9.1l-2 2h-9.1l-2-2zM608.6 179.8h8.7l1.8 1.8v8.7l-1.8 1.8h-8.7l-1.8-1.8zM610.6 179.8h8.7l1.8 1.8v8.7l-1.8 1.8h-8.7l-1.8-1.8zM611.6 179.8h8.7l1.8 1.8v8.7l-1.8 1.8h-8.7l-1.8-1.8zM613.5 177.4h9.1l2 2v9.1l-2 2h-9.1l-2-2zM614.6 175.8h8.7l1.8 1.8v8.7l-1.8 1.8h-8.7l-1.8-1.8zM616.6 175.8h8.7l1.8 1.8v8.7l-1.8 1.8h-8.7l-1.8-1.8zM618.6 175.8h8.7l1.8 1.8v8.7l-1.8 1.8h-8.7l-1.8-1.8zM619.5 175.4h9.1l2 2v9.1l-2 2h-9.1l-2-2zM621.6 175.8h8.7l1.8 1.8v8.7l-1.8 1.8h-8.7l-1.8-1.8zM622.6 175.8h8.7l1.8 1.8v8.7l-1.8 1.8h-8.7l-1.8-1.8zM624.6 175.8h8.7l1.8 1.8v8.7l-1.8 1.8h-8.7l-1.8-1.8zM625.5 175.4h9.1l2 2v9.1l-2 2h-9.1l-2-2zM627.6 175.8h8.7l1.8 1.8v8.7l-1.8 1.8h-8.7l-1.8-1.8zM629.6 173.8h8.7l1.8 1.8v8.7l-1.8 1.8h-8.7l-1.8-1.8zM630.6 172.8h8.7l1.8 1.8v8.7l-1.8 1.8h-8.7l-1.8-1.8zM632.5 172.4h9.1l2 2v9.1l-2 2h-9.1l-2-2zM633.6 172.8h8.7l1.8 1.8v8.7l-1.8 1.8h-8.7l-1.8-1.8zM635.6 172.8h8.7l1.8 1.8v8.7l-1.8 1.8h-8.7l-1.8-1.8zM636.6 172.8h8.7l1.8 1.8v8.7l-1.8 1.8h-8.7l-1.8-1.8zM638.5 172.4h9.1l2 2v9.1l-2 2h-9.1l-2-2zM639.6 172.8h8.7l1.8 1.8v8.7l-1.8 1.8h-8.7l-1.8-1.8zM641.6 170.8h8.7l1.8 1.8v8.7l-1.8 1.8h-8.7l-1.8-1.8zM642.6 167.8h8.7l1.8 1.8v8.7l-1.8 1.8h-8.7l-1.8-1.8zM643.5 167.4h9.1l2 2v9.1l-2 2h-9.1l-2-2zM645.6 167.8h8.7l1.8 1.8v8.7l-1.8 1.8h-8.7l-1.8-1.8zM646.6 167.8h8.7l1.8 1.8v8.7l-1.8 1.8h-8.7l-1.8-1.8zM648.6 165.8h8.7l1.8 1.8v8.7l-1.8 1.8h-8.7l-1.8-1.8zM649.5 163.4h9.1l2 2v9.1l-2 2h-9.1l-2-2zM651.6 162.8h8.7l1.8 1.8v8.7l-1.8 1.8h-8.7l-1.8-1.8zM652.6 162.8h8.7l1.8 1.8v8.7l-1.8 1.8h-8.7l-1.8-1.8zM653.6 162.8h8.7l1.8 1.8v8.7l-1.8 1.8h-8.7l-1.8-1.8zM655.5 162.4h9.1l2 2v9.1l-2 2h-9.1l-2-2zM656.6 162.8h8.7l1.8 1.8v8.7l-1.8 1.8h-8.7l-1.8-1.8zM657.6 162.8h8.7l1.8 1.8v8.7l-1.8 1.8h-8.7l-1.8-1.8zM659.6 160.8h8.7l1.8 1.8v8.7l-1.8 1.8h-8.7l-1.8-1.8zM660.5 158.4h9.1l2 2v9.1l-2 2h-9.1l-2-2zM662.6 157.8h8.7l1.8 1.8v8.7l-1.8 1.8h-8.7l-1.8-1.8zM663.6 157.8h8.7l1.8 1.8v8.7l-1.8 1.8h-8.7l-1.8-1.8zM665.6 157.8h8.7l1.8 1.8v8.7l-1.8 1.8h-8.7l-1.8-1.8zM666.5 157.4h9.1l2 2v9.1l-2 2h-9.1l-2-2zM668.6 157.8h8.7l1.8 1.8v8.7l-1.8 1.8h-8.7l-1.8-1.8zM669.6 155.8h8.7l1.8 1.8v8.7l-1.8 1.8h-8.7l-1.8-1.8zM671.6 154.8h8.7l1.8 1.8v8.7l-1.8 1.8h-8.7l-1.8-1.8zM672.5 154.4h9.1l2 2v9.1l-2 2h-9.1l-2-2zM674.6 154.8h8.7l1.8 1.8v8.7l-1.8 1.8h-8.7l-1.8-1.8zM675.6 154.8h8.7l1.8 1.8v8.7l-1.8 1.8h-8.7l-1.8-1.8zM677.6 154.8h8.7l1.8 1.8v8.7l-1.8 1.8h-8.7l-1.8-1.8zM679.5 154.4h9.1l2 2v9.1l-2 2h-9.1l-2-2zM680.6 154.8h8.7l1.8 1.8v8.7l-1.8 1.8h-8.7l-1.8-1.8zM681.6 154.8h8.7l1.8 1.8v8.7l-1.8 1.8h-8.7l-1.8-1.8zM683.6 151.8h8.7l1.8 1.8v8.7l-1.8 1.8h-8.7l-1.8-1.8zM685.5 149.4h9.1l2 2v9.1l-2 2h-9.1l-2-2zM686.6 149.8h8.7l1.8 1.8v8.7l-1.8 1.8h-8.7l-1.8-1.8zM687.6 149.8h8.7l1.8 1.8v8.7l-1.8 1.8h-8.7l-1.8-1.8zM689.6 149.8h8.7l1.8 1.8v8.7l-1.8 1.8h-8.7l-1.8-1.8zM691.5 149.4h9.1l2 2v9.1l-2 2h-9.1l-2-2zM692.6 149.8h8.7l1.8 1.8v8.7l-1.8 1.8h-8.7l-1.8-1.8zM694.6 149.8h8.7l1.8 1.8v8.7l-1.8 1.8h-8.7l-1.8-1.8zM695.6 149.8h8.7l1.8 1.8v8.7l-1.8 1.8h-8.7l-1.8-1.8zM697.5 149.4h9.1l2 2v9.1l-2 2h-9.1l-2-2zM698.6 149.8h8.7l1.8 1.8v8.7l-1.8 1.8h-8.7l-1.8-1.8zM700.6 149.8h8.7l1.8 1.8v8.7l-1.8 1.8h-8.7l-1.8-1.8zM701.6 149.8h8.7l1.8 1.8v8.7l-1.8 1.8h-8.7l-1.8-1.8zM703.5 149.4h9.1l2 2v9.1l-2 2h-9.1l-2-2zM704.6 149.8h8.7l1.8 1.8v8.7l-1.8 1.8h-8.7l-1.8-1.8zM706.6 149.8h8.7l1.8 1.8v8.7l-1.8 1.8h-8.7l-1.8-1.8zM707.6 149.8h8.7l1.8 1.8v8.7l-1.8 1.8h-8.7l-1.8-1.8zM708.5 147.4h9.1l2 2v9.1l-2 2h-9.1l-2-2zM710.6 145.8h8.7l1.8 1.8v8.7l-1.8 1.8h-8.7l-1.8-1.8zM711.6 143.8h8.7l1.8 1.8v8.7l-1.8 1.8h-8.7l-1.8-1.8zM713.6 143.8h8.7l1.8 1.8v8.7l-1.8 1.8h-8.7l-1.8-1.8zM714.5 143.4h9.1l2 2v9.1l-2 2h-9.1l-2-2zM716.6 143.8h8.7l1.8 1.8v8.7l-1.8 1.8h-8.7l-1.8-1.8zM717.6 143.8h8.7l1.8 1.8v8.7l-1.8 1.8h-8.7l-1.8-1.8zM719.6 143.8h8.7l1.8 1.8v8.7l-1.8 1.8h-8.7l-1.8-1.8zM720.5 143.4h9.1l2 2v9.1l-2 2h-9.1l-2-2zM722.6 143.8h8.7l1.8 1.8v8.7l-1.8 1.8h-8.7l-1.8-1.8zM724.6 143.8h8.7l1.8 1.8v8.7l-1.8 1.8h-8.7l-1.8-1.8zM725.6 143.8h8.7l1.8 1.8v8.7l-1.8 1.8h-8.7l-1.8-1.8zM727.5 141.4h9.1l2 2v9.1l-2 2h-9.1l-2-2zM728.6 139.8h8.7l1.8 1.8v8.7l-1.8 1.8h-8.7l-1.8-1.8zM730.6 139.8h8.7l1.8 1.8v8.7l-1.8 1.8h-8.7l-1.8-1.8zM731.6 139.8h8.7l1.8 1.8v8.7l-1.8 1.8h-8.7l-1.8-1.8zM733.5 139.4h9.1l2 2v9.1l-2 2h-9.1l-2-2zM734.6 139.8h8.7l1.8 1.8v8.7l-1.8 1.8h-8.7l-1.8-1.8zM736.6 139.8h8.7l1.8 1.8v8.7l-1.8 1.8h-8.7l-1.8-1.8zM738.6 139.8h8.7l1.8 1.8v8.7l-1.8 1.8h-8.7l-1.8-1.8zM739.5 136.4h9.1l2 2v9.1l-2 2h-9.1l-2-2zM741.6 134.8h8.7l1.8 1.8v8.7l-1.8 1.8h-8.7l-1.8-1.8zM742.6 134.8h8.7l1.8 1.8v8.7l-1.8 1.8h-8.7l-1.8-1.8zM744.6 134.8h8.7l1.8 1.8v8.7l-1.8 1.8h-8.7l-1.8-1.8zM745.5 134.4h9.1l2 2v9.1l-2 2h-9.1l-2-2zM747.6 134.8h8.7l1.8 1.8v8.7l-1.8 1.8h-8.7l-1.8-1.8zM749.6 134.8h8.7l1.8 1.8v8.7l-1.8 1.8h-8.7l-1.8-1.8zM750.6 134.8h8.7l1.8 1.8v8.7l-1.8 1.8h-8.7l-1.8-1.8zM752.5 134.4h9.1l2 2v9.1l-2 2h-9.1l-2-2zM753.6 134.8h8.7l1.8 1.8v8.7l-1.8 1.8h-8.7l-1.8-1.8zM755.6 132.8h8.7l1.8 1.8v8.7l-1.8 1.8h-8.7l-1.8-1.8zM756.6 130.8h8.7l1.8 1.8v8.7l-1.8 1.8h-8.7l-1.8-1.8zM758.5 130.4h9.1l2 2v9.1l-2 2h-9.1l-2-2zM760.6 130.8h8.7l1.8 1.8v8.7l-1.8 1.8h-8.7l-1.8-1.8zM761.6 130.8h8.7l1.8 1.8v8.7l-1.8 1.8h-8.7l-1.8-1.8zM763.6 130.8h8.7l1.8 1.8v8.7l-1.8 1.8h-8.7l-1.8-1.8zM764.5 128.4h9.1l2 2v9.1l-2 2h-9.1l-2-2zM765.6 125.8h8.7l1.8 1.8v8.7l-1.8 1.8h-8.7l-1.8-1.8zM767.6 125.8h8.7l1.8 1.8v8.7l-1.8 1.8h-8.7l-1.8-1.8zM768.6 125.8h8.7l1.8 1.8v8.7l-1.8 1.8h-8.7l-1.8-1.8zM770.5 125.5h9.1l2 2v9.1l-2 2h-9.1l-2-2zM771.6 125.8h8.7l1.8 1.8v8.7l-1.8 1.8h-8.7l-1.8-1.8zM772.6 125.8h8.7l1.8 1.8v8.7l-1.8 1.8h-8.7l-1.8-1.8zM774.6 123.8h8.7l1.8 1.8v8.7l-1.8 1.8h-8.7l-1.8-1.8zM775.5 121.5h9.1l2 2v9.1l-2 2h-9.1l-2-2zM777.6 120.8h8.7l1.8 1.8v8.7l-1.8 1.8h-8.7l-1.8-1.8zM778.6 120.8h8.7l1.8 1.8v8.7l-1.8 1.8h-8.7l-1.8-1.8zM780.6 120.8h8.7l1.8 1.8v8.7l-1.8 1.8h-8.7l-1.8-1.8zM781.5 120.5h9.1l2 2v9.1l-2 2h-9.1l-2-2zM783.6 120.8h8.7l1.8 1.8v8.7l-1.8 1.8h-8.7l-1.8-1.8zM785.6 120.8h8.7l1.8 1.8v8.7l-1.8 1.8h-8.7l-1.8-1.8zM786.6 120.8h8.7l1.8 1.8v8.7l-1.8 1.8h-8.7l-1.8-1.8zM788.5 120.5h9.1l2 2v9.1l-2 2h-9.1l-2-2zM789.6 120.8h8.7l1.8 1.8v8.7l-1.8 1.8h-8.7l-1.8-1.8zM791.6 120.8h8.7l1.8 1.8v8.7l-1.8 1.8h-8.7l-1.8-1.8zM792.6 118.8h8.7l1.8 1.8v8.7l-1.8 1.8h-8.7l-1.8-1.8zM794.5 116.5h9.1l2 2v9.1l-2 2h-9.1l-2-2zM795.6 114.8h8.7l1.8 1.8v8.7l-1.8 1.8h-8.7l-1.8-1.8zM797.6 114.8h8.7l1.8 1.8v8.7l-1.8 1.8h-8.7l-1.8-1.8zM798.6 114.8h8.7l1.8 1.8v8.7l-1.8 1.8h-8.7l-1.8-1.8zM800.5 114.5h9.1l2 2v9.1l-2 2h-9.1l-2-2zM801.6 114.8h8.7l1.8 1.8v8.7l-1.8 1.8h-8.7l-1.8-1.8zM803.6 114.8h8.7l1.8 1.8v8.7l-1.8 1.8h-8.7l-1.8-1.8zM804.6 114.8h8.7l1.8 1.8v8.7l-1.8 1.8h-8.7l-1.8-1.8zM806.5 114.5h9.1l2 2v9.1l-2 2h-9.1l-2-2zM807.6 112.8h8.7l1.8 1.8v8.7l-1.8 1.8h-8.7l-1.8-1.8zM809.6 110.8h8.7l1.8 1.8v8.7l-1.8 1.8h-8.7l-1.8-1.8zM811.6 109.8h8.7l1.8 1.8v8.7l-1.8 1.8h-8.7l-1.8-1.8zM812.5 109.5h9.1l2 2v9.1l-2 2h-9.1l-2-2zM814.6 109.8h8.7l1.8 1.8v8.7l-1.8 1.8h-8.7l-1.8-1.8zM815.6 109.8h8.7l1.8 1.8v8.7l-1.8 1.8h-8.7l-1.8-1.8zM817.6 109.8h8.7l1.8 1.8v8.7l-1.8 1.8h-8.7l-1.8-1.8zM818.5 109.5h9.1l2 2v9.1l-2 2h-9.1l-2-2zM820.6 109.8h8.7l1.8 1.8v8.7l-1.8 1.8h-8.7l-1.8-1.8zM821.6 109.8h8.7l1.8 1.8v8.7l-1.8 1.8h-8.7l-1.8-1.8zM823.6 109.8h8.7l1.8 1.8v8.7l-1.8 1.8h-8.7l-1.8-1.8zM824.5 109.5h9.1l2 2v9.1l-2 2h-9.1l-2-2zM826.6 109.8h8.7l1.8 1.8v8.7l-1.8 1.8h-8.7l-1.8-1.8zM827.6 107.8h8.7l1.8 1.8v8.7l-1.8 1.8h-8.7l-1.8-1.8zM828.6 105.8h8.7l1.8 1.8v8.7l-1.8 1.8h-8.7l-1.8-1.8zM830.5 104.5h9.1l2 2v9.1l-2 2h-9.1l-2-2zM831.6 104.8h8.7l1.8 1.8v8.7l-1.8 1.8h-8.7l-1.8-1.8zM833.6 104.8h8.7l1.8 1.8v8.7l-1.8 1.8h-8.7l-1.8-1.8zM834.6 104.8h8.7l1.8 1.8v8.7l-1.8 1.8h-8.7l-1.8-1.8zM836.5 104.5h9.1l2 2v9.1l-2 2h-9.1l-2-2zM837.6 102.8h8.7l1.8 1.8v8.7l-1.8 1.8h-8.7l-1.8-1.8zM839.6 100.8h8.7l1.8 1.8v8.7l-1.8 1.8h-8.7l-1.8-1.8zM840.6 100.8h8.7l1.8 1.8v8.7l-1.8 1.8h-8.7l-1.8-1.8zM842.5 100.5h9.1l2 2v9.1l-2 2h-9.1l-2-2zM843.6 100.8h8.7l1.8 1.8v8.7l-1.8 1.8h-8.7l-1.8-1.8zM845.6 100.8h8.7l1.8 1.8v8.7l-1.8 1.8h-8.7l-1.8-1.8zM846.6 100.8h8.7l1.8 1.8v8.7l-1.8 1.8h-8.7l-1.8-1.8zM848.5 98.5h9.1l2 2v9.1l-2 2h-9.1l-2-2zM849.6 96.8h8.7l1.8 1.8v8.7l-1.8 1.8h-8.7l-1.8-1.8zM851.6 96.8h8.7l1.8 1.8v8.7l-1.8 1.8h-8.7l-1.8-1.8zM852.6 96.8h8.7l1.8 1.8v8.7l-1.8 1.8h-8.7l-1.8-1.8zM853.5 96.5h9.1l2 2v9.1l-2 2h-9.1l-2-2zM855.6 96.8h8.7l1.8 1.8v8.7l-1.8 1.8h-8.7l-1.8-1.8zM856.6 94.8h8.7l1.8 1.8v8.7l-1.8 1.8h-8.7l-1.8-1.8zM858.6 91.8h8.7l1.8 1.8v8.7l-1.8 1.8h-8.7l-1.8-1.8zM859.5 91.5h9.1l2 2v9.1l-2 2h-9.1l-2-2zM860.6 91.8h8.7l1.8 1.8v8.7l-1.8 1.8h-8.7l-1.8-1.8zM862.6 91.8h8.7l1.8 1.8v8.7l-1.8 1.8h-8.7l-1.8-1.8zM863.6 91.8h8.7l1.8 1.8v8.7l-1.8 1.8h-8.7l-1.8-1.8zM865.5 91.5h9.1l2 2v9.1l-2 2h-9.1l-2-2zM866.6 89.8h8.7l1.8 1.8v8.7l-1.8 1.8h-8.7l-1.8-1.8zM867.6 87.8h8.7l1.8 1.8v8.7l-1.8 1.8h-8.7l-1.8-1.8zM869.6 86.8h8.7l1.8 1.8v8.7l-1.8 1.8h-8.7l-1.8-1.8zM870.5 86.5h9.1l2 2v9.1l-2 2h-9.1l-2-2zM872.6 86.8h8.7l1.8 1.8v8.7l-1.8 1.8h-8.7l-1.8-1.8zM873.6 86.8h8.7l1.8 1.8v8.7l-1.8 1.8h-8.7l-1.8-1.8zM875.6 86.8h8.7l1.8 1.8v8.7l-1.8 1.8h-8.7l-1.8-1.8zM876.5 86.5h9.1l2 2v9.1l-2 2h-9.1l-2-2zM878.6 84.8h8.7l1.8 1.8v8.7l-1.8 1.8h-8.7l-1.8-1.8zM880.6 82.8h8.7l1.8 1.8v8.7l-1.8 1.8h-8.7l-1.8-1.8zM881.6 81.8h8.7l1.8 1.8v8.7l-1.8 1.8h-8.7l-1.8-1.8zM883.5 81.5h9.1l2 2v9.1l-2 2h-9.1l-2-2zM884.6 81.8h8.7l1.8 1.8v8.7l-1.8 1.8h-8.7l-1.8-1.8zM886.6 81.8h8.7l1.8 1.8v8.7l-1.8 1.8h-8.7l-1.8-1.8zM887.6 81.8h8.7l1.8 1.8v8.7l-1.8 1.8h-8.7l-1.8-1.8zM889.5 81.5h9.1l2 2v9.1l-2 2h-9.1l-2-2z"/>
<path fill="url(#pb)" d="M191.3 786.4h6.3l2.5 2.5v6.3l-2.5 2.5h-6.3l-2.5-2.5zM191.3 784.4h6.3l2.5 2.5v6.3l-2.5 2.5h-6.3l-2.5-2.5zM191.3 783.4h6.3l2.5 2.5v6.3l-2.5 2.5h-6.3l-2.5-2.5zM191.1 781h6.7l2.7 2.7v6.7l-2.7 2.7h-6.7l-2.7-2.7zM191.3 780.4h6.3l2.5 2.5v6.3l-2.5 2.5h-6.3l-2.5-2.5zM191.3 778.4h6.3l2.5 2.5v6.3l-2.5 2.5h-6.3l-2.5-2.5zM191.3 777.4h6.3l2.5 2.5v6.3l-2.5 2.5h-6.3l-2.5-2.5zM191.1 775h6.7l2.7 2.7v6.7l-2.7 2.7h-6.7l-2.7-2.7zM191.3 774.4h6.3l2.5 2.5v6.3l-2.5 2.5h-6.3l-2.5-2.5zM191.3 772.4h6.3l2.5 2.5v6.3l-2.5 2.5h-6.3l-2.5-2.5zM191.3 771.4h6.3l2.5 2.5v6.3l-2.5 2.5h-6.3l-2.5-2.5zM191.1 769h6.7l2.7 2.7v6.7l-2.7 2.7h-6.7l-2.7-2.7zM191.3 768.4h6.3l2.5 2.5v6.3l-2.5 2.5h-6.3l-2.5-2.5zM191.3 766.4h6.3l2.5 2.5v6.3l-2.5 2.5h-6.3l-2.5-2.5zM191.3 765.4h6.3l2.5 2.5v6.3l-2.5 2.5h-6.3l-2.5-2.5zM191.1 763h6.7l2.7 2.7v6.7l-2.7 2.7h-6.7l-2.7-2.7zM191.3 762.4h6.3l2.5 2.5v6.3l-2.5 2.5h-6.3l-2.5-2.5zM191.3 760.4h6.3l2.5 2.5v6.3l-2.5 2.5h-6.3l-2.5-2.5zM191.3 759.4h6.3l2.5 2.5v6.3l-2.5 2.5h-6.3l-2.5-2.5zM191.1 757h6.7l2.7 2.7v6.7l-2.7 2.7h-6.7l-2.7-2.7zM191.3 756.4h6.3l2.5 2.5v6.3l-2.5 2.5h-6.3l-2.5-2.5zM191.3 754.4h6.3l2.5 2.5v6.3l-2.5 2.5h-6.3l-2.5-2.5zM191.3 753.4h6.3l2.5 2.5v6.3l-2.5 2.5h-6.3l-2.5-2.5zM191.1 751h6.7l2.7 2.7v6.7l-2.7 2.7h-6.7l-2.7-2.7zM191.3 750.4h6.3l2.5 2.5v6.3l-2.5 2.5h-6.3l-2.5-2.5zM191.3 748.4h6.3l2.5 2.5v6.3l-2.5 2.5h-6.3l-2.5-2.5zM191.3 747.4h6.3l2.5 2.5v6.3l-2.5 2.5h-6.3l-2.5-2.5zM191.1 745h6.7l2.7 2.7v6.7l-2.7 2.7h-6.7l-2.7-2.7zM191.3 744.4h6.3l2.5 2.5v6.3l-2.5 2.5h-6.3l-2.5-2.5zM191.3 742.4h6.3l2.5 2.5v6.3l-2.5 2.5h-6.3l-2.5-2.5zM191.3 741.4h6.3l2.5 2.5v6.3l-2.5 2.5h-6.3l-2.5-2.5zM191.1 739h6.7l2.7 2.7v6.7l-2.7 2.7h-6.7l-2.7-2.7zM191.3 738.4h6.3l2.5 2.5v6.3l-2.5 2.5h-6.3l-2.5-2.5zM191.3 736.4h6.3l2.5 2.5v6.3l-2.5 2.5h-6.3l-2.5-2.5zM191.3 735.4h6.3l2.5 2.5v6.3l-2.5 2.5h-6.3l-2.5-2.5zM191.1 733h6.7l2.7 2.7v6.7l-2.7 2.7h-6.7l-2.7-2.7zM191.3 732.4h6.3l2.5 2.5v6.3l-2.5 2.5h-6.3l-2.5-2.5zM191.3 730.4h6.3l2.5 2.5v6.3l-2.5 2.5h-6.3l-2.5-2.5zM191.3 729.4h6.3l2.5 2.5v6.3l-2.5 2.5h-6.3l-2.5-2.5zM191.1 727h6.7l2.7 2.7v6.7l-2.7 2.7h-6.7l-2.7-2.7zM191.3 726.4h6.3l2.5 2.5v6.3l-2.5 2.5h-6.3l-2.5-2.5zM191.3 724.4h6.3l2.5 2.5v6.3l-2.5 2.5h-6.3l-2.5-2.5zM191.3 723.4h6.3l2.5 2.5v6.3l-2.5 2.5h-6.3l-2.5-2.5zM191.1 721h6.7l2.7 2.7v6.7l-2.7 2.7h-6.7l-2.7-2.7zM191.3 720.4h6.3l2.5 2.5v6.3l-2.5 2.5h-6.3l-2.5-2.5zM191.3 718.4h6.3l2.5 2.5v6.3l-2.5 2.5h-6.3l-2.5-2.5zM191.3 717.4h6.3l2.5 2.5v6.3l-2.5 2.5h-6.3l-2.5-2.5zM191.1 715h6.7l2.7 2.7v6.7l-2.7 2.7h-6.7l-2.7-2.7zM191.3 714.4h6.3l2.5 2.5v6.3l-2.5 2.5h-6.3l-2.5-2.5zM191.3 712.4h6.3l2.5 2.5v6.3l-2.5 2.5h-6.3l-2.5-2.5zM191.3 711.4h6.3l2.5 2.5v6.3l-2.5 2.5h-6.3l-2.5-2.5zM191.1 709h6.7l2.7 2.7v6.7l-2.7 2.7h-6.7l-2.7-2.7zM191.3 708.4h6.3l2.5 2.5v6.3l-2.5 2.5h-6.3l-2.5-2.5zM191.3 706.4h6.3l2.5 2.5v6.3l-2.5 2.5h-6.3l-2.5-2.5zM191.3 705.4h6.3l2.5 2.5v6.3l-2.5 2.5h-6.3l-2.5-2.5zM191.1 703h6.7l2.7 2.7v6.7l-2.7 2.7h-6.7l-2.7-2.7zM191.3 702.4h6.3l2.5 2.5v6.3l-2.5 2.5h-6.3l-2.5-2.5zM191.3 700.4h6.3l2.5 2.5v6.3l-2.5 2.5h-6.3l-2.5-2.5zM191.3 699.4h6.3l2.5 2.5v6.3l-2.5 2.5h-6.3l-2.5-2.5zM191.1 697h6.7l2.7 2.7v6.7l-2.7 2.7h-6.7l-2.7-2.7zM191.3 696.4h6.3l2.5 2.5v6.3l-2.5 2.5h-6.3l-2.5-2.5zM191.3 694.4h6.3l2.5 2.5v6.3l-2.5 2.5h-6.3l-2.5-2.5zM191.3 693.4h6.3l2.5 2.5v6.3l-2.5 2.5h-6.3l-2.5-2.5zM191.1 691h6.7l2.7 2.7v6.7l-2.7 2.7h-6.7l-2.7-2.7zM191.3 690.4h6.3l2.5 2.5v6.3l-2.5 2.5h-6.3l-2.5-2.5zM191.3 688.4h6.3l2.5 2.5v6.3l-2.5 2.5h-6.3l-2.5-2.5zM191.3 687.4h6.3l2.5 2.5v6.3l-2.5 2.5h-6.3l-2.5-2.5zM191.1 685h6.7l2.7 2.7v6.7l-2.7 2.7h-6.7l-2.7-2.7zM191.3 684.4h6.3l2.5 2.5v6.3l-2.5 2.5h-6.3l-2.5-2.5zM191.3 682.4h6.3l2.5 2.5v6.3l-2.5 2.5h-6.3l-2.5-2.5zM191.3 681.4h6.3l2.5 2.5v6.3l-2.5 2.5h-6.3l-2.5-2.5zM191.1 679h6.7l2.7 2.7v6.7l-2.7 2.7h-6.7l-2.7-2.7zM191.3 678.4h6.3l2.5 2.5v6.3l-2.5 2.5h-6.3l-2.5-2.5zM191.3 676.4h6.3l2.5 2.5v6.3l-2.5 2.5h-6.3l-2.5-2.5zM191.3 675.4h6.3l2.5 2.5v6.3l-2.5 2.5h-6.3l-2.5-2.5zM191.1 673h6.7l2.7 2.7v6.7l-2.7 2.7h-6.7l-2.7-2.7zM191.3 672.4h6.3l2.5 2.5v6.3l-2.5 2.5h-6.3l-2.5-2.5zM191.3 670.4h6.3l2.5 2.5v6.3l-2.5 2.5h-6.3l-2.5-2.5zM191.3 669.4h6.3l2.5 2.5v6.3l-2.5 2.5h-6.3l-2.5-2.5zM191.1 667h6.7l2.7 2.7v6.7l-2.7 2.7h-6.7l-2.7-2.7zM191.3 666.4h6.3l2.5 2.5v6.3l-2.5 2.5h-6.3l-2.5-2.5zM191.3 664.4h6.3l2.5 2.5v6.3l-2.5 2.5h-6.3l-2.5-2.5zM191.3 663.4h6.3l2.5 2.5v6.3l-2.5 2.5h-6.3l-2.5-2.5zM191.1 661h6.7l2.7 2.7v6.7l-2.7 2.7h-6.7l-2.7-2.7zM191.3 660.4h6.3l2.5 2.5v6.3l-2.5 2.5h-6.3l-2.5-2.5zM191.3 658.4h6.3l2.5 2.5v6.3l-2.5 2.5h-6.3l-2.5-2.5zM191.3 657.4h6.3l2.5 2.5v6.3l-2.5 2.5h-6.3l-2.5-2.5zM191.1 655h6.7l2.7 2.7v6.7l-2.7 2.7h-6.7l-2.7-2.7zM191.3 654.4h6.3l2.5 2.5v6.3l-2.5 2.5h-6.3l-2.5-2.5zM191.3 652.4h6.3l2.5 2.5v6.3l-2.5 2.5h-6.3l-2.5-2.5zM191.3 651.4h6.3l2.5 2.5v6.3l-2.5 2.5h-6.3l-2.5-2.5zM191.1 649h6.7l2.7 2.7v6.7l-2.7 2.7h-6.7l-2.7-2.7zM191.3 648.4h6.3l2.5 2.5v6.3l-2.5 2.5h-6.3l-2.5-2.5zM191.3 646.4h6.3l2.5 2.5v6.3l-2.5 2.5h-6.3l-2.5-2.5zM191.3 645.4h6.3l2.5 2.5v6.3l-2.5 2.5h-6.3l-2.5-2.5zM191.1 643h6.7l2.7 2.7v6.7l-2.7 2.7h-6.7l-2.7-2.7zM191.3 642.4h6.3l2.5 2.5v6.3l-2.5 2.5h-6.3l-2.5-2.5zM191.3 640.4h6.3l2.5 2.5v6.3l-2.5 2.5h-6.3l-2.5-2.5zM191.3 639.4h6.3l2.5 2.5v6.3l-2.5 2.5h-6.3l-2.5-2.5zM191.1 637h6.7l2.7 2.7v6.7l-2.7 2.7h-6.7l-2.7-2.7zM191.3 636.4h6.3l2.5 2.5v6.3l-2.5 2.5h-6.3l-2.5-2.5zM191.3 634.4h6.3l2.5 2.5v6.3l-2.5 2.5h-6.3l-2.5-2.5zM191.3 633.4h6.3l2.5 2.5v6.3l-2.5 2.5h-6.3l-2.5-2.5zM191.1 631h6.7l2.7 2.7v6.7l-2.7 2.7h-6.7l-2.7-2.7zM191.3 630.4h6.3l2.5 2.5v6.3l-2.5 2.5h-6.3l-2.5-2.5zM191.8 627.4h6.3l2.5 2.5v6.3l-2.5 2.5h-6.3l-2.5-2.5zM192.8 627.4h6.3l2.5 2.5v6.3l-2.5 2.5h-6.3l-2.5-2.5zM193.6 625h6.7l2.7 2.7v6.7l-2.7 2.7h-6.7l-2.7-2.7zM194.8 624.4h6.3l2.5 2.5v6.3l-2.5 2.5h-6.3l-2.5-2.5zM194.8 622.4h6.3l2.5 2.5v6.3l-2.5 2.5h-6.3l-2.5-2.5zM194.8 621.4h6.3l2.5 2.5v6.3l-2.5 2.5h-6.3l-2.5-2.5zM194.6 620h6.7l2.7 2.7v6.7l-2.7 2.7h-6.7l-2.7-2.7zM194.8 618.4h6.3l2.5 2.5v6.3l-2.5 2.5h-6.3l-2.5-2.5zM194.8 616.4h6.3l2.5 2.5v6.3l-2.5 2.5h-6.3l-2.5-2.5zM194.8 615.4h6.3l2.5 2.5v6.3l-2.5 2.5h-6.3l-2.5-2.5zM194.6 614h6.7l2.7 2.7v6.7l-2.7 2.7h-6.7l-2.7-2.7zM194.8 612.4h6.3l2.5 2.5v6.3l-2.5 2.5h-6.3l-2.5-2.5zM194.8 610.4h6.3l2.5 2.5v6.3l-2.5 2.5h-6.3l-2.5-2.5zM194.8 609.4h6.3l2.5 2.5v6.3l-2.5 2.5h-6.3l-2.5-2.5zM194.6 608h6.7l2.7 2.7v6.7l-2.7 2.7h-6.7l-2.7-2.7zM194.8 606.4h6.3l2.5 2.5v6.3l-2.5 2.5h-6.3l-2.5-2.5zM194.8 604.4h6.3l2.5 2.5v6.3l-2.5 2.5h-6.3l-2.5-2.5zM194.8 603.4h6.3l2.5 2.5v6.3l-2.5 2.5h-6.3l-2.5-2.5zM194.6 602h6.7l2.7 2.7v6.7l-2.7 2.7h-6.7l-2.7-2.7zM194.8 600.4h6.3l2.5 2.5v6.3l-2.5 2.5h-6.3l-2.5-2.5zM194.8 598.4h6.3l2.5 2.5v6.3l-2.5 2.5h-6.3l-2.5-2.5zM194.8 597.4h6.3l2.5 2.5v6.3l-2.5 2.5h-6.3l-2.5-2.5zM195.1 595h6.7l2.7 2.7v6.7l-2.7 2.7h-6.7l-2.7-2.7zM196.3 593.4h6.3l2.5 2.5v6.3l-2.5 2.5h-6.3l-2.5-2.5zM196.3 591.4h6.3l2.5 2.5v6.3l-2.5 2.5h-6.3l-2.5-2.5zM196.3 590.4h6.3l2.5 2.5v6.3l-2.5 2.5h-6.3l-2.5-2.5zM196.1 588h6.7l2.7 2.7v6.7l-2.7 2.7h-6.7l-2.7-2.7zM196.3 587.4h6.3l2.5 2.5v6.3l-2.5 2.5h-6.3l-2.5-2.5zM196.3 585.4h6.3l2.5 2.5v6.3l-2.5 2.5h-6.3l-2.5-2.5zM196.3 584.4h6.3l2.5 2.5v6.3l-2.5 2.5h-6.3l-2.5-2.5zM196.1 582h6.7l2.7 2.7v6.7l-2.7 2.7h-6.7l-2.7-2.7zM196.3 581.4h6.3l2.5 2.5v6.3l-2.5 2.5h-6.3l-2.5-2.5zM196.3 579.4h6.3l2.5 2.5v6.3l-2.5 2.5h-6.3l-2.5-2.5zM196.3 578.4h6.3l2.5 2.5v6.3l-2.5 2.5h-6.3l-2.5-2.5zM196.1 576h6.7l2.7 2.7v6.7l-2.7 2.7h-6.7l-2.7-2.7zM196.3 575.4h6.3l2.5 2.5v6.3l-2.5 2.5h-6.3l-2.5-2.5zM196.3 573.4h6.3l2.5 2.5v6.3l-2.5 2.5h-6.3l-2.5-2.5zM196.3 572.4h6.3l2.5 2.5v6.3l-2.5 2.5h-6.3l-2.5-2.5zM196.1 570h6.7l2.7 2.7v6.7l-2.7 2.7h-6.7l-2.7-2.7zM197.3 568.4h6.3l2.5 2.5v6.3l-2.5 2.5h-6.3l-2.5-2.5zM197.8 567.4h6.3l2.5 2.5v6.3l-2.5 2.5h-6.3l-2.5-2.5zM198.8 565.4h6.3l2.5 2.5v6.3l-2.5 2.5h-6.3l-2.5-2.5zM198.6 563h6.7l2.7 2.7v6.7l-2.7 2.7h-6.7l-2.7-2.7zM198.8 562.4h6.3l2.5 2.5v6.3l-2.5 2.5h-6.3l-2.5-2.5zM198.8 560.4h6.3l2.5 2.5v6.3l-2.5 2.5h-6.3l-2.5-2.5zM198.8 559.4h6.3l2.5 2.5v6.3l-2.5 2.5h-6.3l-2.5-2.5zM198.6 557h6.7l2.7 2.7v6.7l-2.7 2.7h-6.7l-2.7-2.7zM198.8 556.4h6.3l2.5 2.5v6.3l-2.5 2.5h-6.3l-2.5-2.5zM198.8 554.4h6.3l2.5 2.5v6.3l-2.5 2.5h-6.3l-2.5-2.5zM198.8 553.4h6.3l2.5 2.5v6.3l-2.5 2.5h-6.3l-2.5-2.5zM198.6 551h6.7l2.7 2.7v6.7l-2.7 2.7h-6.7l-2.7-2.7zM198.8 549.4h6.3l2.5 2.5v6.3l-2.5 2.5h-6.3l-2.5-2.5zM198.8 548.4h6.3l2.5 2.5v6.3l-2.5 2.5h-6.3l-2.5-2.5zM198.8 546.4h6.3l2.5 2.5v6.3l-2.5 2.5h-6.3l-2.5-2.5zM198.6 545h6.7l2.7 2.7v6.7l-2.7 2.7h-6.7l-2.7-2.7zM198.8 543.4h6.3l2.5 2.5v6.3l-2.5 2.5h-6.3l-2.5-2.5zM198.8 542.4h6.3l2.5 2.5v6.3l-2.5 2.5h-6.3l-2.5-2.5zM198.8 540.4h6.3l2.5 2.5v6.3l-2.5 2.5h-6.3l-2.5-2.5zM198.6 539h6.7l2.7 2.7v6.7l-2.7 2.7h-6.7l-2.7-2.7zM198.8 537.4h6.3l2.5 2.5v6.3l-2.5 2.5h-6.3l-2.5-2.5zM199.3 536.4h6.3l2.5 2.5v6.3l-2.5 2.5h-6.3l-2.5-2.5zM199.8 534.4h6.3l2.5 2.5v6.3l-2.5 2.5h-6.3l-2.5-2.5zM200.1 532h6.7l2.7 2.7v6.7l-2.7 2.7h-6.7l-2.7-2.7zM200.8 531.4h6.3l2.5 2.5v6.3l-2.5 2.5h-6.3l-2.5-2.5zM200.8 529.4h6.3l2.5 2.5v6.3l-2.5 2.5h-6.3l-2.5-2.5zM201.3 527.4h6.3l2.5 2.5v6.3l-2.5 2.5h-6.3l-2.5-2.5zM201.6 526h6.7l2.7 2.7v6.7l-2.7 2.7h-6.7l-2.7-2.7zM202.3 524.4h6.3l2.5 2.5v6.3l-2.5 2.5h-6.3l-2.5-2.5zM203.8 522.4h6.3l2.5 2.5v6.3l-2.5 2.5h-6.3l-2.5-2.5zM203.8 521.4h6.3l2.5 2.5v6.3l-2.5 2.5h-6.3l-2.5-2.5zM203.6 519h6.7l2.7 2.7v6.7l-2.7 2.7h-6.7l-2.7-2.7zM203.8 517.4h6.3l2.5 2.5v6.3l-2.5 2.5h-6.3l-2.5-2.5zM203.8 516.4h6.3l2.5 2.5v6.3l-2.5 2.5h-6.3l-2.5-2.5zM203.8 514.4h6.3l2.5 2.5v6.3l-2.5 2.5h-6.3l-2.5-2.5zM203.6 511.9h6.7l2.7 2.7v6.7l-2.7 2.7h-6.7l-2.7-2.7zM203.8 511.4h6.3l2.5 2.5v6.3l-2.5 2.5h-6.3l-2.5-2.5zM203.8 509.4h6.3l2.5 2.5v6.3l-2.5 2.5h-6.3l-2.5-2.5zM203.8 507.4h6.3l2.5 2.5v6.3l-2.5 2.5h-6.3l-2.5-2.5zM203.6 505.9h6.7l2.7 2.7v6.7l-2.7 2.7h-6.7l-2.7-2.7zM206.8 504.4h6.3l2.5 2.5v6.3l-2.5 2.5h-6.3l-2.5-2.5zM206.8 502.4h6.3l2.5 2.5v6.3l-2.5 2.5h-6.3l-2.5-2.5zM206.8 501.4h6.3l2.5 2.5v6.3l-2.5 2.5h-6.3l-2.5-2.5zM206.6 498.9h6.7l2.7 2.7v6.7l-2.7 2.7h-6.7l-2.7-2.7zM206.8 497.4h6.3l2.5 2.5v6.3l-2.5 2.5h-6.3l-2.5-2.5zM206.8 496.4h6.3l2.5 2.5v6.3l-2.5 2.5h-6.3l-2.5-2.5zM209.8 494.4h6.3l2.5 2.5v6.3l-2.5 2.5h-6.3l-2.5-2.5zM209.6 492.9h6.7l2.7 2.7v6.7l-2.7 2.7h-6.7l-2.7-2.7zM209.8 491.4h6.3l2.5 2.5v6.3l-2.5 2.5h-6.3l-2.5-2.5zM209.8 490.4h6.3l2.5 2.5v6.3l-2.5 2.5h-6.3l-2.5-2.5zM209.8 488.4h6.3l2.5 2.5v6.3l-2.5 2.5h-6.3l-2.5-2.5zM209.6 486.9h6.7l2.7 2.7v6.7l-2.7 2.7h-6.7l-2.7-2.7zM212.8 485.4h6.3l2.5 2.5v6.3l-2.5 2.5h-6.3l-2.5-2.5zM212.8 484.4h6.3l2.5 2.5v6.3l-2.5 2.5h-6.3l-2.5-2.5zM212.8 483.4h6.3l2.5 2.5v6.3l-2.5 2.5h-6.3l-2.5-2.5zM212.6 480.9h6.7l2.7 2.7v6.7l-2.7 2.7h-6.7l-2.7-2.7zM215.8 480.4h6.3l2.5 2.5v6.3l-2.5 2.5h-6.3l-2.5-2.5zM215.8 478.4h6.3l2.5 2.5v6.3l-2.5 2.5h-6.3l-2.5-2.5zM215.8 477.4h6.3l2.5 2.5v6.3l-2.5 2.5h-6.3l-2.5-2.5zM215.6 474.9h6.7l2.7 2.7v6.7l-2.7 2.7h-6.7l-2.7-2.7zM215.8 474.4h6.3l2.5 2.5v6.3l-2.5 2.5h-6.3l-2.5-2.5zM215.8 472.4h6.3l2.5 2.5v6.3l-2.5 2.5h-6.3l-2.5-2.5zM218.8 471.4h6.3l2.5 2.5v6.3l-2.5 2.5h-6.3l-2.5-2.5zM218.6 468.9h6.7l2.7 2.7v6.7l-2.7 2.7h-6.7l-2.7-2.7zM218.8 467.4h6.3l2.5 2.5v6.3l-2.5 2.5h-6.3l-2.5-2.5zM218.8 466.4h6.3l2.5 2.5v6.3l-2.5 2.5h-6.3l-2.5-2.5zM218.8 464.4h6.3l2.5 2.5v6.3l-2.5 2.5h-6.3l-2.5-2.5zM218.6 461.9h6.7l2.7 2.7v6.7l-2.7 2.7h-6.7l-2.7-2.7zM218.8 461.4h6.3l2.5 2.5v6.3l-2.5 2.5h-6.3l-2.5-2.5zM221.8 459.4h6.3l2.5 2.5v6.3l-2.5 2.5h-6.3l-2.5-2.5zM221.8 457.4h6.3l2.5 2.5v6.3l-2.5 2.5h-6.3l-2.5-2.5zM221.6 455.9h6.7l2.7 2.7v6.7l-2.7 2.7h-6.7l-2.7-2.7zM221.8 454.4h6.3l2.5 2.5v6.3l-2.5 2.5h-6.3l-2.5-2.5zM221.8 452.4h6.3l2.5 2.5v6.3l-2.5 2.5h-6.3l-2.5-2.5zM221.8 451.4h6.3l2.5 2.5v6.3l-2.5 2.5h-6.3l-2.5-2.5zM221.6 448.9h6.7l2.7 2.7v6.7l-2.7 2.7h-6.7l-2.7-2.7zM224.8 447.4h6.3l2.5 2.5v6.3l-2.5 2.5h-6.3l-2.5-2.5zM224.8 446.4h6.3l2.5 2.5v6.3l-2.5 2.5h-6.3l-2.5-2.5zM224.8 444.4h6.3l2.5 2.5v6.3l-2.5 2.5h-6.3l-2.5-2.5zM224.6 441.9h6.7l2.7 2.7v6.7l-2.7 2.7h-6.7l-2.7-2.7zM224.8 441.4h6.3l2.5 2.5v6.3l-2.5 2.5h-6.3l-2.5-2.5zM224.8 439.4h6.3l2.5 2.5v6.3l-2.5 2.5h-6.3l-2.5-2.5zM227.8 437.4h6.3l2.5 2.5v6.3l-2.5 2.5h-6.3l-2.5-2.5zM227.6 435.9h6.7l2.7 2.7v6.7l-2.7 2.7h-6.7l-2.7-2.7zM227.8 434.4h6.3l2.5 2.5v6.3l-2.5 2.5h-6.3l-2.5-2.5zM227.8 432.4h6.3l2.5 2.5v6.3l-2.5 2.5h-6.3l-2.5-2.5zM227.8 431.4h6.3l2.5 2.5v6.3l-2.5 2.5h-6.3l-2.5-2.5zM227.6 428.9h6.7l2.7 2.7v6.7l-2.7 2.7h-6.7l-2.7-2.7zM230.8 427.4h6.3l2.5 2.5v6.3l-2.5 2.5h-6.3l-2.5-2.5zM230.8 426.4h6.3l2.5 2.5v6.3l-2.5 2.5h-6.3l-2.5-2.5zM230.8 424.4h6.3l2.5 2.5v6.3l-2.5 2.5h-6.3l-2.5-2.5zM230.6 422.9h6.7l2.7 2.7v6.7l-2.7 2.7h-6.7l-2.7-2.7zM230.8 421.4h6.3l2.5 2.5v6.3l-2.5 2.5h-6.3l-2.5-2.5zM233.8 420.4h6.3l2.5 2.5v6.3l-2.5 2.5h-6.3l-2.5-2.5zM233.8 418.4h6.3l2.5 2.5v6.3l-2.5 2.5h-6.3l-2.5-2.5zM233.6 416.9h6.7l2.7 2.7v6.7l-2.7 2.7h-6.7l-2.7-2.7zM233.8 415.4h6.3l2.5 2.5v6.3l-2.5 2.5h-6.3l-2.5-2.5zM233.8 414.4h6.3l2.5 2.5v6.3l-2.5 2.5h-6.3l-2.5-2.5zM233.8 413.4h6.3l2.5 2.5v6.3l-2.5 2.5h-6.3l-2.5-2.5zM236.6 410.9h6.7l2.7 2.7v6.7l-2.7 2.7h-6.7l-2.7-2.7zM236.8 410.4h6.3l2.5 2.5v6.3l-2.5 2.5h-6.3l-2.5-2.5zM236.8 408.4h6.3l2.5 2.5v6.3l-2.5 2.5h-6.3l-2.5-2.5zM239.8 407.4h6.3l2.5 2.5v6.3l-2.5 2.5h-6.3l-2.5-2.5zM239.6 404.9h6.7l2.7 2.7v6.7l-2.7 2.7h-6.7l-2.7-2.7zM240.8 403.4h6.3l2.5 2.5v6.3l-2.5 2.5h-6.3l-2.5-2.5zM241.8 401.4h6.3l2.5 2.5v6.3l-2.5 2.5h-6.3l-2.5-2.5zM242.8 401.4h6.3l2.5 2.5v6.3l-2.5 2.5h-6.3l-2.5-2.5zM243.6 400.9h6.7l2.7 2.7v6.7l-2.7 2.7h-6.7l-2.7-2.7zM244.8 399.4h6.3l2.5 2.5v6.3l-2.5 2.5h-6.3l-2.5-2.5zM245.8 397.4h6.3l2.5 2.5v6.3l-2.5 2.5h-6.3l-2.5-2.5zM246.8 396.4h6.3l2.5 2.5v6.3l-2.5 2.5h-6.3l-2.5-2.5zM246.6 393.9h6.7l2.7 2.7v6.7l-2.7 2.7h-6.7l-2.7-2.7zM248.8 392.4h6.3l2.5 2.5v6.3l-2.5 2.5h-6.3l-2.5-2.5zM249.8 392.4h6.3l2.5 2.5v6.3l-2.5 2.5h-6.3l-2.5-2.5zM250.8 390.4h6.3l2.5 2.5v6.3l-2.5 2.5h-6.3l-2.5-2.5zM251.6 388.9h6.7l2.7 2.7v6.7l-2.7 2.7h-6.7l-2.7-2.7zM252.8 389.4h6.3l2.5 2.5v6.3l-2.5 2.5h-6.3l-2.5-2.5zM253.8 386.4h6.3l2.5 2.5v6.3l-2.5 2.5h-6.3l-2.5-2.5zM254.8 385.4h6.3l2.5 2.5v6.3l-2.5 2.5h-6.3l-2.5-2.5zM255.6 384.9h6.7l2.7 2.7v6.7l-2.7 2.7h-6.7l-2.7-2.7zM256.9 383.4h6.3l2.5 2.5v6.3l-2.5 2.5h-6.3l-2.5-2.5zM257.9 382.4h6.3l2.5 2.5v6.3l-2.5 2.5h-6.3l-2.5-2.5zM259.9 382.4h6.3l2.5 2.5v6.3l-2.5 2.5h-6.3l-2.5-2.5zM260.6 378.9h6.7l2.7 2.7v6.7l-2.7 2.7h-6.7l-2.7-2.7zM262.9 378.4h6.3l2.5 2.5v6.3l-2.5 2.5h-6.3l-2.5-2.5zM263.9 378.4h6.3l2.5 2.5v6.3l-2.5 2.5h-6.3l-2.5-2.5zM265.9 376.4h6.3l2.5 2.5v6.3l-2.5 2.5h-6.3l-2.5-2.5zM266.6 374.9h6.7l2.7 2.7v6.7l-2.7 2.7h-6.7l-2.7-2.7zM267.9 375.4h6.3l2.5 2.5v6.3l-2.5 2.5h-6.3l-2.5-2.5zM269.9 373.4h6.3l2.5 2.5v6.3l-2.5 2.5h-6.3l-2.5-2.5zM270.9 373.4h6.3l2.5 2.5v6.3l-2.5 2.5h-6.3l-2.5-2.5zM272.6 370.9h6.7l2.7 2.7v6.7l-2.7 2.7h-6.7l-2.7-2.7zM273.9 371.4h6.3l2.5 2.5v6.3l-2.5 2.5h-6.3l-2.5-2.5zM275.9 369.4h6.3l2.5 2.5v6.3l-2.5 2.5h-6.3l-2.5-2.5zM276.9 369.4h6.3l2.5 2.5v6.3l-2.5 2.5h-6.3l-2.5-2.5zM277.6 368.9h6.7l2.7 2.7v6.7l-2.7 2.7h-6.7l-2.7-2.7zM279.9 366.4h6.3l2.5 2.5v6.3l-2.5 2.5h-6.3l-2.5-2.5zM280.9 366.4h6.3l2.5 2.5v6.3l-2.5 2.5h-6.3l-2.5-2.5zM282.9 366.4h6.3l2.5 2.5v6.3l-2.5 2.5h-6.3l-2.5-2.5zM283.6 363.9h6.7l2.7 2.7v6.7l-2.7 2.7h-6.7l-2.7-2.7zM285.9 363.4h6.3l2.5 2.5v6.3l-2.5 2.5h-6.3l-2.5-2.5zM286.9 363.4h6.3l2.5 2.5v6.3l-2.5 2.5h-6.3l-2.5-2.5zM287.9 363.4h6.3l2.5 2.5v6.3l-2.5 2.5h-6.3l-2.5-2.5zM289.6 359.9h6.7l2.7 2.7v6.7l-2.7 2.7h-6.7l-2.7-2.7zM290.9 359.4h6.3l2.5 2.5v6.3l-2.5 2.5h-6.3l-2.5-2.5zM292.9 359.4h6.3l2.5 2.5v6.3l-2.5 2.5h-6.3l-2.5-2.5zM293.9 359.4h6.3l2.5 2.5v6.3l-2.5 2.5h-6.3l-2.5-2.5zM295.6 358.9h6.7l2.7 2.7v6.7l-2.7 2.7h-6.7l-2.7-2.7zM296.9 357.4h6.3l2.5 2.5v6.3l-2.5 2.5h-6.3l-2.5-2.5zM297.9 355.4h6.3l2.5 2.5v6.3l-2.5 2.5h-6.3l-2.5-2.5zM299.9 355.4h6.3l2.5 2.5v6.3l-2.5 2.5h-6.3l-2.5-2.5zM300.6 354.9h6.7l2.7 2.7v6.7l-2.7 2.7h-6.7l-2.7-2.7zM302.9 355.4h6.3l2.5 2.5v6.3l-2.5 2.5h-6.3l-2.5-2.5zM303.9 353.4h6.3l2.5 2.5v6.3l-2.5 2.5h-6.3l-2.5-2.5zM305.9 352.4h6.3l2.5 2.5v6.3l-2.5 2.5h-6.3l-2.5-2.5zM306.6 351.9h6.7l2.7 2.7v6.7l-2.7 2.7h-6.7l-2.7-2.7zM307.9 352.4h6.3l2.5 2.5v6.3l-2.5 2.5h-6.3l-2.5-2.5zM308.9 352.4h6.3l2.5 2.5v6.3l-2.5 2.5h-6.3l-2.5-2.5zM310.9 350.4h6.3l2.5 2.5v6.3l-2.5 2.5h-6.3l-2.5-2.5zM311.6 347.9h6.7l2.7 2.7v6.7l-2.7 2.7h-6.7l-2.7-2.7zM312.9 348.4h6.3l2.5 2.5v6.3l-2.5 2.5h-6.3l-2.5-2.5zM314.9 348.4h6.3l2.5 2.5v6.3l-2.5 2.5h-6.3l-2.5-2.5zM315.9 348.4h6.3l2.5 2.5v6.3l-2.5 2.5h-6.3l-2.5-2.5zM316.6 345.9h6.7l2.7 2.7v6.7l-2.7 2.7h-6.7l-2.7-2.7zM317.9 344.4h6.3l2.5 2.5v6.3l-2.5 2.5h-6.3l-2.5-2.5zM318.9 343.4h6.3l2.5 2.5v6.3l-2.5 2.5h-6.3l-2.5-2.5zM320.9 343.4h6.3l2.5 2.5v6.3l-2.5 2.5h-6.3l-2.5-2.5zM321.6 340.9h6.7l2.7 2.7v6.7l-2.7 2.7h-6.7l-2.7-2.7zM322.9 340.4h6.3l2.5 2.5v6.3l-2.5 2.5h-6.3l-2.5-2.5zM324.9 340.4h6.3l2.5 2.5v6.3l-2.5 2.5h-6.3l-2.5-2.5zM325.9 338.4h6.3l2.5 2.5v6.3l-2.5 2.5h-6.3l-2.5-2.5zM326.6 336.9h6.7l2.7 2.7v6.7l-2.7 2.7h-6.7l-2.7-2.7zM327.9 337.4h6.3l2.5 2.5v6.3l-2.5 2.5h-6.3l-2.5-2.5zM328.9 335.4h6.3l2.5 2.5v6.3l-2.5 2.5h-6.3l-2.5-2.5zM330.9 335.4h6.3l2.5 2.5v6.3l-2.5 2.5h-6.3l-2.5-2.5zM331.6 334.9h6.7l2.7 2.7v6.7l-2.7 2.7h-6.7l-2.7-2.7zM332.9 332.4h6.3l2.5 2.5v6.3l-2.5 2.5h-6.3l-2.5-2.5zM334.9 332.4h6.3l2.5 2.5v6.3l-2.5 2.5h-6.3l-2.5-2.5zM335.9 332.4h6.3l2.5 2.5v6.3l-2.5 2.5h-6.3l-2.5-2.5zM336.6 329.9h6.7l2.7 2.7v6.7l-2.7 2.7h-6.7l-2.7-2.7zM337.9 329.4h6.3l2.5 2.5v6.3l-2.5 2.5h-6.3l-2.5-2.5zM339.9 329.4h6.3l2.5 2.5v6.3l-2.5 2.5h-6.3l-2.5-2.5zM340.9 327.4h6.3l2.5 2.5v6.3l-2.5 2.5h-6.3l-2.5-2.5zM342.6 325.9h6.7l2.7 2.7v6.7l-2.7 2.7h-6.7l-2.7-2.7zM343.9 326.4h6.3l2.5 2.5v6.3l-2.5 2.5h-6.3l-2.5-2.5zM345.9 326.4h6.3l2.5 2.5v6.3l-2.5 2.5h-6.3l-2.5-2.5zM346.9 324.4h6.3l2.5 2.5v6.3l-2.5 2.5h-6.3l-2.5-2.5zM348.6 322.9h6.7l2.7 2.7v6.7l-2.7 2.7h-6.7l-2.7-2.7zM349.9 323.4h6.3l2.5 2.5v6.3l-2.5 2.5h-6.3l-2.5-2.5zM351.9 323.4h6.3l2.5 2.5v6.3l-2.5 2.5h-6.3l-2.5-2.5zM352.9 323.4h6.3l2.5 2.5v6.3l-2.5 2.5h-6.3l-2.5-2.5zM354.6 322.9h6.7l2.7 2.7v6.7l-2.7 2.7h-6.7l-2.7-2.7zM355.9 323.4h6.3l2.5 2.5v6.3l-2.5 2.5h-6.3l-2.5-2.5zM357.9 321.4h6.3l2.5 2.5v6.3l-2.5 2.5h-6.3l-2.5-2.5zM358.9 319.4h6.3l2.5 2.5v6.3l-2.5 2.5h-6.3l-2.5-2.5zM360.6 318.9h6.7l2.7 2.7v6.7l-2.7 2.7h-6.7l-2.7-2.7zM361.9 319.4h6.3l2.5 2.5v6.3l-2.5 2.5h-6.3l-2.5-2.5zM363.9 319.4h6.3l2.5 2.5v6.3l-2.5 2.5h-6.3l-2.5-2.5zM364.9 319.4h6.3l2.5 2.5v6.3l-2.5 2.5h-6.3l-2.5-2.5zM366.6 318.9h6.7l2.7 2.7v6.7l-2.7 2.7h-6.7l-2.7-2.7zM367.9 319.4h6.3l2.5 2.5v6.3l-2.5 2.5h-6.3l-2.5-2.5zM369.9 319.4h6.3l2.5 2.5v6.3l-2.5 2.5h-6.3l-2.5-2.5zM370.9 319.4h6.3l2.5 2.5v6.3l-2.5 2.5h-6.3l-2.5-2.5zM372.6 318.9h6.7l2.7 2.7v6.7l-2.7 2.7h-6.7l-2.7-2.7zM373.9 317.4h6.3l2.5 2.5v6.3l-2.5 2.5h-6.3l-2.5-2.5zM375.9 316.4h6.3l2.5 2.5v6.3l-2.5 2.5h-6.3l-2.5-2.5zM376.9 316.4h6.3l2.5 2.5v6.3l-2.5 2.5h-6.3l-2.5-2.5zM378.6 315.9h6.7l2.7 2.7v6.7l-2.7 2.7h-6.7l-2.7-2.7zM380.9 316.4h6.3l2.5 2.5v6.3l-2.5 2.5h-6.3l-2.5-2.5zM381.9 316.4h6.3l2.5 2.5v6.3l-2.5 2.5h-6.3l-2.5-2.5zM383.9 316.4h6.3l2.5 2.5v6.3l-2.5 2.5h-6.3l-2.5-2.5zM384.6 313.9h6.7l2.7 2.7v6.7l-2.7 2.7h-6.7l-2.7-2.7zM386.9 313.4h6.3l2.5 2.5v6.3l-2.5 2.5h-6.3l-2.5-2.5zM387.9 313.4h6.3l2.5 2.5v6.3l-2.5 2.5h-6.3l-2.5-2.5zM389.9 313.4h6.3l2.5 2.5v6.3l-2.5 2.5h-6.3l-2.5-2.5zM390.6 312.9h6.7l2.7 2.7v6.7l-2.7 2.7h-6.7l-2.7-2.7zM392.9 313.4h6.3l2.5 2.5v6.3l-2.5 2.5h-6.3l-2.5-2.5zM393.9 311.4h6.3l2.5 2.5v6.3l-2.5 2.5h-6.3l-2.5-2.5zM394.9 309.4h6.3l2.5 2.5v6.3l-2.5 2.5h-6.3l-2.5-2.5zM396.6 308.9h6.7l2.7 2.7v6.7l-2.7 2.7h-6.7l-2.7-2.7zM397.9 309.4h6.3l2.5 2.5v6.3l-2.5 2.5h-6.3l-2.5-2.5zM399.9 309.4h6.3l2.5 2.5v6.3l-2.5 2.5h-6.3l-2.5-2.5zM400.9 307.4h6.3l2.5 2.5v6.3l-2.5 2.5h-6.3l-2.5-2.5zM402.6 305.9h6.7l2.7 2.7v6.7l-2.7 2.7h-6.7l-2.7-2.7zM403.9 306.4h6.3l2.5 2.5v6.3l-2.5 2.5h-6.3l-2.5-2.5zM404.9 306.4h6.3l2.5 2.5v6.3l-2.5 2.5h-6.3l-2.5-2.5zM406.9 306.4h6.3l2.5 2.5v6.3l-2.5 2.5h-6.3l-2.5-2.5zM408.6 305.9h6.7l2.7 2.7v6.7l-2.7 2.7h-6.7l-2.7-2.7zM409.9 306.4h6.3l2.5 2.5v6.3l-2.5 2.5h-6.3l-2.5-2.5zM410.9 304.4h6.3l2.5 2.5v6.3l-2.5 2.5h-6.3l-2.5-2.5zM412.9 304.4h6.3l2.5 2.5v6.3l-2.5 2.5h-6.3l-2.5-2.5zM414.6 303.9h6.7l2.7 2.7v6.7l-2.7 2.7h-6.7l-2.7-2.7zM415.9 304.4h6.3l2.5 2.5v6.3l-2.5 2.5h-6.3l-2.5-2.5zM416.9 304.4h6.3l2.5 2.5v6.3l-2.5 2.5h-6.3l-2.5-2.5zM418.9 304.4h6.3l2.5 2.5v6.3l-2.5 2.5h-6.3l-2.5-2.5zM420.6 303.9h6.7l2.7 2.7v6.7l-2.7 2.7h-6.7l-2.7-2.7zM421.9 304.4h6.3l2.5 2.5v6.3l-2.5 2.5h-6.3l-2.5-2.5zM422.9 304.4h6.3l2.5 2.5v6.3l-2.5 2.5h-6.3l-2.5-2.5zM424.9 304.4h6.3l2.5 2.5v6.3l-2.5 2.5h-6.3l-2.5-2.5zM426.6 303.9h6.7l2.7 2.7v6.7l-2.7 2.7h-6.7l-2.7-2.7zM427.9 304.4h6.3l2.5 2.5v6.3l-2.5 2.5h-6.3l-2.5-2.5zM428.9 304.4h6.3l2.5 2.5v6.3l-2.5 2.5h-6.3l-2.5-2.5zM430.9 304.4h6.3l2.5 2.5v6.3l-2.5 2.5h-6.3l-2.5-2.5zM432.6 303.9h6.7l2.7 2.7v6.7l-2.7 2.7h-6.7l-2.7-2.7zM433.9 304.4h6.3l2.5 2.5v6.3l-2.5 2.5h-6.3l-2.5-2.5zM434.9 301.4h6.3l2.5 2.5v6.3l-2.5 2.5h-6.3l-2.5-2.5zM436.9 299.4h6.3l2.5 2.5v6.3l-2.5 2.5h-6.3l-2.5-2.5zM437.6 298.9h6.7l2.7 2.7v6.7l-2.7 2.7h-6.7l-2.7-2.7zM438.9 299.4h6.3l2.5 2.5v6.3l-2.5 2.5h-6.3l-2.5-2.5zM440.9 299.4h6.3l2.5 2.5v6.3l-2.5 2.5h-6.3l-2.5-2.5zM442.9 299.4h6.3l2.5 2.5v6.3l-2.5 2.5h-6.3l-2.5-2.5zM443.6 296.9h6.7l2.7 2.7v6.7l-2.7 2.7h-6.7l-2.7-2.7zM445.9 296.4h6.3l2.5 2.5v6.3l-2.5 2.5h-6.3l-2.5-2.5zM446.9 296.4h6.3l2.5 2.5v6.3l-2.5 2.5h-6.3l-2.5-2.5zM448.9 296.4h6.3l2.5 2.5v6.3l-2.5 2.5h-6.3l-2.5-2.5zM449.6 295.9h6.7l2.7 2.7v6.7l-2.7 2.7h-6.7l-2.7-2.7zM451.9 296.4h6.3l2.5 2.5v6.3l-2.5 2.5h-6.3l-2.5-2.5zM453.9 296.4h6.3l2.5 2.5v6.3l-2.5 2.5h-6.3l-2.5-2.5zM454.9 296.4h6.3l2.5 2.5v6.3l-2.5 2.5h-6.3l-2.5-2.5zM456.6 295.9h6.7l2.7 2.7v6.7l-2.7 2.7h-6.7l-2.7-2.7zM457.9 294.4h6.3l2.5 2.5v6.3l-2.5 2.5h-6.3l-2.5-2.5zM459.9 292.4h6.3l2.5 2.5v6.3l-2.5 2.5h-6.3l-2.5-2.5zM460.9 292.4h6.3l2.5 2.5v6.3l-2.5 2.5h-6.3l-2.5-2.5zM462.6 291.9h6.7l2.7 2.7v6.7l-2.7 2.7h-6.7l-2.7-2.7zM464.9 292.4h6.3l2.5 2.5v6.3l-2.5 2.5h-6.3l-2.5-2.5zM465.9 292.4h6.3l2.5 2.5v6.3l-2.5 2.5h-6.3l-2.5-2.5zM467.9 292.4h6.3l2.5 2.5v6.3l-2.5 2.5h-6.3l-2.5-2.5zM468.6 291.9h6.7l2.7 2.7v6.7l-2.7 2.7h-6.7l-2.7-2.7zM470.9 292.4h6.3l2.5 2.5v6.3l-2.5 2.5h-6.3l-2.5-2.5zM471.9 292.4h6.3l2.5 2.5v6.3l-2.5 2.5h-6.3l-2.5-2.5zM473.9 292.4h6.3l2.5 2.5v6.3l-2.5 2.5h-6.3l-2.5-2.5zM475.6 291.9h6.7l2.7 2.7v6.7l-2.7 2.7h-6.7l-2.7-2.7zM476.9 292.4h6.3l2.5 2.5v6.3l-2.5 2.5h-6.3l-2.5-2.5zM478.9 290.4h6.3l2.5 2.5v6.3l-2.5 2.5h-6.3l-2.5-2.5zM479.9 289.4h6.3l2.5 2.5v6.3l-2.5 2.5h-6.3l-2.5-2.5zM481.6 288.9h6.7l2.7 2.7v6.7l-2.7 2.7h-6.7l-2.7-2.7zM482.9 289.4h6.3l2.5 2.5v6.3l-2.5 2.5h-6.3l-2.5-2.5zM484.9 289.4h6.3l2.5 2.5v6.3l-2.5 2.5h-6.3l-2.5-2.5zM485.9 289.4h6.3l2.5 2.5v6.3l-2.5 2.5h-6.3l-2.5-2.5zM487.6 288.9h6.7l2.7 2.7v6.7l-2.7 2.7h-6.7l-2.7-2.7zM489.9 289.4h6.3l2.5 2.5v6.3l-2.5 2.5h-6.3l-2.5-2.5zM490.9 289.4h6.3l2.5 2.5v6.3l-2.5 2.5h-6.3l-2.5-2.5zM492.9 289.4h6.3l2.5 2.5v6.3l-2.5 2.5h-6.3l-2.5-2.5zM493.6 288.9h6.7l2.7 2.7v6.7l-2.7 2.7h-6.7l-2.7-2.7zM495.9 289.4h6.3l2.5 2.5v6.3l-2.5 2.5h-6.3l-2.5-2.5zM496.9 289.4h6.3l2.5 2.5v6.3l-2.5 2.5h-6.3l-2.5-2.5zM498.9 287.4h6.3l2.5 2.5v6.3l-2.5 2.5h-6.3l-2.5-2.5zM500.6 286.9h6.7l2.7 2.7v6.7l-2.7 2.7h-6.7l-2.7-2.7zM501.9 287.4h6.3l2.5 2.5v6.3l-2.5 2.5h-6.3l-2.5-2.5zM502.9 287.4h6.3l2.5 2.5v6.3l-2.5 2.5h-6.3l-2.5-2.5zM504.9 284.4h6.3l2.5 2.5v6.3l-2.5 2.5h-6.3l-2.5-2.5zM505.6 283.9h6.7l2.7 2.7v6.7l-2.7 2.7h-6.7l-2.7-2.7zM506.9 284.4h6.3l2.5 2.5v6.3l-2.5 2.5h-6.3l-2.5-2.5zM508.9 284.4h6.3l2.5 2.5v6.3l-2.5 2.5h-6.3l-2.5-2.5zM509.9 284.4h6.3l2.5 2.5v6.3l-2.5 2.5h-6.3l-2.5-2.5zM511.6 283.9h6.7l2.7 2.7v6.7l-2.7 2.7h-6.7l-2.7-2.7zM512.9 284.4h6.3l2.5 2.5v6.3l-2.5 2.5h-6.3l-2.5-2.5zM514.9 284.4h6.3l2.5 2.5v6.3l-2.5 2.5h-6.3l-2.5-2.5zM515.9 284.4h6.3l2.5 2.5v6.3l-2.5 2.5h-6.3l-2.5-2.5zM517.7 283.9h6.7l2.7 2.7v6.7l-2.7 2.7h-6.7l-2.7-2.7zM519.9 284.4h6.3l2.5 2.5v6.3l-2.5 2.5h-6.3l-2.5-2.5zM520.9 284.4h6.3l2.5 2.5v6.3l-2.5 2.5h-6.3l-2.5-2.5zM522.9 284.4h6.3l2.5 2.5v6.3l-2.5 2.5h-6.3l-2.5-2.5zM523.7 283.9h6.7l2.7 2.7v6.7l-2.7 2.7h-6.7l-2.7-2.7zM525.9 284.4h6.3l2.5 2.5v6.3l-2.5 2.5h-6.3l-2.5-2.5zM526.9 284.4h6.3l2.5 2.5v6.3l-2.5 2.5h-6.3l-2.5-2.5zM528.9 284.4h6.3l2.5 2.5v6.3l-2.5 2.5h-6.3l-2.5-2.5zM529.7 283.9h6.7l2.7 2.7v6.7l-2.7 2.7h-6.7l-2.7-2.7zM531.9 284.4h6.3l2.5 2.5v6.3l-2.5 2.5h-6.3l-2.5-2.5zM532.9 284.4h6.3l2.5 2.5v6.3l-2.5 2.5h-6.3l-2.5-2.5zM534.9 284.4h6.3l2.5 2.5v6.3l-2.5 2.5h-6.3l-2.5-2.5zM536.7 283.9h6.7l2.7 2.7v6.7l-2.7 2.7h-6.7l-2.7-2.7zM537.9 284.4h6.3l2.5 2.5v6.3l-2.5 2.5h-6.3l-2.5-2.5zM539.9 284.4h6.3l2.5 2.5v6.3l-2.5 2.5h-6.3l-2.5-2.5zM540.9 284.4h6.3l2.5 2.5v6.3l-2.5 2.5h-6.3l-2.5-2.5zM542.7 283.9h6.7l2.7 2.7v6.7l-2.7 2.7h-6.7l-2.7-2.7zM543.9 284.4h6.3l2.5 2.5v6.3l-2.5 2.5h-6.3l-2.5-2.5zM545.9 284.4h6.3l2.5 2.5v6.3l-2.5 2.5h-6.3l-2.5-2.5zM547.9 281.4h6.3l2.5 2.5v6.3l-2.5 2.5h-6.3l-2.5-2.5zM548.7 280.9h6.7l2.7 2.7v6.7l-2.7 2.7h-6.7l-2.7-2.7zM550.9 281.4h6.3l2.5 2.5v6.3l-2.5 2.5h-6.3l-2.5-2.5zM551.9 281.4h6.3l2.5 2.5v6.3l-2.5 2.5h-6.3l-2.5-2.5zM553.9 281.4h6.3l2.5 2.5v6.3l-2.5 2.5h-6.3l-2.5-2.5zM554.7 280.9h6.7l2.7 2.7v6.7l-2.7 2.7h-6.7l-2.7-2.7zM556.9 281.4h6.3l2.5 2.5v6.3l-2.5 2.5h-6.3l-2.5-2.5zM558.9 281.4h6.3l2.5 2.5v6.3l-2.5 2.5h-6.3l-2.5-2.5zM559.9 281.4h6.3l2.5 2.5v6.3l-2.5 2.5h-6.3l-2.5-2.5zM561.7 280.9h6.7l2.7 2.7v6.7l-2.7 2.7h-6.7l-2.7-2.7zM562.9 281.4h6.3l2.5 2.5v6.3l-2.5 2.5h-6.3l-2.5-2.5zM564.9 281.4h6.3l2.5 2.5v6.3l-2.5 2.5h-6.3l-2.5-2.5zM565.9 281.4h6.3l2.5 2.5v6.3l-2.5 2.5h-6.3l-2.5-2.5zM567.7 280.9h6.7l2.7 2.7v6.7l-2.7 2.7h-6.7l-2.7-2.7zM568.9 281.4h6.3l2.5 2.5v6.3l-2.5 2.5h-6.3l-2.5-2.5zM570.9 281.4h6.3l2.5 2.5v6.3l-2.5 2.5h-6.3l-2.5-2.5zM572.9 278.4h6.3l2.5 2.5v6.3l-2.5 2.5h-6.3l-2.5-2.5zM573.7 277.9h6.7l2.7 2.7v6.7l-2.7 2.7h-6.7l-2.7-2.7zM575.9 278.4h6.3l2.5 2.5v6.3l-2.5 2.5h-6.3l-2.5-2.5zM576.9 278.4h6.3l2.5 2.5v6.3l-2.5 2.5h-6.3l-2.5-2.5zM578.9 278.4h6.3l2.5 2.5v6.3l-2.5 2.5h-6.3l-2.5-2.5zM579.7 277.9h6.7l2.7 2.7v6.7l-2.7 2.7h-6.7l-2.7-2.7zM581.9 278.4h6.3l2.5 2.5v6.3l-2.5 2.5h-6.3l-2.5-2.5zM583.9 278.4h6.3l2.5 2.5v6.3l-2.5 2.5h-6.3l-2.5-2.5zM584.9 278.4h6.3l2.5 2.5v6.3l-2.5 2.5h-6.3l-2.5-2.5zM586.7 274.9h6.7l2.7 2.7v6.7l-2.7 2.7h-6.7l-2.7-2.7zM587.9 274.4h6.3l2.5 2.5v6.3l-2.5 2.5h-6.3l-2.5-2.5zM589.9 274.4h6.3l2.5 2.5v6.3l-2.5 2.5h-6.3l-2.5-2.5zM590.9 274.4h6.3l2.5 2.5v6.3l-2.5 2.5h-6.3l-2.5-2.5zM591.7 273.9h6.7l2.7 2.7v6.7l-2.7 2.7h-6.7l-2.7-2.7zM593.9 271.4h6.3l2.5 2.5v6.3l-2.5 2.5h-6.3l-2.5-2.5zM594.9 270.4h6.3l2.5 2.5v6.3l-2.5 2.5h-6.3l-2.5-2.5zM595.9 270.4h6.3l2.5 2.5v6.3l-2.5 2.5h-6.3l-2.5-2.5zM596.7 267.9h6.7l2.7 2.7v6.7l-2.7 2.7h-6.7l-2.7-2.7zM598.9 267.4h6.3l2.5 2.5v6.3l-2.5 2.5h-6.3l-2.5-2.5zM600.9 267.4h6.3l2.5 2.5v6.3l-2.5 2.5h-6.3l-2.5-2.5zM601.9 267.4h6.3l2.5 2.5v6.3l-2.5 2.5h-6.3l-2.5-2.5zM603.7 266.9h6.7l2.7 2.7v6.7l-2.7 2.7h-6.7l-2.7-2.7zM605.9 267.4h6.3l2.5 2.5v6.3l-2.5 2.5h-6.3l-2.5-2.5zM606.9 267.4h6.3l2.5 2.5v6.3l-2.5 2.5h-6.3l-2.5-2.5zM608.9 265.4h6.3l2.5 2.5v6.3l-2.5 2.5h-6.3l-2.5-2.5zM610.7 263.9h6.7l2.7 2.7v6.7l-2.7 2.7h-6.7l-2.7-2.7zM611.9 264.4h6.3l2.5 2.5v6.3l-2.5 2.5h-6.3l-2.5-2.5zM613.9 264.4h6.3l2.5 2.5v6.3l-2.5 2.5h-6.3l-2.5-2.5zM615.9 264.4h6.3l2.5 2.5v6.3l-2.5 2.5h-6.3l-2.5-2.5zM616.7 263.9h6.7l2.7 2.7v6.7l-2.7 2.7h-6.7l-2.7-2.7zM618.9 264.4h6.3l2.5 2.5v6.3l-2.5 2.5h-6.3l-2.5-2.5zM619.9 264.4h6.3l2.5 2.5v6.3l-2.5 2.5h-6.3l-2.5-2.5zM621.9 261.4h6.3l2.5 2.5v6.3l-2.5 2.5h-6.3l-2.5-2.5zM622.7 259.9h6.7l2.7 2.7v6.7l-2.7 2.7h-6.7l-2.7-2.7zM624.9 260.4h6.3l2.5 2.5v6.3l-2.5 2.5h-6.3l-2.5-2.5zM625.9 260.4h6.3l2.5 2.5v6.3l-2.5 2.5h-6.3l-2.5-2.5zM626.9 260.4h6.3l2.5 2.5v6.3l-2.5 2.5h-6.3l-2.5-2.5zM628.7 259.9h6.7l2.7 2.7v6.7l-2.7 2.7h-6.7l-2.7-2.7zM630.9 260.4h6.3l2.5 2.5v6.3l-2.5 2.5h-6.3l-2.5-2.5zM631.9 260.4h6.3l2.5 2.5v6.3l-2.5 2.5h-6.3l-2.5-2.5zM633.9 258.4h6.3l2.5 2.5v6.3l-2.5 2.5h-6.3l-2.5-2.5zM634.7 256.9h6.7l2.7 2.7v6.7l-2.7 2.7h-6.7l-2.7-2.7zM636.9 257.4h6.3l2.5 2.5v6.3l-2.5 2.5h-6.3l-2.5-2.5zM637.9 257.4h6.3l2.5 2.5v6.3l-2.5 2.5h-6.3l-2.5-2.5zM639.9 257.4h6.3l2.5 2.5v6.3l-2.5 2.5h-6.3l-2.5-2.5zM640.7 256.9h6.7l2.7 2.7v6.7l-2.7 2.7h-6.7l-2.7-2.7zM642.9 255.3h6.3l2.5 2.5v6.3l-2.5 2.5h-6.3l-2.5-2.5zM643.9 255.3h6.3l2.5 2.5v6.3l-2.5 2.5h-6.3l-2.5-2.5zM644.9 255.3h6.3l2.5 2.5v6.3l-2.5 2.5h-6.3l-2.5-2.5zM646.7 254.9h6.7l2.7 2.7v6.7l-2.7 2.7h-6.7l-2.7-2.7zM647.9 253.3h6.3l2.5 2.5v6.3l-2.5 2.5h-6.3l-2.5-2.5zM649.9 253.3h6.3l2.5 2.5v6.3l-2.5 2.5h-6.3l-2.5-2.5zM650.9 253.3h6.3l2.5 2.5v6.3l-2.5 2.5h-6.3l-2.5-2.5zM652.7 252.9h6.7l2.7 2.7v6.7l-2.7 2.7h-6.7l-2.7-2.7zM653.9 250.3h6.3l2.5 2.5v6.3l-2.5 2.5h-6.3l-2.5-2.5zM655.9 250.3h6.3l2.5 2.5v6.3l-2.5 2.5h-6.3l-2.5-2.5zM656.9 250.3h6.3l2.5 2.5v6.3l-2.5 2.5h-6.3l-2.5-2.5zM658.7 249.9h6.7l2.7 2.7v6.7l-2.7 2.7h-6.7l-2.7-2.7zM659.9 250.3h6.3l2.5 2.5v6.3l-2.5 2.5h-6.3l-2.5-2.5zM661.9 250.3h6.3l2.5 2.5v6.3l-2.5 2.5h-6.3l-2.5-2.5zM662.9 250.3h6.3l2.5 2.5v6.3l-2.5 2.5h-6.3l-2.5-2.5zM664.7 249.9h6.7l2.7 2.7v6.7l-2.7 2.7h-6.7l-2.7-2.7zM666.9 248.3h6.3l2.5 2.5v6.3l-2.5 2.5h-6.3l-2.5-2.5zM667.9 246.3h6.3l2.5 2.5v6.3l-2.5 2.5h-6.3l-2.5-2.5zM669.9 246.3h6.3l2.5 2.5v6.3l-2.5 2.5h-6.3l-2.5-2.5zM670.7 245.9h6.7l2.7 2.7v6.7l-2.7 2.7h-6.7l-2.7-2.7zM672.9 246.3h6.3l2.5 2.5v6.3l-2.5 2.5h-6.3l-2.5-2.5zM673.9 246.3h6.3l2.5 2.5v6.3l-2.5 2.5h-6.3l-2.5-2.5zM675.9 244.3h6.3l2.5 2.5v6.3l-2.5 2.5h-6.3l-2.5-2.5zM676.7 242.9h6.7l2.7 2.7v6.7l-2.7 2.7h-6.7l-2.7-2.7zM678.9 243.3h6.3l2.5 2.5v6.3l-2.5 2.5h-6.3l-2.5-2.5zM679.9 243.3h6.3l2.5 2.5v6.3l-2.5 2.5h-6.3l-2.5-2.5zM681.9 241.3h6.3l2.5 2.5v6.3l-2.5 2.5h-6.3l-2.5-2.5zM682.7 239.9h6.7l2.7 2.7v6.7l-2.7 2.7h-6.7l-2.7-2.7zM684.9 240.3h6.3l2.5 2.5v6.3l-2.5 2.5h-6.3l-2.5-2.5zM685.9 240.3h6.3l2.5 2.5v6.3l-2.5 2.5h-6.3l-2.5-2.5zM687.9 240.3h6.3l2.5 2.5v6.3l-2.5 2.5h-6.3l-2.5-2.5zM688.7 239.9h6.7l2.7 2.7v6.7l-2.7 2.7h-6.7l-2.7-2.7zM690.9 240.3h6.3l2.5 2.5v6.3l-2.5 2.5h-6.3l-2.5-2.5zM691.9 238.3h6.3l2.5 2.5v6.3l-2.5 2.5h-6.3l-2.5-2.5zM693.9 237.3h6.3l2.5 2.5v6.3l-2.5 2.5h-6.3l-2.5-2.5zM694.7 236.9h6.7l2.7 2.7v6.7l-2.7 2.7h-6.7l-2.7-2.7zM696.9 237.3h6.3l2.5 2.5v6.3l-2.5 2.5h-6.3l-2.5-2.5zM697.9 237.3h6.3l2.5 2.5v6.3l-2.5 2.5h-6.3l-2.5-2.5zM699.9 237.3h6.3l2.5 2.5v6.3l-2.5 2.5h-6.3l-2.5-2.5zM700.7 236.9h6.7l2.7 2.7v6.7l-2.7 2.7h-6.7l-2.7-2.7zM702.9 237.3h6.3l2.5 2.5v6.3l-2.5 2.5h-6.3l-2.5-2.5zM703.9 237.3h6.3l2.5 2.5v6.3l-2.5 2.5h-6.3l-2.5-2.5zM705.9 235.3h6.3l2.5 2.5v6.3l-2.5 2.5h-6.3l-2.5-2.5zM706.7 232.9h6.7l2.7 2.7v6.7l-2.7 2.7h-6.7l-2.7-2.7zM707.9 233.3h6.3l2.5 2.5v6.3l-2.5 2.5h-6.3l-2.5-2.5zM709.9 233.3h6.3l2.5 2.5v6.3l-2.5 2.5h-6.3l-2.5-2.5zM710.9 233.3h6.3l2.5 2.5v6.3l-2.5 2.5h-6.3l-2.5-2.5zM712.7 230.9h6.7l2.7 2.7v6.7l-2.7 2.7h-6.7l-2.7-2.7zM713.9 230.3h6.3l2.5 2.5v6.3l-2.5 2.5h-6.3l-2.5-2.5zM714.9 230.3h6.3l2.5 2.5v6.3l-2.5 2.5h-6.3l-2.5-2.5zM716.9 230.3h6.3l2.5 2.5v6.3l-2.5 2.5h-6.3l-2.5-2.5zM717.7 227.9h6.7l2.7 2.7v6.7l-2.7 2.7h-6.7l-2.7-2.7zM719.9 227.3h6.3l2.5 2.5v6.3l-2.5 2.5h-6.3l-2.5-2.5zM720.9 227.3h6.3l2.5 2.5v6.3l-2.5 2.5h-6.3l-2.5-2.5zM721.9 227.3h6.3l2.5 2.5v6.3l-2.5 2.5h-6.3l-2.5-2.5zM723.7 224.9h6.7l2.7 2.7v6.7l-2.7 2.7h-6.7l-2.7-2.7zM724.9 224.3h6.3l2.5 2.5v6.3l-2.5 2.5h-6.3l-2.5-2.5zM726.9 224.3h6.3l2.5 2.5v6.3l-2.5 2.5h-6.3l-2.5-2.5zM727.9 222.3h6.3l2.5 2.5v6.3l-2.5 2.5h-6.3l-2.5-2.5zM728.7 221.9h6.7l2.7 2.7v6.7l-2.7 2.7h-6.7l-2.7-2.7zM730.9 222.3h6.3l2.5 2.5v6.3l-2.5 2.5h-6.3l-2.5-2.5zM731.9 220.3h6.3l2.5 2.5v6.3l-2.5 2.5h-6.3l-2.5-2.5zM733.9 218.3h6.3l2.5 2.5v6.3l-2.5 2.5h-6.3l-2.5-2.5zM734.7 217.9h6.7l2.7 2.7v6.7l-2.7 2.7h-6.7l-2.7-2.7zM735.9 218.3h6.3l2.5 2.5v6.3l-2.5 2.5h-6.3l-2.5-2.5zM737.9 218.3h6.3l2.5 2.5v6.3l-2.5 2.5h-6.3l-2.5-2.5zM738.9 216.3h6.3l2.5 2.5v6.3l-2.5 2.5h-6.3l-2.5-2.5zM740.7 214.9h6.7l2.7 2.7v6.7l-2.7 2.7h-6.7l-2.7-2.7zM741.9 215.3h6.3l2.5 2.5v6.3l-2.5 2.5h-6.3l-2.5-2.5zM743.9 215.3h6.3l2.5 2.5v6.3l-2.5 2.5h-6.3l-2.5-2.5zM744.9 215.3h6.3l2.5 2.5v6.3l-2.5 2.5h-6.3l-2.5-2.5zM746.7 214.9h6.7l2.7 2.7v6.7l-2.7 2.7h-6.7l-2.7-2.7zM747.9 212.3h6.3l2.5 2.5v6.3l-2.5 2.5h-6.3l-2.5-2.5zM749.9 211.3h6.3l2.5 2.5v6.3l-2.5 2.5h-6.3l-2.5-2.5zM751.9 211.3h6.3l2.5 2.5v6.3l-2.5 2.5h-6.3l-2.5-2.5zM752.7 210.9h6.7l2.7 2.7v6.7l-2.7 2.7h-6.7l-2.7-2.7zM753.9 209.3h6.3l2.5 2.5v6.3l-2.5 2.5h-6.3l-2.5-2.5zM755.9 208.3h6.3l2.5 2.5v6.3l-2.5 2.5h-6.3l-2.5-2.5zM756.9 208.3h6.3l2.5 2.5v6.3l-2.5 2.5h-6.3l-2.5-2.5zM758.7 207.9h6.7l2.7 2.7v6.7l-2.7 2.7h-6.7l-2.7-2.7zM759.9 208.3h6.3l2.5 2.5v6.3l-2.5 2.5h-6.3l-2.5-2.5zM760.9 205.3h6.3l2.5 2.5v6.3l-2.5 2.5h-6.3l-2.5-2.5zM762.9 204.3h6.3l2.5 2.5v6.3l-2.5 2.5h-6.3l-2.5-2.5zM763.7 203.9h6.7l2.7 2.7v6.7l-2.7 2.7h-6.7l-2.7-2.7zM764.9 201.3h6.3l2.5 2.5v6.3l-2.5 2.5h-6.3l-2.5-2.5zM766.9 200.3h6.3l2.5 2.5v6.3l-2.5 2.5h-6.3l-2.5-2.5zM767.9 200.3h6.3l2.5 2.5v6.3l-2.5 2.5h-6.3l-2.5-2.5zM768.7 199.9h6.7l2.7 2.7v6.7l-2.7 2.7h-6.7l-2.7-2.7zM769.9 198.3h6.3l2.5 2.5v6.3l-2.5 2.5h-6.3l-2.5-2.5zM771.9 196.3h6.3l2.5 2.5v6.3l-2.5 2.5h-6.3l-2.5-2.5zM772.9 196.3h6.3l2.5 2.5v6.3l-2.5 2.5h-6.3l-2.5-2.5zM773.7 195.9h6.7l2.7 2.7v6.7l-2.7 2.7h-6.7l-2.7-2.7zM774.9 194.3h6.3l2.5 2.5v6.3l-2.5 2.5h-6.3l-2.5-2.5zM776.9 192.3h6.3l2.5 2.5v6.3l-2.5 2.5h-6.3l-2.5-2.5zM777.9 192.3h6.3l2.5 2.5v6.3l-2.5 2.5h-6.3l-2.5-2.5zM778.7 189.9h6.7l2.7 2.7v6.7l-2.7 2.7h-6.7l-2.7-2.7zM779.9 189.3h6.3l2.5 2.5v6.3l-2.5 2.5h-6.3l-2.5-2.5zM780.9 189.3h6.3l2.5 2.5v6.3l-2.5 2.5h-6.3l-2.5-2.5zM781.9 187.3h6.3l2.5 2.5v6.3l-2.5 2.5h-6.3l-2.5-2.5zM782.7 185.9h6.7l2.7 2.7v6.7l-2.7 2.7h-6.7l-2.7-2.7zM783.9 186.3h6.3l2.5 2.5v6.3l-2.5 2.5h-6.3l-2.5-2.5zM784.9 183.3h6.3l2.5 2.5v6.3l-2.5 2.5h-6.3l-2.5-2.5zM785.9 182.3h6.3l2.5 2.5v6.3l-2.5 2.5h-6.3l-2.5-2.5zM786.7 181.9h6.7l2.7 2.7v6.7l-2.7 2.7h-6.7l-2.7-2.7zM787.9 180.3h6.3l2.5 2.5v6.3l-2.5 2.5h-6.3l-2.5-2.5zM788.9 179.3h6.3l2.5 2.5v6.3l-2.5 2.5h-6.3l-2.5-2.5zM789.9 179.3h6.3l2.5 2.5v6.3l-2.5 2.5h-6.3l-2.5-2.5zM790.7 176.9h6.7l2.7 2.7v6.7l-2.7 2.7h-6.7l-2.7-2.7zM792.9 176.3h6.3l2.5 2.5v6.3l-2.5 2.5h-6.3l-2.5-2.5zM793.9 176.3h6.3l2.5 2.5v6.3l-2.5 2.5h-6.3l-2.5-2.5zM794.9 174.3h6.3l2.5 2.5v6.3l-2.5 2.5h-6.3l-2.5-2.5zM795.7 171.9h6.7l2.7 2.7v6.7l-2.7 2.7h-6.7l-2.7-2.7zM796.9 172.3h6.3l2.5 2.5v6.3l-2.5 2.5h-6.3l-2.5-2.5zM797.9 170.3h6.3l2.5 2.5v6.3l-2.5 2.5h-6.3l-2.5-2.5zM798.9 169.3h6.3l2.5 2.5v6.3l-2.5 2.5h-6.3l-2.5-2.5zM800.7 166.9h6.7l2.7 2.7v6.7l-2.7 2.7h-6.7l-2.7-2.7zM801.9 166.3h6.3l2.5 2.5v6.3l-2.5 2.5h-6.3l-2.5-2.5zM802.9 166.3h6.3l2.5 2.5v6.3l-2.5 2.5h-6.3l-2.5-2.5zM803.9 166.3h6.3l2.5 2.5v6.3l-2.5 2.5h-6.3l-2.5-2.5zM804.7 163.9h6.7l2.7 2.7v6.7l-2.7 2.7h-6.7l-2.7-2.7zM805.9 162.3h6.3l2.5 2.5v6.3l-2.5 2.5h-6.3l-2.5-2.5zM806.9 162.3h6.3l2.5 2.5v6.3l-2.5 2.5h-6.3l-2.5-2.5zM807.9 160.3h6.3l2.5 2.5v6.3l-2.5 2.5h-6.3l-2.5-2.5zM808.7 157.9h6.7l2.7 2.7v6.7l-2.7 2.7h-6.7l-2.7-2.7zM810.9 158.3h6.3l2.5 2.5v6.3l-2.5 2.5h-6.3l-2.5-2.5zM811.9 156.3h6.3l2.5 2.5v6.3l-2.5 2.5h-6.3l-2.5-2.5zM813.9 155.3h6.3l2.5 2.5v6.3l-2.5 2.5h-6.3l-2.5-2.5zM814.7 154.9h6.7l2.7 2.7v6.7l-2.7 2.7h-6.7l-2.7-2.7zM815.9 155.3h6.3l2.5 2.5v6.3l-2.5 2.5h-6.3l-2.5-2.5zM817.9 153.3h6.3l2.5 2.5v6.3l-2.5 2.5h-6.3l-2.5-2.5zM818.9 151.3h6.3l2.5 2.5v6.3l-2.5 2.5h-6.3l-2.5-2.5zM820.7 150.9h6.7l2.7 2.7v6.7l-2.7 2.7h-6.7l-2.7-2.7zM821.9 151.3h6.3l2.5 2.5v6.3l-2.5 2.5h-6.3l-2.5-2.5zM822.9 149.3h6.3l2.5 2.5v6.3l-2.5 2.5h-6.3l-2.5-2.5zM823.9 148.3h6.3l2.5 2.5v6.3l-2.5 2.5h-6.3l-2.5-2.5zM824.7 147.9h6.7l2.7 2.7v6.7l-2.7 2.7h-6.7l-2.7-2.7zM826.9 145.3h6.3l2.5 2.5v6.3l-2.5 2.5h-6.3l-2.5-2.5zM827.9 144.3h6.3l2.5 2.5v6.3l-2.5 2.5h-6.3l-2.5-2.5zM828.9 144.3h6.3l2.5 2.5v6.3l-2.5 2.5h-6.3l-2.5-2.5zM829.7 143.9h6.7l2.7 2.7v6.7l-2.7 2.7h-6.7l-2.7-2.7zM830.9 142.3h6.3l2.5 2.5v6.3l-2.5 2.5h-6.3l-2.5-2.5zM831.9 140.3h6.3l2.5 2.5v6.3l-2.5 2.5h-6.3l-2.5-2.5zM832.9 140.3h6.3l2.5 2.5v6.3l-2.5 2.5h-6.3l-2.5-2.5zM834.7 137.9h6.7l2.7 2.7v6.7l-2.7 2.7h-6.7l-2.7-2.7zM835.9 137.3h6.3l2.5 2.5v6.3l-2.5 2.5h-6.3l-2.5-2.5zM836.9 137.3h6.3l2.5 2.5v6.3l-2.5 2.5h-6.3l-2.5-2.5zM837.9 135.3h6.3l2.5 2.5v6.3l-2.5 2.5h-6.3l-2.5-2.5zM838.7 133.9h6.7l2.7 2.7v6.7l-2.7 2.7h-6.7l-2.7-2.7zM839.9 134.3h6.3l2.5 2.5v6.3l-2.5 2.5h-6.3l-2.5-2.5zM840.9 132.3h6.3l2.5 2.5v6.3l-2.5 2.5h-6.3l-2.5-2.5zM841.9 131.3h6.3l2.5 2.5v6.3l-2.5 2.5h-6.3l-2.5-2.5zM843.7 128.9h6.7l2.7 2.7v6.7l-2.7 2.7h-6.7l-2.7-2.7zM844.9 129.3h6.3l2.5 2.5v6.3l-2.5 2.5h-6.3l-2.5-2.5zM845.9 129.3h6.3l2.5 2.5v6.3l-2.5 2.5h-6.3l-2.5-2.5zM846.9 126.3h6.3l2.5 2.5v6.3l-2.5 2.5h-6.3l-2.5-2.5zM847.7 126h6.7l2.7 2.7v6.7l-2.7 2.7h-6.7l-2.7-2.7zM848.9 124.3h6.3l2.5 2.5v6.3l-2.5 2.5h-6.3l-2.5-2.5zM849.9 124.3h6.3l2.5 2.5v6.3l-2.5 2.5h-6.3l-2.5-2.5zM851.9 121.3h6.3l2.5 2.5v6.3l-2.5 2.5h-6.3l-2.5-2.5zM852.7 121h6.7l2.7 2.7v6.7l-2.7 2.7h-6.7l-2.7-2.7zM853.9 121.3h6.3l2.5 2.5v6.3l-2.5 2.5h-6.3l-2.5-2.5zM854.9 118.3h6.3l2.5 2.5v6.3l-2.5 2.5h-6.3l-2.5-2.5zM855.9 118.3h6.3l2.5 2.5v6.3l-2.5 2.5h-6.3l-2.5-2.5zM856.7 115h6.7l2.7 2.7v6.7l-2.7 2.7h-6.7l-2.7-2.7zM857.9 115.3h6.3l2.5 2.5v6.3l-2.5 2.5h-6.3l-2.5-2.5zM859.9 115.3h6.3l2.5 2.5v6.3l-2.5 2.5h-6.3l-2.5-2.5zM860.9 113.3h6.3l2.5 2.5v6.3l-2.5 2.5h-6.3l-2.5-2.5zM861.7 112h6.7l2.7 2.7v6.7l-2.7 2.7h-6.7l-2.7-2.7zM862.9 112.3h6.3l2.5 2.5v6.3l-2.5 2.5h-6.3l-2.5-2.5zM863.9 112.3h6.3l2.5 2.5v6.3l-2.5 2.5h-6.3l-2.5-2.5zM864.9 109.3h6.3l2.5 2.5v6.3l-2.5 2.5h-6.3l-2.5-2.5zM865.7 108h6.7l2.7 2.7v6.7l-2.7 2.7h-6.7l-2.7-2.7zM867.9 108.3h6.3l2.5 2.5v6.3l-2.5 2.5h-6.3l-2.5-2.5zM868.9 105.3h6.3l2.5 2.5v6.3l-2.5 2.5h-6.3l-2.5-2.5zM869.9 105.3h6.3l2.5 2.5v6.3l-2.5 2.5h-6.3l-2.5-2.5zM870.7 105h6.7l2.7 2.7v6.7l-2.7 2.7h-6.7l-2.7-2.7zM871.9 103.3h6.3l2.5 2.5v6.3l-2.5 2.5h-6.3l-2.5-2.5zM872.9 102.3h6.3l2.5 2.5v6.3l-2.5 2.5h-6.3l-2.5-2.5zM874.9 102.3h6.3l2.5 2.5v6.3l-2.5 2.5h-6.3l-2.5-2.5zM875.7 99h6.7l2.7 2.7v6.7l-2.7 2.7h-6.7l-2.7-2.7zM876.9 98.3h6.3l2.5 2.5v6.3l-2.5 2.5h-6.3l-2.5-2.5zM877.9 98.3h6.3l2.5 2.5v6.3l-2.5 2.5h-6.3l-2.5-2.5zM879.9 96.3h6.3l2.5 2.5v6.3l-2.5 2.5h-6.3l-2.5-2.5zM880.7 95h6.7l2.7 2.7v6.7l-2.7 2.7h-6.7l-2.7-2.7zM881.9 95.3h6.3l2.5 2.5v6.3l-2.5 2.5h-6.3l-2.5-2.5zM882.9 95.3h6.3l2.5 2.5v6.3l-2.5 2.5h-6.3l-2.5-2.5zM884.9 93.3h6.3l2.5 2.5v6.3l-2.5 2.5h-6.3l-2.5-2.5zM885.7 91h6.7l2.7 2.7v6.7l-2.7 2.7h-6.7l-2.7-2.7zM886.9 89.3h6.3l2.5 2.5v6.3l-2.5 2.5h-6.3l-2.5-2.5zM887.9 89.3h6.3l2.5 2.5v6.3l-2.5 2.5h-6.3l-2.5-2.5zM889.9 89.3h6.3l2.5 2.5v6.3l-2.5 2.5h-6.3l-2.5-2.5zM890.7 87h6.7l2.7 2.7v6.7l-2.7 2.7h-6.7l-2.7-2.7zM891.9 86.3h6.3l2.5 2.5v6.3l-2.5 2.5h-6.3l-2.5-2.5zM892.9 86.3h6.3l2.5 2.5v6.3l-2.5 2.5h-6.3l-2.5-2.5zM894.9 84.3h6.3l2.5 2.5v6.3l-2.5 2.5h-6.3l-2.5-2.5zM895.7 83h6.7l2.7 2.7v6.7l-2.7 2.7h-6.7l-2.7-2.7zM897.9 83.3h6.3l2.5 2.5v6.3l-2.5 2.5h-6.3l-2.5-2.5z"/>
</g>
<!-- arrows -->
<g stroke="#000" fill="#000">
<line x1="362.9" y1="220.3" x2="404.6" y2="419.5" stroke-width="5"/>
<path d="M407.3 432.6 L397.3 416 L404.9 418.8 L410.8 413.6 Z" stroke-width="0.8" stroke-linejoin="round"/>
</g>
<g stroke="#008000" fill="#008000">
<line x1="515.9" y1="214.1" x2="571.6" y2="363" stroke-width="5.2"/>
<path d="M576.6 376.4 L563.4 360.2 L571.2 362.4 L576.6 356.6 Z" stroke-width="0.8" stroke-linejoin="round"/>
</g>
<!-- series labels -->
<text class="ser" x="269.6" y="105.1" fill="#ff0000">A</text>
<text class="ser" x="743.4" y="265.2" fill="#0000ff">B</text>
<text class="ser" x="378" y="478.6" fill="#000">C</text>
<text class="ser" x="571.2" y="430.8" fill="#008000">D</text>
<!-- y tick labels -->
<g class="yl">
<text transform="translate(161.8 112.8) scale(1.13 1)">1</text>
<text transform="translate(161.8 249.4) scale(1.13 1)">0.8</text>
<text transform="translate(161.8 386.6) scale(1.13 1)">0.6</text>
<text transform="translate(161.8 522.4) scale(1.13 1)">0.4</text>
<text transform="translate(161.8 659.6) scale(1.13 1)">0.2</text>
<text transform="translate(161.8 796.2) scale(1.13 1)">0</text>
</g>
<!-- x tick labels -->
<g class="xl">
<text x="189.1" y="878">0</text>
<text x="344.5" y="878">30</text>
<text x="503.5" y="878">60</text>
<text x="657.6" y="878">90</text>
<text x="817.2" y="878">120</text>
<text x="974.6" y="878">150</text>
</g>
<!-- titles -->
<text class="ttl" x="528.6" y="970.2" font-size="40.4" text-anchor="middle">Time (h)</text>
<text class="ttl" font-size="46.4" word-spacing="-2.3" text-anchor="middle" transform="translate(54 377.6) rotate(-90)" xml:space="preserve">Cumulated normalised  energy</text>
</svg>
</body></html>
